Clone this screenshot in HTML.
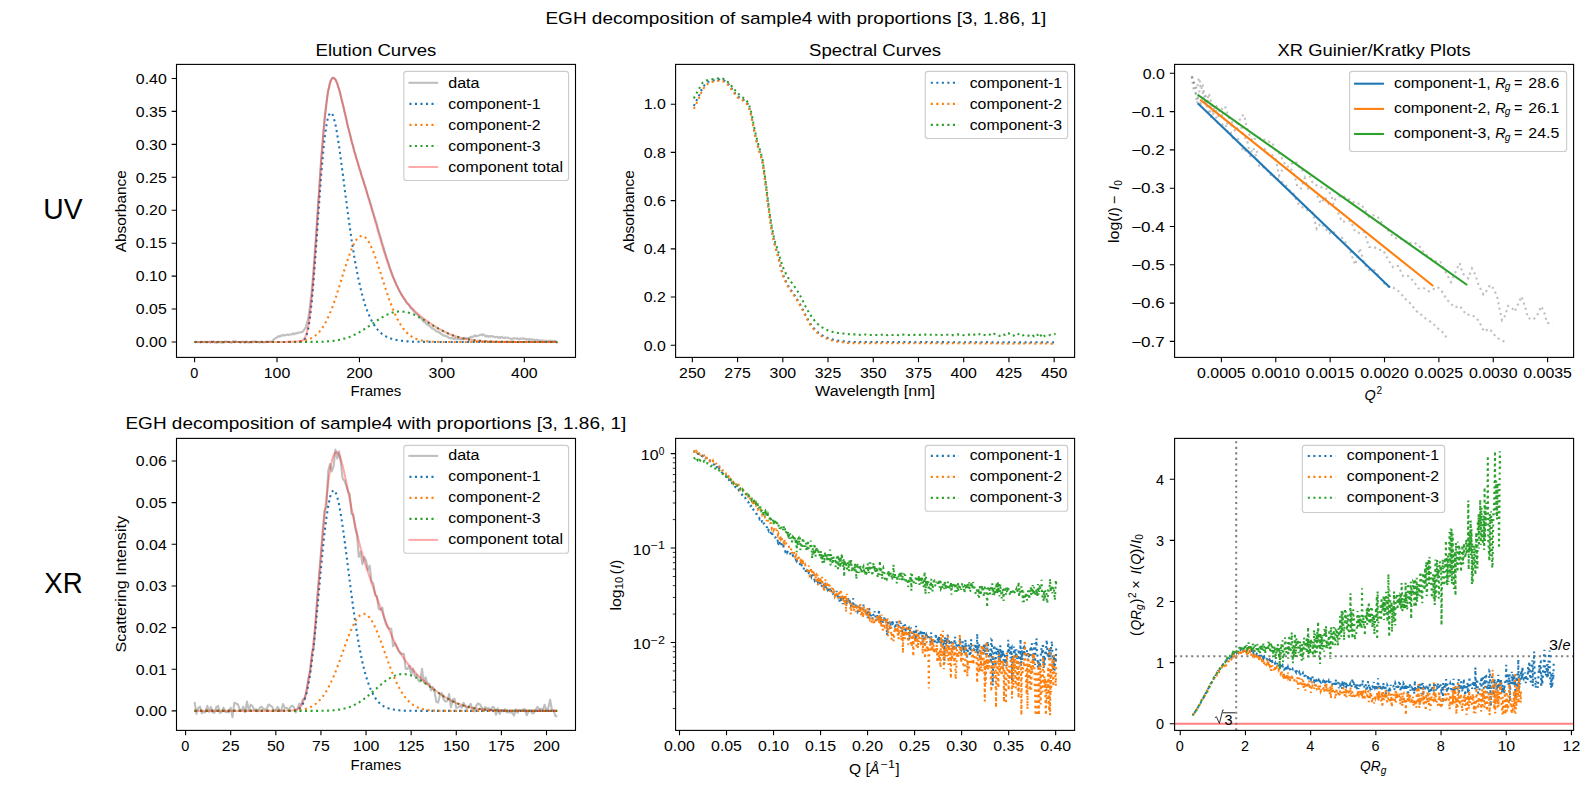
<!DOCTYPE html>
<html><head><meta charset="utf-8"><title>EGH decomposition</title>
<style>
html,body{margin:0;padding:0;background:#fff;}
body{width:1589px;height:789px;overflow:hidden;}
svg{display:block;font-family:"Liberation Sans",sans-serif;}
text{white-space:pre;}
</style></head><body>
<svg width="1589" height="789" viewBox="0 0 1589 789">
<rect width="1589" height="789" fill="#fff"/>
<text x="545.48" y="24.00" font-size="17.33" textLength="500.85" lengthAdjust="spacingAndGlyphs">EGH decomposition of sample4 with proportions [3, 1.86, 1]</text>
<text x="43.33" y="219.00" font-size="28.89" textLength="39.33" lengthAdjust="spacingAndGlyphs">UV</text>
<text x="44.33" y="592.50" font-size="28.89" textLength="38.33" lengthAdjust="spacingAndGlyphs">XR</text>
<clipPath id="c1"><rect x="176.50" y="64.40" width="399.00" height="293.00"/></clipPath>
<g clip-path="url(#c1)">
<path d="M194.6 341.3L195.4 342.2L196.2 342.0L197.1 341.8L197.9 342.3L198.7 342.0L199.5 342.0L200.4 342.7L201.2 341.6L202.0 341.8L202.8 342.2L203.7 342.1L204.5 341.8L205.3 342.1L206.1 342.1L207.0 342.6L207.8 341.8L208.6 342.0L209.4 341.9L210.3 342.6L211.1 341.3L211.9 341.9L212.7 342.2L213.6 341.2L214.4 342.0L215.2 342.6L216.0 342.2L216.9 342.9L217.7 341.6L218.5 342.2L219.3 342.3L220.2 341.6L221.0 342.7L221.8 341.8L222.6 342.8L223.5 342.3L224.3 342.5L225.1 341.4L225.9 341.3L226.7 342.1L227.6 341.7L228.4 342.1L229.2 341.8L230.0 342.3L230.9 342.7L231.7 342.7L232.5 341.8L233.3 341.1L234.2 341.9L235.0 342.2L235.8 341.2L236.6 341.9L237.5 342.0L238.3 341.9L239.1 342.1L239.9 342.1L240.8 342.6L241.6 341.8L242.4 342.0L243.2 341.5L244.1 342.1L244.9 342.8L245.7 342.0L246.5 341.3L247.4 342.2L248.2 342.4L249.0 342.5L249.8 342.4L250.7 342.1L251.5 342.5L252.3 341.4L253.1 342.1L253.9 342.0L254.8 341.4L255.6 341.4L256.4 342.1L257.2 341.9L258.1 341.7L258.9 342.1L259.7 342.7L260.5 341.7L261.4 341.6L262.2 341.8L263.0 342.4L263.8 342.1L264.7 342.2L265.5 342.1L266.3 341.5L267.1 341.4L268.0 341.7L268.8 341.7L269.6 341.6L270.4 341.8L271.3 341.7L272.1 341.6L272.9 340.9L273.7 339.2L274.6 338.9L275.4 338.4L276.2 337.7L277.0 337.4L277.9 336.5L278.7 336.2L279.5 336.7L280.3 335.8L281.2 336.1L282.0 335.2L282.8 335.5L283.6 334.8L284.4 335.5L285.3 335.3L286.1 335.0L286.9 334.6L287.7 334.6L288.6 335.2L289.4 334.5L290.2 334.5L291.0 334.5L291.9 334.5L292.7 333.4L293.5 334.1L294.3 334.1L295.2 333.4L296.0 333.4L296.8 333.4L297.6 332.8L298.5 332.8L299.3 332.6L300.1 332.2L300.9 332.2L301.8 332.2L302.6 331.6L303.4 330.9L304.2 329.6L305.1 328.7L305.9 327.0L306.7 323.8L307.5 321.1L308.4 317.2L309.2 311.3L310.0 305.7L310.8 298.3L311.7 290.7L312.5 282.1L313.3 272.4L314.1 261.5L314.9 250.3L315.8 238.9L316.6 226.6L317.4 214.9L318.2 202.0L319.1 190.5L319.9 177.8L320.7 165.8L321.5 154.5L322.4 143.6L323.2 134.9L324.0 124.8L324.8 116.1L325.7 108.6L326.5 102.5L327.3 96.1L328.1 90.4L329.0 87.6L329.8 83.4L330.6 80.6L331.4 79.5L332.3 77.8L333.1 78.1L333.9 78.1L334.7 78.9L335.6 79.7L336.4 81.5L337.2 83.1L338.0 86.3L338.9 88.7L339.7 91.2L340.5 94.5L341.3 98.5L342.1 101.1L343.0 105.1L343.8 108.3L344.6 111.9L345.4 115.1L346.3 119.1L347.1 123.4L347.9 126.7L348.7 129.3L349.6 133.0L350.4 135.8L351.2 139.4L352.0 142.9L352.9 145.3L353.7 149.0L354.5 152.5L355.3 153.8L356.2 158.2L357.0 160.0L357.8 162.6L358.6 165.6L359.5 169.0L360.3 170.6L361.1 174.2L361.9 176.8L362.8 179.0L363.6 181.2L364.4 184.0L365.2 186.4L366.1 189.5L366.9 192.0L367.7 195.0L368.5 197.3L369.4 199.6L370.2 202.6L371.0 205.0L371.8 208.1L372.6 210.8L373.5 213.2L374.3 216.1L375.1 218.5L375.9 221.4L376.8 223.6L377.6 227.2L378.4 230.0L379.2 233.1L380.1 235.5L380.9 238.1L381.7 241.5L382.5 244.0L383.4 246.5L384.2 249.7L385.0 252.6L385.8 254.7L386.7 257.7L387.5 260.2L388.3 262.5L389.1 265.0L390.0 268.1L390.8 270.5L391.6 272.5L392.4 274.9L393.3 277.8L394.1 278.6L394.9 281.1L395.7 282.8L396.6 285.4L397.4 286.2L398.2 288.6L399.0 290.1L399.9 292.2L400.7 293.2L401.5 294.7L402.3 296.1L403.1 297.2L404.0 298.6L404.8 299.5L405.6 301.3L406.4 302.7L407.3 303.4L408.1 304.2L408.9 305.0L409.7 306.2L410.6 308.3L411.4 308.4L412.2 308.9L413.0 310.4L413.9 311.5L414.7 312.1L415.5 313.2L416.3 313.6L417.2 314.7L418.0 315.0L418.8 316.2L419.6 317.5L420.5 317.7L421.3 318.4L422.1 319.7L422.9 320.4L423.8 321.9L424.6 321.4L425.4 322.7L426.2 324.0L427.1 324.6L427.9 324.7L428.7 325.0L429.5 326.0L430.3 326.4L431.2 327.7L432.0 328.4L432.8 328.2L433.6 328.9L434.5 329.7L435.3 329.8L436.1 331.2L436.9 331.6L437.8 331.5L438.6 331.7L439.4 332.9L440.2 332.8L441.1 334.1L441.9 334.2L442.7 334.8L443.5 335.8L444.4 335.5L445.2 335.6L446.0 336.3L446.8 336.6L447.7 336.4L448.5 337.7L449.3 338.1L450.1 338.0L451.0 338.4L451.8 337.6L452.6 338.3L453.4 338.9L454.3 338.9L455.1 337.7L455.9 339.2L456.7 339.3L457.6 339.0L458.4 338.9L459.2 339.1L460.0 339.5L460.8 339.6L461.7 338.8L462.5 339.0L463.3 339.5L464.1 338.3L465.0 338.3L465.8 338.5L466.6 338.4L467.4 338.0L468.3 338.1L469.1 338.1L469.9 337.2L470.7 337.7L471.6 336.7L472.4 337.2L473.2 336.4L474.0 336.2L474.9 335.2L475.7 336.2L476.5 336.1L477.3 335.7L478.2 335.7L479.0 335.4L479.8 335.0L480.6 334.8L481.5 334.5L482.3 335.5L483.1 334.3L483.9 334.7L484.8 335.6L485.6 336.6L486.4 335.8L487.2 335.9L488.1 336.9L488.9 336.1L489.7 336.3L490.5 336.6L491.3 336.1L492.2 336.1L493.0 336.8L493.8 336.6L494.6 337.0L495.5 337.1L496.3 336.9L497.1 336.8L497.9 337.3L498.8 338.0L499.6 337.0L500.4 337.9L501.2 337.3L502.1 336.8L502.9 337.5L503.7 338.1L504.5 338.3L505.4 337.3L506.2 337.8L507.0 337.7L507.8 337.6L508.7 338.0L509.5 338.2L510.3 338.5L511.1 339.4L512.0 338.8L512.8 338.3L513.6 338.4L514.4 338.3L515.3 338.5L516.1 338.5L516.9 338.3L517.7 339.0L518.5 338.8L519.4 339.4L520.2 338.4L521.0 338.8L521.8 338.7L522.7 338.3L523.5 338.5L524.3 339.0L525.1 338.8L526.0 339.7L526.8 339.1L527.6 339.3L528.4 340.0L529.3 338.9L530.1 339.8L530.9 339.3L531.7 339.8L532.6 339.3L533.4 339.3L534.2 340.2L535.0 340.5L535.9 340.0L536.7 339.7L537.5 340.2L538.3 340.4L539.2 340.0L540.0 341.4L540.8 340.6L541.6 340.9L542.5 340.3L543.3 340.8L544.1 341.0L544.9 340.7L545.8 341.2L546.6 340.7L547.4 341.0L548.2 340.9L549.0 341.1L549.9 340.5L550.7 340.9L551.5 340.7L552.3 340.8L553.2 341.3L554.0 340.8L554.8 340.9L555.6 341.3L556.5 342.3L557.3 343.3" fill="none" stroke="#808080" stroke-width="2.083" stroke-linejoin="round" stroke-opacity="0.50"/>
<path d="M194.6 342.0L195.4 342.0L196.2 342.0L197.1 342.0L197.9 342.0L198.7 342.0L199.5 342.0L200.4 342.0L201.2 342.0L202.0 342.0L202.8 342.0L203.7 342.0L204.5 342.0L205.3 342.0L206.1 342.0L207.0 342.0L207.8 342.0L208.6 342.0L209.4 342.0L210.3 342.0L211.1 342.0L211.9 342.0L212.7 342.0L213.6 342.0L214.4 342.0L215.2 342.0L216.0 342.0L216.9 342.0L217.7 342.0L218.5 342.0L219.3 342.0L220.2 342.0L221.0 342.0L221.8 342.0L222.6 342.0L223.5 342.0L224.3 342.0L225.1 342.0L225.9 342.0L226.7 342.0L227.6 342.0L228.4 342.0L229.2 342.0L230.0 342.0L230.9 342.0L231.7 342.0L232.5 342.0L233.3 342.0L234.2 342.0L235.0 342.0L235.8 342.0L236.6 342.0L237.5 342.0L238.3 342.0L239.1 342.0L239.9 342.0L240.8 342.0L241.6 342.0L242.4 342.0L243.2 342.0L244.1 342.0L244.9 342.0L245.7 342.0L246.5 342.0L247.4 342.0L248.2 342.0L249.0 342.0L249.8 342.0L250.7 342.0L251.5 342.0L252.3 342.0L253.1 342.0L253.9 342.0L254.8 342.0L255.6 342.0L256.4 342.0L257.2 342.0L258.1 342.0L258.9 342.0L259.7 342.0L260.5 342.0L261.4 342.0L262.2 342.0L263.0 342.0L263.8 342.0L264.7 342.0L265.5 342.0L266.3 342.0L267.1 342.0L268.0 342.0L268.8 342.0L269.6 342.0L270.4 342.0L271.3 342.0L272.1 342.0L272.9 342.0L273.7 342.0L274.6 342.0L275.4 342.0L276.2 342.0L277.0 342.0L277.9 342.0L278.7 342.0L279.5 342.0L280.3 342.0L281.2 342.0L282.0 342.0L282.8 342.0L283.6 342.0L284.4 342.0L285.3 342.0L286.1 342.0L286.9 342.0L287.7 342.0L288.6 342.0L289.4 342.0L290.2 342.0L291.0 342.0L291.9 342.0L292.7 342.0L293.5 342.0L294.3 342.0L295.2 342.0L296.0 342.0L296.8 342.0L297.6 342.0L298.5 342.0L299.3 342.0L300.1 341.9L300.9 341.9L301.8 341.7L302.6 341.4L303.4 340.9L304.2 340.1L305.1 338.9L305.9 337.2L306.7 334.8L307.5 331.7L308.4 327.8L309.2 323.0L310.0 317.1L310.8 310.3L311.7 302.5L312.5 293.8L313.3 284.3L314.1 274.0L314.9 263.0L315.8 251.6L316.6 239.9L317.4 227.9L318.2 216.0L319.1 204.2L319.9 192.8L320.7 181.7L321.5 171.2L322.4 161.4L323.2 152.4L324.0 144.2L324.8 136.9L325.7 130.5L326.5 125.1L327.3 120.7L328.1 117.3L329.0 114.9L329.8 113.4L330.6 112.8L331.4 113.0L332.3 114.1L333.1 115.9L333.9 118.4L334.7 121.6L335.6 125.3L336.4 129.6L337.2 134.3L338.0 139.4L338.9 144.9L339.7 150.6L340.5 156.6L341.3 162.7L342.1 169.0L343.0 175.4L343.8 181.8L344.6 188.3L345.4 194.7L346.3 201.1L347.1 207.4L347.9 213.6L348.7 219.7L349.6 225.7L350.4 231.5L351.2 237.2L352.0 242.7L352.9 248.0L353.7 253.1L354.5 258.0L355.3 262.8L356.2 267.3L357.0 271.7L357.8 275.8L358.6 279.8L359.5 283.6L360.3 287.2L361.1 290.6L361.9 293.8L362.8 296.9L363.6 299.8L364.4 302.5L365.2 305.1L366.1 307.6L366.9 309.9L367.7 312.1L368.5 314.1L369.4 316.0L370.2 317.8L371.0 319.5L371.8 321.1L372.6 322.6L373.5 323.9L374.3 325.2L375.1 326.4L375.9 327.6L376.8 328.6L377.6 329.6L378.4 330.5L379.2 331.4L380.1 332.2L380.9 332.9L381.7 333.6L382.5 334.2L383.4 334.8L384.2 335.4L385.0 335.9L385.8 336.3L386.7 336.8L387.5 337.2L388.3 337.6L389.1 337.9L390.0 338.2L390.8 338.5L391.6 338.8L392.4 339.0L393.3 339.3L394.1 339.5L394.9 339.7L395.7 339.9L396.6 340.0L397.4 340.2L398.2 340.4L399.0 340.5L399.9 340.6L400.7 340.7L401.5 340.8L402.3 340.9L403.1 341.0L404.0 341.1L404.8 341.2L405.6 341.2L406.4 341.3L407.3 341.4L408.1 341.4L408.9 341.5L409.7 341.5L410.6 341.5L411.4 341.6L412.2 341.6L413.0 341.7L413.9 341.7L414.7 341.7L415.5 341.7L416.3 341.8L417.2 341.8L418.0 341.8L418.8 341.8L419.6 341.8L420.5 341.8L421.3 341.9L422.1 341.9L422.9 341.9L423.8 341.9L424.6 341.9L425.4 341.9L426.2 341.9L427.1 341.9L427.9 341.9L428.7 341.9L429.5 341.9L430.3 341.9L431.2 342.0L432.0 342.0L432.8 342.0L433.6 342.0L434.5 342.0L435.3 342.0L436.1 342.0L436.9 342.0L437.8 342.0L438.6 342.0L439.4 342.0L440.2 342.0L441.1 342.0L441.9 342.0L442.7 342.0L443.5 342.0L444.4 342.0L445.2 342.0L446.0 342.0L446.8 342.0L447.7 342.0L448.5 342.0L449.3 342.0L450.1 342.0L451.0 342.0L451.8 342.0L452.6 342.0L453.4 342.0L454.3 342.0L455.1 342.0L455.9 342.0L456.7 342.0L457.6 342.0L458.4 342.0L459.2 342.0L460.0 342.0L460.8 342.0L461.7 342.0L462.5 342.0L463.3 342.0L464.1 342.0L465.0 342.0L465.8 342.0L466.6 342.0L467.4 342.0L468.3 342.0L469.1 342.0L469.9 342.0L470.7 342.0L471.6 342.0L472.4 342.0L473.2 342.0L474.0 342.0L474.9 342.0L475.7 342.0L476.5 342.0L477.3 342.0L478.2 342.0L479.0 342.0L479.8 342.0L480.6 342.0L481.5 342.0L482.3 342.0L483.1 342.0L483.9 342.0L484.8 342.0L485.6 342.0L486.4 342.0L487.2 342.0L488.1 342.0L488.9 342.0L489.7 342.0L490.5 342.0L491.3 342.0L492.2 342.0L493.0 342.0L493.8 342.0L494.6 342.0L495.5 342.0L496.3 342.0L497.1 342.0L497.9 342.0L498.8 342.0L499.6 342.0L500.4 342.0L501.2 342.0L502.1 342.0L502.9 342.0L503.7 342.0L504.5 342.0L505.4 342.0L506.2 342.0L507.0 342.0L507.8 342.0L508.7 342.0L509.5 342.0L510.3 342.0L511.1 342.0L512.0 342.0L512.8 342.0L513.6 342.0L514.4 342.0L515.3 342.0L516.1 342.0L516.9 342.0L517.7 342.0L518.5 342.0L519.4 342.0L520.2 342.0L521.0 342.0L521.8 342.0L522.7 342.0L523.5 342.0L524.3 342.0L525.1 342.0L526.0 342.0L526.8 342.0L527.6 342.0L528.4 342.0L529.3 342.0L530.1 342.0L530.9 342.0L531.7 342.0L532.6 342.0L533.4 342.0L534.2 342.0L535.0 342.0L535.9 342.0L536.7 342.0L537.5 342.0L538.3 342.0L539.2 342.0L540.0 342.0L540.8 342.0L541.6 342.0L542.5 342.0L543.3 342.0L544.1 342.0L544.9 342.0L545.8 342.0L546.6 342.0L547.4 342.0L548.2 342.0L549.0 342.0L549.9 342.0L550.7 342.0L551.5 342.0L552.3 342.0L553.2 342.0L554.0 342.0L554.8 342.0L555.6 342.0L556.5 342.0L557.3 342.0" fill="none" stroke="#1f77b4" stroke-width="2.083" stroke-dasharray="2.083 3.437"/>
<path d="M194.6 342.0L195.4 342.0L196.2 342.0L197.1 342.0L197.9 342.0L198.7 342.0L199.5 342.0L200.4 342.0L201.2 342.0L202.0 342.0L202.8 342.0L203.7 342.0L204.5 342.0L205.3 342.0L206.1 342.0L207.0 342.0L207.8 342.0L208.6 342.0L209.4 342.0L210.3 342.0L211.1 342.0L211.9 342.0L212.7 342.0L213.6 342.0L214.4 342.0L215.2 342.0L216.0 342.0L216.9 342.0L217.7 342.0L218.5 342.0L219.3 342.0L220.2 342.0L221.0 342.0L221.8 342.0L222.6 342.0L223.5 342.0L224.3 342.0L225.1 342.0L225.9 342.0L226.7 342.0L227.6 342.0L228.4 342.0L229.2 342.0L230.0 342.0L230.9 342.0L231.7 342.0L232.5 342.0L233.3 342.0L234.2 342.0L235.0 342.0L235.8 342.0L236.6 342.0L237.5 342.0L238.3 342.0L239.1 342.0L239.9 342.0L240.8 342.0L241.6 342.0L242.4 342.0L243.2 342.0L244.1 342.0L244.9 342.0L245.7 342.0L246.5 342.0L247.4 342.0L248.2 342.0L249.0 342.0L249.8 342.0L250.7 342.0L251.5 342.0L252.3 342.0L253.1 342.0L253.9 342.0L254.8 342.0L255.6 342.0L256.4 342.0L257.2 342.0L258.1 342.0L258.9 342.0L259.7 342.0L260.5 342.0L261.4 342.0L262.2 342.0L263.0 342.0L263.8 342.0L264.7 342.0L265.5 342.0L266.3 342.0L267.1 342.0L268.0 342.0L268.8 342.0L269.6 342.0L270.4 342.0L271.3 342.0L272.1 342.0L272.9 342.0L273.7 342.0L274.6 342.0L275.4 342.0L276.2 342.0L277.0 342.0L277.9 342.0L278.7 342.0L279.5 342.0L280.3 342.0L281.2 342.0L282.0 342.0L282.8 342.0L283.6 342.0L284.4 342.0L285.3 342.0L286.1 341.9L286.9 341.9L287.7 341.9L288.6 341.9L289.4 341.9L290.2 341.9L291.0 341.9L291.9 341.8L292.7 341.8L293.5 341.8L294.3 341.7L295.2 341.7L296.0 341.7L296.8 341.6L297.6 341.5L298.5 341.5L299.3 341.4L300.1 341.3L300.9 341.2L301.8 341.1L302.6 340.9L303.4 340.8L304.2 340.6L305.1 340.4L305.9 340.2L306.7 340.0L307.5 339.7L308.4 339.5L309.2 339.1L310.0 338.8L310.8 338.4L311.7 338.0L312.5 337.5L313.3 337.0L314.1 336.5L314.9 335.9L315.8 335.2L316.6 334.5L317.4 333.7L318.2 332.9L319.1 332.0L319.9 331.1L320.7 330.0L321.5 328.9L322.4 327.8L323.2 326.5L324.0 325.2L324.8 323.8L325.7 322.3L326.5 320.7L327.3 319.0L328.1 317.3L329.0 315.5L329.8 313.6L330.6 311.6L331.4 309.5L332.3 307.3L333.1 305.1L333.9 302.8L334.7 300.5L335.6 298.0L336.4 295.6L337.2 293.0L338.0 290.4L338.9 287.8L339.7 285.2L340.5 282.5L341.3 279.8L342.1 277.1L343.0 274.4L343.8 271.8L344.6 269.1L345.4 266.5L346.3 263.9L347.1 261.4L347.9 259.0L348.7 256.6L349.6 254.3L350.4 252.1L351.2 250.0L352.0 248.0L352.9 246.2L353.7 244.4L354.5 242.9L355.3 241.4L356.2 240.1L357.0 239.0L357.8 238.1L358.6 237.3L359.5 236.7L360.3 236.3L361.1 236.0L361.9 235.9L362.8 236.0L363.6 236.3L364.4 236.8L365.2 237.4L366.1 238.2L366.9 239.2L367.7 240.3L368.5 241.6L369.4 243.1L370.2 244.7L371.0 246.4L371.8 248.2L372.6 250.2L373.5 252.2L374.3 254.4L375.1 256.6L375.9 259.0L376.8 261.4L377.6 263.8L378.4 266.3L379.2 268.9L380.1 271.4L380.9 274.0L381.7 276.6L382.5 279.2L383.4 281.8L384.2 284.4L385.0 287.0L385.8 289.5L386.7 292.0L387.5 294.4L388.3 296.8L389.1 299.2L390.0 301.5L390.8 303.7L391.6 305.9L392.4 308.0L393.3 310.0L394.1 311.9L394.9 313.8L395.7 315.6L396.6 317.3L397.4 319.0L398.2 320.6L399.0 322.1L399.9 323.5L400.7 324.8L401.5 326.1L402.3 327.3L403.1 328.4L404.0 329.5L404.8 330.5L405.6 331.4L406.4 332.3L407.3 333.1L408.1 333.9L408.9 334.6L409.7 335.2L410.6 335.8L411.4 336.4L412.2 336.9L413.0 337.4L413.9 337.8L414.7 338.2L415.5 338.6L416.3 338.9L417.2 339.2L418.0 339.5L418.8 339.8L419.6 340.0L420.5 340.2L421.3 340.4L422.1 340.6L422.9 340.7L423.8 340.9L424.6 341.0L425.4 341.1L426.2 341.2L427.1 341.3L427.9 341.4L428.7 341.5L429.5 341.5L430.3 341.6L431.2 341.6L432.0 341.7L432.8 341.7L433.6 341.8L434.5 341.8L435.3 341.8L436.1 341.8L436.9 341.9L437.8 341.9L438.6 341.9L439.4 341.9L440.2 341.9L441.1 341.9L441.9 341.9L442.7 341.9L443.5 342.0L444.4 342.0L445.2 342.0L446.0 342.0L446.8 342.0L447.7 342.0L448.5 342.0L449.3 342.0L450.1 342.0L451.0 342.0L451.8 342.0L452.6 342.0L453.4 342.0L454.3 342.0L455.1 342.0L455.9 342.0L456.7 342.0L457.6 342.0L458.4 342.0L459.2 342.0L460.0 342.0L460.8 342.0L461.7 342.0L462.5 342.0L463.3 342.0L464.1 342.0L465.0 342.0L465.8 342.0L466.6 342.0L467.4 342.0L468.3 342.0L469.1 342.0L469.9 342.0L470.7 342.0L471.6 342.0L472.4 342.0L473.2 342.0L474.0 342.0L474.9 342.0L475.7 342.0L476.5 342.0L477.3 342.0L478.2 342.0L479.0 342.0L479.8 342.0L480.6 342.0L481.5 342.0L482.3 342.0L483.1 342.0L483.9 342.0L484.8 342.0L485.6 342.0L486.4 342.0L487.2 342.0L488.1 342.0L488.9 342.0L489.7 342.0L490.5 342.0L491.3 342.0L492.2 342.0L493.0 342.0L493.8 342.0L494.6 342.0L495.5 342.0L496.3 342.0L497.1 342.0L497.9 342.0L498.8 342.0L499.6 342.0L500.4 342.0L501.2 342.0L502.1 342.0L502.9 342.0L503.7 342.0L504.5 342.0L505.4 342.0L506.2 342.0L507.0 342.0L507.8 342.0L508.7 342.0L509.5 342.0L510.3 342.0L511.1 342.0L512.0 342.0L512.8 342.0L513.6 342.0L514.4 342.0L515.3 342.0L516.1 342.0L516.9 342.0L517.7 342.0L518.5 342.0L519.4 342.0L520.2 342.0L521.0 342.0L521.8 342.0L522.7 342.0L523.5 342.0L524.3 342.0L525.1 342.0L526.0 342.0L526.8 342.0L527.6 342.0L528.4 342.0L529.3 342.0L530.1 342.0L530.9 342.0L531.7 342.0L532.6 342.0L533.4 342.0L534.2 342.0L535.0 342.0L535.9 342.0L536.7 342.0L537.5 342.0L538.3 342.0L539.2 342.0L540.0 342.0L540.8 342.0L541.6 342.0L542.5 342.0L543.3 342.0L544.1 342.0L544.9 342.0L545.8 342.0L546.6 342.0L547.4 342.0L548.2 342.0L549.0 342.0L549.9 342.0L550.7 342.0L551.5 342.0L552.3 342.0L553.2 342.0L554.0 342.0L554.8 342.0L555.6 342.0L556.5 342.0L557.3 342.0" fill="none" stroke="#ff7f0e" stroke-width="2.083" stroke-dasharray="2.083 3.437"/>
<path d="M194.6 342.0L195.4 342.0L196.2 342.0L197.1 342.0L197.9 342.0L198.7 342.0L199.5 342.0L200.4 342.0L201.2 342.0L202.0 342.0L202.8 342.0L203.7 342.0L204.5 342.0L205.3 342.0L206.1 342.0L207.0 342.0L207.8 342.0L208.6 342.0L209.4 342.0L210.3 342.0L211.1 342.0L211.9 342.0L212.7 342.0L213.6 342.0L214.4 342.0L215.2 342.0L216.0 342.0L216.9 342.0L217.7 342.0L218.5 342.0L219.3 342.0L220.2 342.0L221.0 342.0L221.8 342.0L222.6 342.0L223.5 342.0L224.3 342.0L225.1 342.0L225.9 342.0L226.7 342.0L227.6 342.0L228.4 342.0L229.2 342.0L230.0 342.0L230.9 342.0L231.7 342.0L232.5 342.0L233.3 342.0L234.2 342.0L235.0 342.0L235.8 342.0L236.6 342.0L237.5 342.0L238.3 342.0L239.1 342.0L239.9 342.0L240.8 342.0L241.6 342.0L242.4 342.0L243.2 342.0L244.1 342.0L244.9 342.0L245.7 342.0L246.5 342.0L247.4 342.0L248.2 342.0L249.0 342.0L249.8 342.0L250.7 342.0L251.5 342.0L252.3 342.0L253.1 342.0L253.9 342.0L254.8 342.0L255.6 342.0L256.4 342.0L257.2 342.0L258.1 342.0L258.9 342.0L259.7 342.0L260.5 342.0L261.4 342.0L262.2 342.0L263.0 342.0L263.8 342.0L264.7 342.0L265.5 342.0L266.3 342.0L267.1 342.0L268.0 342.0L268.8 342.0L269.6 342.0L270.4 342.0L271.3 342.0L272.1 342.0L272.9 342.0L273.7 342.0L274.6 342.0L275.4 342.0L276.2 342.0L277.0 342.0L277.9 342.0L278.7 342.0L279.5 342.0L280.3 342.0L281.2 342.0L282.0 342.0L282.8 342.0L283.6 342.0L284.4 342.0L285.3 342.0L286.1 342.0L286.9 342.0L287.7 342.0L288.6 342.0L289.4 342.0L290.2 342.0L291.0 342.0L291.9 342.0L292.7 342.0L293.5 342.0L294.3 342.0L295.2 342.0L296.0 342.0L296.8 342.0L297.6 342.0L298.5 342.0L299.3 342.0L300.1 342.0L300.9 342.0L301.8 342.0L302.6 342.0L303.4 342.0L304.2 342.0L305.1 342.0L305.9 342.0L306.7 342.0L307.5 342.0L308.4 342.0L309.2 342.0L310.0 341.9L310.8 341.9L311.7 341.9L312.5 341.9L313.3 341.9L314.1 341.9L314.9 341.9L315.8 341.9L316.6 341.9L317.4 341.8L318.2 341.8L319.1 341.8L319.9 341.8L320.7 341.7L321.5 341.7L322.4 341.7L323.2 341.7L324.0 341.6L324.8 341.6L325.7 341.5L326.5 341.5L327.3 341.4L328.1 341.4L329.0 341.3L329.8 341.2L330.6 341.1L331.4 341.1L332.3 341.0L333.1 340.9L333.9 340.8L334.7 340.7L335.6 340.5L336.4 340.4L337.2 340.3L338.0 340.1L338.9 340.0L339.7 339.8L340.5 339.7L341.3 339.5L342.1 339.3L343.0 339.1L343.8 338.8L344.6 338.6L345.4 338.4L346.3 338.1L347.1 337.9L347.9 337.6L348.7 337.3L349.6 337.0L350.4 336.6L351.2 336.3L352.0 336.0L352.9 335.6L353.7 335.2L354.5 334.8L355.3 334.4L356.2 334.0L357.0 333.6L357.8 333.1L358.6 332.7L359.5 332.2L360.3 331.7L361.1 331.3L361.9 330.8L362.8 330.2L363.6 329.7L364.4 329.2L365.2 328.7L366.1 328.1L366.9 327.6L367.7 327.0L368.5 326.4L369.4 325.9L370.2 325.3L371.0 324.7L371.8 324.2L372.6 323.6L373.5 323.0L374.3 322.4L375.1 321.9L375.9 321.3L376.8 320.7L377.6 320.2L378.4 319.6L379.2 319.1L380.1 318.6L380.9 318.1L381.7 317.6L382.5 317.1L383.4 316.6L384.2 316.1L385.0 315.7L385.8 315.3L386.7 314.9L387.5 314.5L388.3 314.1L389.1 313.8L390.0 313.5L390.8 313.1L391.6 312.9L392.4 312.6L393.3 312.4L394.1 312.2L394.9 312.0L395.7 311.8L396.6 311.7L397.4 311.6L398.2 311.5L399.0 311.5L399.9 311.4L400.7 311.4L401.5 311.5L402.3 311.5L403.1 311.6L404.0 311.7L404.8 311.8L405.6 311.9L406.4 312.1L407.3 312.3L408.1 312.5L408.9 312.8L409.7 313.0L410.6 313.3L411.4 313.6L412.2 313.9L413.0 314.3L413.9 314.6L414.7 315.0L415.5 315.4L416.3 315.8L417.2 316.2L418.0 316.6L418.8 317.0L419.6 317.5L420.5 317.9L421.3 318.4L422.1 318.9L422.9 319.4L423.8 319.8L424.6 320.3L425.4 320.8L426.2 321.3L427.1 321.8L427.9 322.3L428.7 322.8L429.5 323.3L430.3 323.8L431.2 324.3L432.0 324.8L432.8 325.3L433.6 325.8L434.5 326.3L435.3 326.8L436.1 327.3L436.9 327.8L437.8 328.2L438.6 328.7L439.4 329.1L440.2 329.6L441.1 330.0L441.9 330.5L442.7 330.9L443.5 331.3L444.4 331.7L445.2 332.1L446.0 332.5L446.8 332.9L447.7 333.2L448.5 333.6L449.3 333.9L450.1 334.3L451.0 334.6L451.8 334.9L452.6 335.2L453.4 335.5L454.3 335.8L455.1 336.1L455.9 336.4L456.7 336.6L457.6 336.9L458.4 337.1L459.2 337.4L460.0 337.6L460.8 337.8L461.7 338.0L462.5 338.2L463.3 338.4L464.1 338.6L465.0 338.8L465.8 338.9L466.6 339.1L467.4 339.3L468.3 339.4L469.1 339.6L469.9 339.7L470.7 339.8L471.6 339.9L472.4 340.1L473.2 340.2L474.0 340.3L474.9 340.4L475.7 340.5L476.5 340.6L477.3 340.6L478.2 340.7L479.0 340.8L479.8 340.9L480.6 340.9L481.5 341.0L482.3 341.1L483.1 341.1L483.9 341.2L484.8 341.2L485.6 341.3L486.4 341.3L487.2 341.4L488.1 341.4L488.9 341.5L489.7 341.5L490.5 341.5L491.3 341.6L492.2 341.6L493.0 341.6L493.8 341.6L494.6 341.7L495.5 341.7L496.3 341.7L497.1 341.7L497.9 341.8L498.8 341.8L499.6 341.8L500.4 341.8L501.2 341.8L502.1 341.8L502.9 341.8L503.7 341.9L504.5 341.9L505.4 341.9L506.2 341.9L507.0 341.9L507.8 341.9L508.7 341.9L509.5 341.9L510.3 341.9L511.1 341.9L512.0 341.9L512.8 341.9L513.6 341.9L514.4 341.9L515.3 342.0L516.1 342.0L516.9 342.0L517.7 342.0L518.5 342.0L519.4 342.0L520.2 342.0L521.0 342.0L521.8 342.0L522.7 342.0L523.5 342.0L524.3 342.0L525.1 342.0L526.0 342.0L526.8 342.0L527.6 342.0L528.4 342.0L529.3 342.0L530.1 342.0L530.9 342.0L531.7 342.0L532.6 342.0L533.4 342.0L534.2 342.0L535.0 342.0L535.9 342.0L536.7 342.0L537.5 342.0L538.3 342.0L539.2 342.0L540.0 342.0L540.8 342.0L541.6 342.0L542.5 342.0L543.3 342.0L544.1 342.0L544.9 342.0L545.8 342.0L546.6 342.0L547.4 342.0L548.2 342.0L549.0 342.0L549.9 342.0L550.7 342.0L551.5 342.0L552.3 342.0L553.2 342.0L554.0 342.0L554.8 342.0L555.6 342.0L556.5 342.0L557.3 342.0" fill="none" stroke="#2ca02c" stroke-width="2.083" stroke-dasharray="2.083 3.437"/>
<path d="M194.6 342.0L195.4 342.0L196.2 342.0L197.1 342.0L197.9 342.0L198.7 342.0L199.5 342.0L200.4 342.0L201.2 342.0L202.0 342.0L202.8 342.0L203.7 342.0L204.5 342.0L205.3 342.0L206.1 342.0L207.0 342.0L207.8 342.0L208.6 342.0L209.4 342.0L210.3 342.0L211.1 342.0L211.9 342.0L212.7 342.0L213.6 342.0L214.4 342.0L215.2 342.0L216.0 342.0L216.9 342.0L217.7 342.0L218.5 342.0L219.3 342.0L220.2 342.0L221.0 342.0L221.8 342.0L222.6 342.0L223.5 342.0L224.3 342.0L225.1 342.0L225.9 342.0L226.7 342.0L227.6 342.0L228.4 342.0L229.2 342.0L230.0 342.0L230.9 342.0L231.7 342.0L232.5 342.0L233.3 342.0L234.2 342.0L235.0 342.0L235.8 342.0L236.6 342.0L237.5 342.0L238.3 342.0L239.1 342.0L239.9 342.0L240.8 342.0L241.6 342.0L242.4 342.0L243.2 342.0L244.1 342.0L244.9 342.0L245.7 342.0L246.5 342.0L247.4 342.0L248.2 342.0L249.0 342.0L249.8 342.0L250.7 342.0L251.5 342.0L252.3 342.0L253.1 342.0L253.9 342.0L254.8 342.0L255.6 342.0L256.4 342.0L257.2 342.0L258.1 342.0L258.9 342.0L259.7 342.0L260.5 342.0L261.4 342.0L262.2 342.0L263.0 342.0L263.8 342.0L264.7 342.0L265.5 342.0L266.3 342.0L267.1 342.0L268.0 342.0L268.8 342.0L269.6 342.0L270.4 342.0L271.3 342.0L272.1 342.0L272.9 342.0L273.7 342.0L274.6 342.0L275.4 342.0L276.2 342.0L277.0 342.0L277.9 342.0L278.7 342.0L279.5 342.0L280.3 342.0L281.2 342.0L282.0 342.0L282.8 342.0L283.6 342.0L284.4 342.0L285.3 342.0L286.1 341.9L286.9 341.9L287.7 341.9L288.6 341.9L289.4 341.9L290.2 341.9L291.0 341.9L291.9 341.8L292.7 341.8L293.5 341.8L294.3 341.7L295.2 341.7L296.0 341.6L296.8 341.6L297.6 341.5L298.5 341.4L299.3 341.4L300.1 341.2L300.9 341.0L301.8 340.8L302.6 340.3L303.4 339.7L304.2 338.7L305.1 337.3L305.9 335.4L306.7 332.8L307.5 329.5L308.4 325.2L309.2 320.0L310.0 313.9L310.8 306.7L311.7 298.5L312.5 289.3L313.3 279.2L314.1 268.3L314.9 256.8L315.8 244.7L316.6 232.2L317.4 219.5L318.2 206.7L319.1 194.1L319.9 181.6L320.7 169.5L321.5 157.9L322.4 146.9L323.2 136.5L324.0 127.0L324.8 118.2L325.7 110.3L326.5 103.3L327.3 97.2L328.1 92.0L329.0 87.6L329.8 84.1L330.6 81.5L331.4 79.6L332.3 78.4L333.1 77.9L333.9 78.0L334.7 78.7L335.6 79.9L336.4 81.6L337.2 83.6L338.0 86.0L338.9 88.7L339.7 91.6L340.5 94.7L341.3 98.0L342.1 101.4L343.0 104.9L343.8 108.5L344.6 112.0L345.4 115.6L346.3 119.2L347.1 122.7L347.9 126.2L348.7 129.6L349.6 132.9L350.4 136.2L351.2 139.5L352.0 142.6L352.9 145.7L353.7 148.7L354.5 151.7L355.3 154.6L356.2 157.5L357.0 160.3L357.8 163.0L358.6 165.8L359.5 168.5L360.3 171.2L361.1 173.8L361.9 176.5L362.8 179.2L363.6 181.9L364.4 184.5L365.2 187.2L366.1 189.9L366.9 192.7L367.7 195.4L368.5 198.2L369.4 201.0L370.2 203.8L371.0 206.6L371.8 209.4L372.6 212.3L373.5 215.2L374.3 218.1L375.1 220.9L375.9 223.8L376.8 226.7L377.6 229.6L378.4 232.5L379.2 235.3L380.1 238.2L380.9 241.0L381.7 243.8L382.5 246.5L383.4 249.2L384.2 251.9L385.0 254.5L385.8 257.1L386.7 259.6L387.5 262.1L388.3 264.5L389.1 266.9L390.0 269.2L390.8 271.4L391.6 273.5L392.4 275.6L393.3 277.7L394.1 279.6L394.9 281.5L395.7 283.3L396.6 285.1L397.4 286.8L398.2 288.4L399.0 290.0L399.9 291.5L400.7 293.0L401.5 294.4L402.3 295.7L403.1 297.0L404.0 298.3L404.8 299.4L405.6 300.6L406.4 301.7L407.3 302.8L408.1 303.8L408.9 304.8L409.7 305.7L410.6 306.7L411.4 307.6L412.2 308.4L413.0 309.3L413.9 310.1L414.7 310.9L415.5 311.7L416.3 312.4L417.2 313.2L418.0 313.9L418.8 314.6L419.6 315.3L420.5 316.0L421.3 316.7L422.1 317.3L422.9 318.0L423.8 318.6L424.6 319.2L425.4 319.8L426.2 320.5L427.1 321.1L427.9 321.6L428.7 322.2L429.5 322.8L430.3 323.4L431.2 323.9L432.0 324.5L432.8 325.0L433.6 325.5L434.5 326.1L435.3 326.6L436.1 327.1L436.9 327.6L437.8 328.1L438.6 328.6L439.4 329.0L440.2 329.5L441.1 329.9L441.9 330.4L442.7 330.8L443.5 331.2L444.4 331.7L445.2 332.1L446.0 332.4L446.8 332.8L447.7 333.2L448.5 333.6L449.3 333.9L450.1 334.3L451.0 334.6L451.8 334.9L452.6 335.2L453.4 335.5L454.3 335.8L455.1 336.1L455.9 336.4L456.7 336.6L457.6 336.9L458.4 337.1L459.2 337.4L460.0 337.6L460.8 337.8L461.7 338.0L462.5 338.2L463.3 338.4L464.1 338.6L465.0 338.8L465.8 338.9L466.6 339.1L467.4 339.3L468.3 339.4L469.1 339.5L469.9 339.7L470.7 339.8L471.6 339.9L472.4 340.1L473.2 340.2L474.0 340.3L474.9 340.4L475.7 340.5L476.5 340.6L477.3 340.6L478.2 340.7L479.0 340.8L479.8 340.9L480.6 340.9L481.5 341.0L482.3 341.1L483.1 341.1L483.9 341.2L484.8 341.2L485.6 341.3L486.4 341.3L487.2 341.4L488.1 341.4L488.9 341.5L489.7 341.5L490.5 341.5L491.3 341.6L492.2 341.6L493.0 341.6L493.8 341.6L494.6 341.7L495.5 341.7L496.3 341.7L497.1 341.7L497.9 341.8L498.8 341.8L499.6 341.8L500.4 341.8L501.2 341.8L502.1 341.8L502.9 341.8L503.7 341.9L504.5 341.9L505.4 341.9L506.2 341.9L507.0 341.9L507.8 341.9L508.7 341.9L509.5 341.9L510.3 341.9L511.1 341.9L512.0 341.9L512.8 341.9L513.6 341.9L514.4 341.9L515.3 342.0L516.1 342.0L516.9 342.0L517.7 342.0L518.5 342.0L519.4 342.0L520.2 342.0L521.0 342.0L521.8 342.0L522.7 342.0L523.5 342.0L524.3 342.0L525.1 342.0L526.0 342.0L526.8 342.0L527.6 342.0L528.4 342.0L529.3 342.0L530.1 342.0L530.9 342.0L531.7 342.0L532.6 342.0L533.4 342.0L534.2 342.0L535.0 342.0L535.9 342.0L536.7 342.0L537.5 342.0L538.3 342.0L539.2 342.0L540.0 342.0L540.8 342.0L541.6 342.0L542.5 342.0L543.3 342.0L544.1 342.0L544.9 342.0L545.8 342.0L546.6 342.0L547.4 342.0L548.2 342.0L549.0 342.0L549.9 342.0L550.7 342.0L551.5 342.0L552.3 342.0L553.2 342.0L554.0 342.0L554.8 342.0L555.6 342.0L556.5 342.0L557.3 342.0" fill="none" stroke="#ff0000" stroke-width="2.083" stroke-linejoin="round" stroke-opacity="0.33"/>
</g>
<rect x="176.50" y="64.40" width="399.00" height="293.00" fill="none" stroke="#000" stroke-width="1.11" stroke-linejoin="miter"/>
<path d="M194.60 357.40v4.86M277.03 357.40v4.86M359.46 357.40v4.86M441.89 357.40v4.86M524.32 357.40v4.86" stroke="#000" stroke-width="1.11" fill="none"/>
<text x="190.18" y="377.80" font-size="14.44">0</text>
<text x="263.78" y="377.80" font-size="14.44" textLength="26.51" lengthAdjust="spacingAndGlyphs">100</text>
<text x="346.21" y="377.80" font-size="14.44" textLength="26.51" lengthAdjust="spacingAndGlyphs">200</text>
<text x="428.64" y="377.80" font-size="14.44" textLength="26.51" lengthAdjust="spacingAndGlyphs">300</text>
<text x="511.07" y="377.80" font-size="14.44" textLength="26.51" lengthAdjust="spacingAndGlyphs">400</text>
<path d="M176.50 342.00h-4.86M176.50 309.06h-4.86M176.50 276.12h-4.86M176.50 243.18h-4.86M176.50 210.24h-4.86M176.50 177.30h-4.86M176.50 144.36h-4.86M176.50 111.42h-4.86M176.50 78.48h-4.86" stroke="#000" stroke-width="1.11" fill="none"/>
<text x="135.86" y="347.25" font-size="14.44" textLength="30.92" lengthAdjust="spacingAndGlyphs">0.00</text>
<text x="135.86" y="314.31" font-size="14.44" textLength="30.92" lengthAdjust="spacingAndGlyphs">0.05</text>
<text x="135.86" y="281.37" font-size="14.44" textLength="30.92" lengthAdjust="spacingAndGlyphs">0.10</text>
<text x="135.86" y="248.43" font-size="14.44" textLength="30.92" lengthAdjust="spacingAndGlyphs">0.15</text>
<text x="135.86" y="215.49" font-size="14.44" textLength="30.92" lengthAdjust="spacingAndGlyphs">0.20</text>
<text x="135.86" y="182.55" font-size="14.44" textLength="30.92" lengthAdjust="spacingAndGlyphs">0.25</text>
<text x="135.86" y="149.61" font-size="14.44" textLength="30.92" lengthAdjust="spacingAndGlyphs">0.30</text>
<text x="135.86" y="116.67" font-size="14.44" textLength="30.92" lengthAdjust="spacingAndGlyphs">0.35</text>
<text x="135.86" y="83.73" font-size="14.44" textLength="30.92" lengthAdjust="spacingAndGlyphs">0.40</text>
<text x="315.50" y="56.00" font-size="17.33" textLength="120.80" lengthAdjust="spacingAndGlyphs">Elution Curves</text>
<text x="350.64" y="396.30" font-size="14.44" textLength="50.51" lengthAdjust="spacingAndGlyphs">Frames</text>
<g transform="translate(125.70 211.30) rotate(-90)"><text x="-41.04" y="0.00" font-size="14.44" textLength="82.07" lengthAdjust="spacingAndGlyphs">Absorbance</text></g>
<rect x="403.81" y="71.34" width="164.75" height="109.20" rx="2.8" ry="2.8" fill="#fff" fill-opacity="0.8" stroke="#ccc" stroke-width="1.11"/>
<path d="M409.4 82.8L437.1 82.8" fill="none" stroke="#808080" stroke-width="2.083" stroke-linejoin="round" stroke-linecap="square" stroke-opacity="0.50"/>
<text x="448.26" y="87.79" font-size="14.44" textLength="31.28" lengthAdjust="spacingAndGlyphs">data</text>
<path d="M409.4 103.9L437.1 103.9" fill="none" stroke="#1f77b4" stroke-width="2.083" stroke-dasharray="2.083 3.437"/>
<text x="448.26" y="108.84" font-size="14.44" textLength="92.42" lengthAdjust="spacingAndGlyphs">component-1</text>
<path d="M409.4 124.9L437.1 124.9" fill="none" stroke="#ff7f0e" stroke-width="2.083" stroke-dasharray="2.083 3.437"/>
<text x="448.26" y="129.89" font-size="14.44" textLength="92.42" lengthAdjust="spacingAndGlyphs">component-2</text>
<path d="M409.4 146.0L437.1 146.0" fill="none" stroke="#2ca02c" stroke-width="2.083" stroke-dasharray="2.083 3.437"/>
<text x="448.26" y="150.94" font-size="14.44" textLength="92.42" lengthAdjust="spacingAndGlyphs">component-3</text>
<path d="M409.4 167.0L437.1 167.0" fill="none" stroke="#ff0000" stroke-width="2.083" stroke-linejoin="round" stroke-linecap="square" stroke-opacity="0.33"/>
<text x="448.26" y="171.99" font-size="14.44" textLength="114.75" lengthAdjust="spacingAndGlyphs">component total</text>
<clipPath id="c2"><rect x="675.60" y="64.40" width="399.00" height="293.00"/></clipPath>
<g clip-path="url(#c2)">
<path d="M693.8 106.0L695.6 102.4L697.4 98.8L699.2 95.1L701.0 91.0L702.8 87.3L704.7 84.9L706.5 83.2L708.3 81.8L710.1 81.1L711.9 80.7L713.7 80.4L715.5 80.1L717.3 79.8L719.1 79.5L720.9 79.4L722.7 79.9L724.6 80.9L726.4 82.1L728.2 83.8L730.0 86.2L731.8 88.6L733.6 91.2L735.4 93.8L737.2 96.0L739.0 97.3L740.8 98.2L742.6 99.2L744.4 100.5L746.3 102.1L748.1 104.6L749.9 109.7L751.7 117.1L753.5 126.9L755.3 135.3L757.1 142.9L758.9 149.4L760.7 154.7L762.5 161.6L764.3 174.3L766.2 188.8L768.0 203.7L769.8 217.1L771.6 228.6L773.4 238.0L775.2 245.7L777.0 252.0L778.8 258.6L780.6 266.4L782.4 272.8L784.2 277.7L786.1 281.7L787.9 285.2L789.7 288.3L791.5 290.9L793.3 293.4L795.1 296.0L796.9 298.9L798.7 301.9L800.5 305.1L802.3 308.5L804.1 312.3L806.0 315.9L807.8 319.2L809.6 322.4L811.4 325.2L813.2 327.5L815.0 329.5L816.8 331.3L818.6 332.9L820.4 334.1L822.2 335.3L824.0 336.3L825.9 337.2L827.7 337.9L829.5 338.5L831.3 339.1L833.1 339.6L834.9 340.0L836.7 340.4L838.5 340.7L840.3 340.9L842.1 341.1L843.9 341.3L845.8 341.5L847.6 341.7L849.4 341.8L851.2 341.9L853.0 342.0L854.8 342.0L856.6 342.0L858.4 342.0L860.2 342.0L862.0 342.0L863.8 342.0L865.7 342.0L867.5 342.0L869.3 342.0L871.1 342.0L872.9 342.0L874.7 342.0L876.5 342.0L878.3 341.9L880.1 341.9L881.9 342.0L883.7 342.0L885.6 342.0L887.4 342.0L889.2 342.0L891.0 342.0L892.8 342.0L894.6 342.0L896.4 342.0L898.2 342.0L900.0 342.0L901.8 342.0L903.6 341.9L905.5 342.0L907.3 342.0L909.1 342.1L910.9 342.0L912.7 342.0L914.5 342.0L916.3 342.2L918.1 342.1L919.9 342.1L921.7 342.1L923.5 342.1L925.3 342.1L927.2 342.0L929.0 342.1L930.8 342.1L932.6 342.2L934.4 342.0L936.2 342.1L938.0 342.1L939.8 342.2L941.6 342.1L943.4 342.1L945.2 342.1L947.1 342.1L948.9 342.3L950.7 342.2L952.5 342.2L954.3 342.2L956.1 342.1L957.9 342.3L959.7 342.3L961.5 342.2L963.3 342.2L965.1 342.3L967.0 342.2L968.8 342.3L970.6 342.1L972.4 342.1L974.2 342.3L976.0 342.2L977.8 342.4L979.6 342.2L981.4 342.2L983.2 342.1L985.0 342.1L986.9 342.1L988.7 342.3L990.5 342.1L992.3 342.4L994.1 342.4L995.9 342.2L997.7 342.5L999.5 342.3L1001.3 342.4L1003.1 342.3L1004.9 342.4L1006.8 342.2L1008.6 342.4L1010.4 342.3L1012.2 342.3L1014.0 342.4L1015.8 342.3L1017.6 342.3L1019.4 342.4L1021.2 342.4L1023.0 342.2L1024.8 342.4L1026.7 342.4L1028.5 342.2L1030.3 342.4L1032.1 342.2L1033.9 342.5L1035.7 342.3L1037.5 342.3L1039.3 342.5L1041.1 342.3L1042.9 342.4L1044.7 342.2L1046.6 342.3L1048.4 342.2L1050.2 342.3L1052.0 342.5L1053.8 342.4L1055.6 342.5" fill="none" stroke="#1f77b4" stroke-width="2.083" stroke-dasharray="2.083 3.437"/>
<path d="M693.8 108.8L695.6 105.1L697.4 101.3L699.2 97.5L701.0 93.2L702.8 89.4L704.7 86.9L706.5 85.0L708.3 83.5L710.1 82.6L711.9 82.1L713.7 81.6L715.5 81.3L717.3 81.0L719.1 80.7L720.9 80.6L722.7 81.1L724.6 82.1L726.4 83.3L728.2 85.0L730.0 87.4L731.8 89.8L733.6 92.4L735.4 95.0L737.2 97.2L739.0 98.5L740.8 99.4L742.6 100.4L744.4 101.7L746.3 103.3L748.1 105.8L749.9 110.9L751.7 118.3L753.5 128.1L755.3 136.5L757.1 144.1L758.9 150.6L760.7 155.9L762.5 162.8L764.3 175.5L766.2 190.0L768.0 204.9L769.8 218.3L771.6 229.8L773.4 239.2L775.2 246.9L777.0 253.2L778.8 259.8L780.6 267.6L782.4 274.0L784.2 278.9L786.1 282.9L787.9 286.4L789.7 289.5L791.5 292.1L793.3 294.6L795.1 297.2L796.9 300.1L798.7 303.1L800.5 306.3L802.3 309.7L804.1 313.5L806.0 317.1L807.8 320.4L809.6 323.6L811.4 326.4L813.2 328.7L815.0 330.7L816.8 332.5L818.6 334.1L820.4 335.3L822.2 336.5L824.0 337.5L825.9 338.4L827.7 339.1L829.5 339.7L831.3 340.3L833.1 340.8L834.9 341.2L836.7 341.6L838.5 341.9L840.3 342.1L842.1 342.3L843.9 342.5L845.8 342.7L847.6 342.9L849.4 343.0L851.2 343.1L853.0 343.1L854.8 343.1L856.6 343.2L858.4 343.2L860.2 343.2L862.0 343.2L863.8 343.2L865.7 343.2L867.5 343.2L869.3 343.2L871.1 343.2L872.9 343.1L874.7 343.2L876.5 343.1L878.3 343.1L880.1 343.2L881.9 343.2L883.7 343.3L885.6 343.2L887.4 343.1L889.2 343.3L891.0 343.2L892.8 343.2L894.6 343.1L896.4 343.1L898.2 343.3L900.0 343.2L901.8 343.2L903.6 343.2L905.5 343.3L907.3 343.2L909.1 343.3L910.9 343.2L912.7 343.2L914.5 343.2L916.3 343.3L918.1 343.4L919.9 343.2L921.7 343.2L923.5 343.1L925.3 343.3L927.2 343.2L929.0 343.3L930.8 343.3L932.6 343.1L934.4 343.4L936.2 343.3L938.0 343.3L939.8 343.3L941.6 343.4L943.4 343.3L945.2 343.2L947.1 343.5L948.9 343.3L950.7 343.2L952.5 343.1L954.3 343.3L956.1 343.2L957.9 343.3L959.7 343.4L961.5 343.4L963.3 343.5L965.1 343.4L967.0 343.3L968.8 343.3L970.6 343.3L972.4 343.5L974.2 343.4L976.0 343.3L977.8 343.6L979.6 343.4L981.4 343.4L983.2 343.2L985.0 343.5L986.9 343.5L988.7 343.5L990.5 343.4L992.3 343.3L994.1 343.4L995.9 343.5L997.7 343.5L999.5 343.5L1001.3 343.4L1003.1 343.6L1004.9 343.5L1006.8 343.4L1008.6 343.7L1010.4 343.7L1012.2 343.7L1014.0 343.5L1015.8 343.5L1017.6 343.3L1019.4 343.7L1021.2 343.1L1023.0 343.5L1024.8 343.5L1026.7 343.7L1028.5 343.5L1030.3 343.3L1032.1 343.2L1033.9 343.4L1035.7 343.6L1037.5 343.6L1039.3 343.5L1041.1 343.4L1042.9 343.5L1044.7 343.8L1046.6 343.3L1048.4 343.6L1050.2 344.0L1052.0 343.7L1053.8 343.4L1055.6 343.7" fill="none" stroke="#ff7f0e" stroke-width="2.083" stroke-dasharray="2.083 3.437"/>
<path d="M693.8 98.4L695.6 94.9L697.4 91.7L699.2 88.5L701.0 85.2L702.8 82.5L704.7 81.1L706.5 80.4L708.3 79.9L710.1 79.5L711.9 79.3L713.7 79.1L715.5 78.8L717.3 78.5L719.1 78.3L720.9 78.2L722.7 78.6L724.6 79.6L726.4 80.8L728.2 82.3L730.0 84.2L731.8 86.3L733.6 88.4L735.4 90.7L737.2 92.8L739.0 94.4L740.8 95.8L742.6 97.2L744.4 98.7L746.3 100.4L748.1 102.9L749.9 107.5L751.7 114.4L753.5 123.8L755.3 132.1L757.1 139.7L758.9 146.5L760.7 152.3L762.5 159.6L764.3 171.6L766.2 185.5L768.0 200.6L769.8 214.0L771.6 225.5L773.4 235.0L775.2 242.2L777.0 247.7L778.8 253.5L780.6 260.2L782.4 265.9L784.2 270.3L786.1 274.0L787.9 277.3L789.7 280.1L791.5 282.4L793.3 284.7L795.1 287.5L796.9 290.2L798.7 293.1L800.5 296.3L802.3 299.8L804.1 303.6L806.0 307.3L807.8 310.6L809.6 313.6L811.4 316.3L813.2 318.9L815.0 321.3L816.8 323.3L818.6 324.8L820.4 326.3L822.2 327.4L824.0 328.5L825.9 329.3L827.7 330.2L829.5 330.9L831.3 331.4L833.1 332.1L834.9 332.8L836.7 333.0L838.5 333.0L840.3 333.2L842.1 333.4L843.9 333.5L845.8 333.9L847.6 334.1L849.4 334.2L851.2 334.3L853.0 334.4L854.8 334.4L856.6 334.3L858.4 334.9L860.2 334.8L862.0 334.4L863.8 334.4L865.7 334.5L867.5 334.7L869.3 335.0L871.1 335.0L872.9 335.0L874.7 335.0L876.5 335.0L878.3 334.9L880.1 334.9L881.9 334.7L883.7 334.3L885.6 334.7L887.4 335.2L889.2 334.6L891.0 334.6L892.8 335.0L894.6 334.8L896.4 334.6L898.2 335.2L900.0 334.9L901.8 335.0L903.6 334.6L905.5 334.9L907.3 334.9L909.1 335.0L910.9 335.1L912.7 335.0L914.5 334.8L916.3 334.9L918.1 334.5L919.9 334.9L921.7 334.9L923.5 334.7L925.3 334.6L927.2 334.7L929.0 334.5L930.8 334.8L932.6 334.8L934.4 334.5L936.2 334.8L938.0 335.0L939.8 335.0L941.6 335.0L943.4 334.7L945.2 334.7L947.1 334.7L948.9 334.9L950.7 335.4L952.5 335.1L954.3 335.2L956.1 335.1L957.9 334.4L959.7 334.7L961.5 334.6L963.3 335.2L965.1 335.0L967.0 334.6L968.8 334.6L970.6 334.8L972.4 335.3L974.2 334.7L976.0 334.1L977.8 334.9L979.6 334.1L981.4 335.1L983.2 334.9L985.0 335.0L986.9 335.2L988.7 334.2L990.5 334.9L992.3 335.7L994.1 334.0L995.9 334.5L997.7 334.8L999.5 335.9L1001.3 335.5L1003.1 334.0L1004.9 335.0L1006.8 333.5L1008.6 333.2L1010.4 335.1L1012.2 335.7L1014.0 335.5L1015.8 334.1L1017.6 333.4L1019.4 335.1L1021.2 334.6L1023.0 335.4L1024.8 334.8L1026.7 335.6L1028.5 335.6L1030.3 335.9L1032.1 334.7L1033.9 336.3L1035.7 334.3L1037.5 334.8L1039.3 337.4L1041.1 335.3L1042.9 333.6L1044.7 336.1L1046.6 336.1L1048.4 335.8L1050.2 334.9L1052.0 334.8L1053.8 334.4L1055.6 334.0" fill="none" stroke="#2ca02c" stroke-width="2.083" stroke-dasharray="2.083 3.437"/>
</g>
<rect x="675.60" y="64.40" width="399.00" height="293.00" fill="none" stroke="#000" stroke-width="1.11" stroke-linejoin="miter"/>
<path d="M692.35 357.40v4.86M737.58 357.40v4.86M782.80 357.40v4.86M828.03 357.40v4.86M873.25 357.40v4.86M918.48 357.40v4.86M963.70 357.40v4.86M1008.93 357.40v4.86M1054.15 357.40v4.86" stroke="#000" stroke-width="1.11" fill="none"/>
<text x="679.10" y="377.80" font-size="14.44" textLength="26.51" lengthAdjust="spacingAndGlyphs">250</text>
<text x="724.32" y="377.80" font-size="14.44" textLength="26.51" lengthAdjust="spacingAndGlyphs">275</text>
<text x="769.55" y="377.80" font-size="14.44" textLength="26.51" lengthAdjust="spacingAndGlyphs">300</text>
<text x="814.77" y="377.80" font-size="14.44" textLength="26.51" lengthAdjust="spacingAndGlyphs">325</text>
<text x="860.00" y="377.80" font-size="14.44" textLength="26.51" lengthAdjust="spacingAndGlyphs">350</text>
<text x="905.22" y="377.80" font-size="14.44" textLength="26.51" lengthAdjust="spacingAndGlyphs">375</text>
<text x="950.45" y="377.80" font-size="14.44" textLength="26.51" lengthAdjust="spacingAndGlyphs">400</text>
<text x="995.67" y="377.80" font-size="14.44" textLength="26.51" lengthAdjust="spacingAndGlyphs">425</text>
<text x="1040.90" y="377.80" font-size="14.44" textLength="26.51" lengthAdjust="spacingAndGlyphs">450</text>
<path d="M675.60 345.25h-4.86M675.60 297.04h-4.86M675.60 248.83h-4.86M675.60 200.62h-4.86M675.60 152.41h-4.86M675.60 104.20h-4.86" stroke="#000" stroke-width="1.11" fill="none"/>
<text x="643.79" y="350.50" font-size="14.44" textLength="22.09" lengthAdjust="spacingAndGlyphs">0.0</text>
<text x="643.79" y="302.29" font-size="14.44" textLength="22.09" lengthAdjust="spacingAndGlyphs">0.2</text>
<text x="643.79" y="254.08" font-size="14.44" textLength="22.09" lengthAdjust="spacingAndGlyphs">0.4</text>
<text x="643.79" y="205.87" font-size="14.44" textLength="22.09" lengthAdjust="spacingAndGlyphs">0.6</text>
<text x="643.79" y="157.66" font-size="14.44" textLength="22.09" lengthAdjust="spacingAndGlyphs">0.8</text>
<text x="643.79" y="109.45" font-size="14.44" textLength="22.09" lengthAdjust="spacingAndGlyphs">1.0</text>
<text x="809.12" y="56.00" font-size="17.33" textLength="131.96" lengthAdjust="spacingAndGlyphs">Spectral Curves</text>
<text x="815.11" y="396.30" font-size="14.44" textLength="119.98" lengthAdjust="spacingAndGlyphs">Wavelength [nm]</text>
<g transform="translate(633.80 211.30) rotate(-90)"><text x="-41.04" y="0.00" font-size="14.44" textLength="82.07" lengthAdjust="spacingAndGlyphs">Absorbance</text></g>
<rect x="925.24" y="71.34" width="142.42" height="67.10" rx="2.8" ry="2.8" fill="#fff" fill-opacity="0.8" stroke="#ccc" stroke-width="1.11"/>
<path d="M930.8 82.8L958.6 82.8" fill="none" stroke="#1f77b4" stroke-width="2.083" stroke-dasharray="2.083 3.437"/>
<text x="969.68" y="87.79" font-size="14.44" textLength="92.42" lengthAdjust="spacingAndGlyphs">component-1</text>
<path d="M930.8 103.9L958.6 103.9" fill="none" stroke="#ff7f0e" stroke-width="2.083" stroke-dasharray="2.083 3.437"/>
<text x="969.68" y="108.84" font-size="14.44" textLength="92.42" lengthAdjust="spacingAndGlyphs">component-2</text>
<path d="M930.8 124.9L958.6 124.9" fill="none" stroke="#2ca02c" stroke-width="2.083" stroke-dasharray="2.083 3.437"/>
<text x="969.68" y="129.89" font-size="14.44" textLength="92.42" lengthAdjust="spacingAndGlyphs">component-3</text>
<clipPath id="c3"><rect x="1174.60" y="64.40" width="399.00" height="293.00"/></clipPath>
<g clip-path="url(#c3)">
<path d="M1191.8 76.4L1193.5 88.9L1195.2 91.7L1197.0 97.2L1198.8 100.2L1200.7 103.4L1202.7 97.4L1204.6 100.4L1206.7 106.2L1208.8 112.2L1211.0 112.5L1213.2 113.7L1215.4 114.3L1217.8 123.1L1220.1 122.7L1222.6 124.6L1225.1 123.5L1227.6 131.6L1230.2 130.6L1232.8 138.1L1235.5 139.2L1238.3 139.0L1241.1 146.6L1244.0 152.1L1246.9 148.5L1249.9 156.1L1252.9 156.3L1256.0 155.3L1259.1 166.0L1262.3 165.9L1265.5 169.9L1268.8 171.2L1272.2 177.9L1275.6 176.1L1279.1 181.1L1282.6 182.1L1286.2 185.6L1289.8 190.6L1293.5 193.6L1297.2 202.6L1301.0 206.4L1304.8 208.7L1308.7 211.0L1312.7 212.7L1316.7 228.9L1320.8 223.2L1324.9 227.5L1329.0 233.6L1333.3 231.0L1337.6 237.8L1341.9 237.8L1346.3 243.3L1350.7 252.6L1355.2 264.9L1359.8 248.2L1364.4 264.5L1369.0 270.0L1373.7 269.5L1378.5 275.5L1383.3 282.7L1388.2 286.6L1393.1 287.5L1397.4 290.1L1401.2 293.9L1404.5 298.3L1408.8 301.7L1412.6 306.3L1415.9 310.7L1420.1 313.7L1424.0 317.5L1428.6 320.5L1433.0 323.4L1436.8 327.8L1441.2 330.6L1445.0 334.8L1447.2 339.2" fill="none" stroke="#808080" stroke-width="2.083" stroke-dasharray="2.083 3.437" stroke-opacity="0.50"/>
<path d="M1191.8 76.4L1193.5 80.8L1195.2 89.4L1197.0 103.3L1198.8 94.7L1200.7 84.2L1202.7 92.8L1204.6 92.2L1206.7 100.0L1208.8 102.0L1211.0 116.2L1213.2 113.3L1215.4 108.4L1217.8 115.7L1220.1 117.8L1222.6 114.7L1225.1 121.1L1227.6 123.8L1230.2 123.7L1232.8 126.8L1235.5 131.8L1238.3 128.0L1241.1 126.7L1244.0 137.3L1246.9 138.7L1249.9 154.9L1252.9 147.8L1256.0 152.8L1259.1 149.6L1262.3 146.7L1265.5 150.0L1268.8 155.3L1272.2 155.0L1275.6 158.7L1279.1 175.6L1282.6 169.2L1286.2 168.8L1289.8 168.2L1293.5 171.7L1297.2 185.9L1301.0 188.5L1304.8 178.1L1308.7 190.5L1312.7 188.2L1316.7 194.5L1320.8 203.4L1324.9 197.1L1329.0 204.1L1333.3 203.6L1337.6 211.4L1341.9 221.7L1346.3 221.4L1350.7 220.9L1355.2 231.6L1359.8 233.3L1364.4 232.1L1369.0 246.9L1373.7 247.0L1378.5 249.6L1383.3 250.5L1388.2 259.6L1393.1 267.3L1398.1 266.0L1403.2 276.2L1408.3 276.0L1413.4 281.2L1418.6 288.5L1423.9 288.2L1429.2 291.4L1437.7 286.9L1441.5 290.7L1444.4 295.5L1447.2 299.8L1450.7 303.6L1454.8 307.4L1459.6 305.9L1463.4 310.7L1466.3 314.8L1471.0 314.8L1475.8 317.3L1479.6 322.1L1481.5 326.8L1484.3 331.6L1488.7 328.7L1492.9 332.5L1495.7 336.9L1500.5 339.7L1505.2 342.0" fill="none" stroke="#808080" stroke-width="2.083" stroke-dasharray="2.083 3.437" stroke-opacity="0.50"/>
<path d="M1191.8 76.4L1193.5 81.4L1195.2 85.9L1197.0 89.0L1198.8 77.9L1200.7 83.9L1202.7 85.0L1204.6 98.0L1206.7 104.9L1208.8 93.5L1211.0 101.7L1213.2 112.6L1215.4 104.9L1217.8 107.9L1220.1 112.4L1222.6 107.6L1225.1 106.2L1227.6 114.5L1230.2 120.7L1232.8 122.6L1235.5 122.8L1238.3 123.9L1241.1 116.2L1244.0 114.7L1246.9 127.9L1249.9 135.9L1252.9 141.5L1256.0 137.3L1259.1 137.6L1262.3 139.8L1265.5 139.4L1268.8 141.5L1272.2 142.4L1275.6 150.3L1279.1 153.0L1282.6 159.6L1286.2 166.6L1289.8 166.4L1293.5 161.5L1297.2 163.0L1301.0 170.7L1304.8 170.1L1308.7 173.9L1312.7 182.8L1316.7 185.4L1320.8 187.3L1324.9 187.2L1329.0 191.1L1333.3 200.9L1337.6 197.4L1341.9 195.1L1346.3 198.4L1350.7 199.6L1355.2 203.8L1359.8 203.8L1364.4 208.5L1369.0 216.9L1373.7 215.3L1378.5 217.8L1383.3 225.6L1388.2 230.4L1393.1 237.0L1398.1 239.1L1403.2 239.0L1408.3 243.6L1413.4 242.2L1418.6 245.2L1423.9 252.7L1429.2 257.1L1434.5 261.2L1440.0 261.2L1445.4 271.6L1451.0 282.1L1459.6 263.1L1462.8 273.6L1468.2 278.3L1472.0 268.5L1475.2 274.5L1478.6 285.0L1483.4 294.5L1487.2 290.1L1490.0 285.0L1493.8 288.8L1497.6 298.3L1499.5 308.8L1502.0 320.2L1504.7 316.4L1508.1 305.9L1511.5 307.4L1514.7 311.6L1518.5 303.1L1521.4 296.4L1525.2 306.9L1528.0 317.9L1532.8 319.8L1536.6 316.4L1538.9 311.6L1541.3 306.3L1544.2 312.2L1547.1 323.0L1552.8 323.4" fill="none" stroke="#808080" stroke-width="2.083" stroke-dasharray="2.083 3.437" stroke-opacity="0.50"/>
<path d="M1198.5 103.9L1389.2 286.9" fill="none" stroke="#1f77b4" stroke-width="2.083" stroke-linejoin="round" stroke-linecap="square"/>
<path d="M1201.0 100.4L1432.4 285.4" fill="none" stroke="#ff7f0e" stroke-width="2.083" stroke-linejoin="round" stroke-linecap="square"/>
<path d="M1198.5 95.3L1466.3 284.4" fill="none" stroke="#2ca02c" stroke-width="2.083" stroke-linejoin="round" stroke-linecap="square"/>
</g>
<rect x="1174.60" y="64.40" width="399.00" height="293.00" fill="none" stroke="#000" stroke-width="1.11" stroke-linejoin="miter"/>
<path d="M1221.40 357.40v4.86M1275.77 357.40v4.86M1330.14 357.40v4.86M1384.51 357.40v4.86M1438.88 357.40v4.86M1493.25 357.40v4.86M1547.62 357.40v4.86" stroke="#000" stroke-width="1.11" fill="none"/>
<text x="1197.10" y="377.80" font-size="14.44" textLength="48.60" lengthAdjust="spacingAndGlyphs">0.0005</text>
<text x="1251.47" y="377.80" font-size="14.44" textLength="48.60" lengthAdjust="spacingAndGlyphs">0.0010</text>
<text x="1305.84" y="377.80" font-size="14.44" textLength="48.60" lengthAdjust="spacingAndGlyphs">0.0015</text>
<text x="1360.21" y="377.80" font-size="14.44" textLength="48.60" lengthAdjust="spacingAndGlyphs">0.0020</text>
<text x="1414.58" y="377.80" font-size="14.44" textLength="48.60" lengthAdjust="spacingAndGlyphs">0.0025</text>
<text x="1468.95" y="377.80" font-size="14.44" textLength="48.60" lengthAdjust="spacingAndGlyphs">0.0030</text>
<text x="1523.32" y="377.80" font-size="14.44" textLength="48.60" lengthAdjust="spacingAndGlyphs">0.0035</text>
<path d="M1174.60 73.30h-4.86M1174.60 111.60h-4.86M1174.60 149.90h-4.86M1174.60 188.20h-4.86M1174.60 226.50h-4.86M1174.60 264.80h-4.86M1174.60 303.10h-4.86M1174.60 341.40h-4.86" stroke="#000" stroke-width="1.11" fill="none"/>
<text x="1142.79" y="78.55" font-size="14.44" textLength="22.09" lengthAdjust="spacingAndGlyphs">0.0</text>
<text x="1131.15" y="116.85" font-size="14.44" textLength="33.73" lengthAdjust="spacingAndGlyphs">−0.1</text>
<text x="1131.15" y="155.15" font-size="14.44" textLength="33.73" lengthAdjust="spacingAndGlyphs">−0.2</text>
<text x="1131.15" y="193.45" font-size="14.44" textLength="33.73" lengthAdjust="spacingAndGlyphs">−0.3</text>
<text x="1131.15" y="231.75" font-size="14.44" textLength="33.73" lengthAdjust="spacingAndGlyphs">−0.4</text>
<text x="1131.15" y="270.05" font-size="14.44" textLength="33.73" lengthAdjust="spacingAndGlyphs">−0.5</text>
<text x="1131.15" y="308.35" font-size="14.44" textLength="33.73" lengthAdjust="spacingAndGlyphs">−0.6</text>
<text x="1131.15" y="346.65" font-size="14.44" textLength="33.73" lengthAdjust="spacingAndGlyphs">−0.7</text>
<text x="1277.52" y="56.00" font-size="17.33" textLength="193.17" lengthAdjust="spacingAndGlyphs">XR Guinier/Kratky Plots</text>
<text x="1364.60" y="399.63" font-size="14.44" font-style="italic">Q</text>
<text x="1376.53" y="394.27" font-size="10.11">2</text>
<g transform="translate(1119.60 211.00) rotate(-90)">
<text x="-32.00" y="-0.36" font-size="14.44" textLength="26.57" lengthAdjust="spacingAndGlyphs">log(</text>
<text x="-5.44" y="-0.36" font-size="14.44" font-style="italic">I</text>
<text x="-1.34" y="-0.36" font-size="14.44">)</text>
<text x="6.77" y="-0.36" font-size="14.44">−</text>
<text x="21.10" y="-0.36" font-size="14.44" font-style="italic">I</text>
<text x="25.19" y="1.94" font-size="10.11">0</text>
</g>
<rect x="1349.56" y="71.34" width="217.10" height="80.10" rx="2.8" ry="2.8" fill="#fff" fill-opacity="0.8" stroke="#ccc" stroke-width="1.11"/>
<path d="M1355.1 83.7L1382.9 83.7" fill="none" stroke="#1f77b4" stroke-width="2.083" stroke-linejoin="round" stroke-linecap="square"/>
<text x="1394.00" y="88.03" font-size="14.44" textLength="96.74" lengthAdjust="spacingAndGlyphs">component-1,</text>
<text x="1495.15" y="88.03" font-size="14.44" font-style="italic">R</text>
<text x="1504.79" y="90.33" font-size="10.11" font-style="italic">g</text>
<text x="1514.05" y="88.03" font-size="14.44">=</text>
<text x="1528.37" y="88.03" font-size="14.44" textLength="30.90" lengthAdjust="spacingAndGlyphs">28.6</text>
<path d="M1355.1 108.9L1382.9 108.9" fill="none" stroke="#ff7f0e" stroke-width="2.083" stroke-linejoin="round" stroke-linecap="square"/>
<text x="1394.00" y="113.18" font-size="14.44" textLength="96.74" lengthAdjust="spacingAndGlyphs">component-2,</text>
<text x="1495.15" y="113.18" font-size="14.44" font-style="italic">R</text>
<text x="1504.79" y="115.48" font-size="10.11" font-style="italic">g</text>
<text x="1514.05" y="113.18" font-size="14.44">=</text>
<text x="1528.37" y="113.18" font-size="14.44" textLength="30.90" lengthAdjust="spacingAndGlyphs">26.1</text>
<path d="M1355.1 134.0L1382.9 134.0" fill="none" stroke="#2ca02c" stroke-width="2.083" stroke-linejoin="round" stroke-linecap="square"/>
<text x="1394.00" y="138.33" font-size="14.44" textLength="96.74" lengthAdjust="spacingAndGlyphs">component-3,</text>
<text x="1495.15" y="138.33" font-size="14.44" font-style="italic">R</text>
<text x="1504.79" y="140.63" font-size="10.11" font-style="italic">g</text>
<text x="1514.05" y="138.33" font-size="14.44">=</text>
<text x="1528.37" y="138.33" font-size="14.44" textLength="30.90" lengthAdjust="spacingAndGlyphs">24.5</text>
<clipPath id="c4"><rect x="176.50" y="438.40" width="399.00" height="292.00"/></clipPath>
<g clip-path="url(#c4)">
<path d="M194.6 701.8L196.4 713.8L198.2 708.0L200.0 706.6L201.8 713.2L203.6 712.2L205.4 712.2L207.3 705.7L209.1 712.0L210.9 706.9L212.7 712.4L214.5 712.6L216.3 707.1L218.1 705.8L219.9 712.9L221.7 711.8L223.5 707.7L225.3 711.7L227.1 712.3L228.9 712.1L230.7 707.6L232.5 717.1L234.3 702.8L236.1 703.4L237.9 704.5L239.7 709.3L241.5 710.8L243.3 706.8L245.1 712.2L247.0 701.6L248.8 710.6L250.6 704.7L252.4 705.9L254.2 710.0L256.0 709.3L257.8 711.3L259.6 708.2L261.4 706.6L263.2 708.5L265.0 709.7L266.8 708.5L268.6 704.5L270.4 705.6L272.2 706.9L274.0 710.6L275.8 710.1L277.6 706.9L279.4 709.8L281.2 710.8L283.0 704.0L284.8 708.1L286.7 707.7L288.5 710.3L290.3 707.4L292.1 705.5L293.9 707.1L295.7 712.4L297.5 708.4L299.3 703.7L301.1 705.1L302.9 699.2L304.7 698.9L306.5 691.4L308.3 678.7L310.1 671.0L311.9 653.0L313.7 648.4L315.5 626.3L317.3 596.1L319.1 575.0L320.9 553.1L322.7 530.6L324.5 510.2L326.4 507.1L328.2 471.1L330.0 464.1L331.8 471.4L333.6 466.6L335.4 449.5L337.2 458.5L339.0 451.2L340.8 462.5L342.6 478.5L344.4 480.7L346.2 485.4L348.0 491.4L349.8 494.6L351.6 514.1L353.4 514.8L355.2 527.9L357.0 535.1L358.8 556.8L360.6 551.8L362.4 564.2L364.2 556.9L366.0 560.3L367.9 569.9L369.7 565.7L371.5 581.6L373.3 583.4L375.1 595.2L376.9 596.3L378.7 608.8L380.5 609.7L382.3 607.6L384.1 617.7L385.9 624.0L387.7 627.4L389.5 628.7L391.3 628.8L393.1 646.3L394.9 643.1L396.7 647.2L398.5 651.1L400.3 653.3L402.1 653.9L403.9 653.8L405.7 668.8L407.6 668.9L409.4 665.8L411.2 674.4L413.0 668.6L414.8 675.9L416.6 674.9L418.4 680.8L420.2 681.5L422.0 668.9L423.8 682.5L425.6 677.3L427.4 684.6L429.2 683.5L431.0 690.4L432.8 687.0L434.6 692.2L436.4 702.1L438.2 702.6L440.0 694.7L441.8 693.1L443.6 699.4L445.4 701.6L447.3 700.9L449.1 694.1L450.9 707.3L452.7 699.4L454.5 698.6L456.3 708.0L458.1 707.3L459.9 706.2L461.7 707.7L463.5 702.8L465.3 706.3L467.1 708.8L468.9 706.3L470.7 703.8L472.5 709.5L474.3 711.4L476.1 705.8L477.9 703.4L479.7 704.2L481.5 706.9L483.3 710.4L485.1 707.2L487.0 708.2L488.8 708.1L490.6 710.4L492.4 706.9L494.2 707.5L496.0 714.7L497.8 708.2L499.6 714.0L501.4 710.3L503.2 711.2L505.0 709.2L506.8 712.5L508.6 712.0L510.4 712.6L512.2 712.5L514.0 715.6L515.8 709.2L517.6 712.8L519.4 709.8L521.2 711.0L523.0 709.6L524.8 709.0L526.7 715.2L528.5 711.3L530.3 710.3L532.1 713.3L533.9 713.1L535.7 709.7L537.5 706.8L539.3 709.2L541.1 708.7L542.9 709.9L544.7 704.7L546.5 710.8L548.3 707.9L550.1 699.8L551.9 709.7L553.7 711.0L555.5 716.1L557.3 716.3" fill="none" stroke="#808080" stroke-width="2.083" stroke-linejoin="round" stroke-opacity="0.50"/>
<path d="M194.6 710.9L196.4 710.9L198.2 710.9L200.0 710.9L201.8 710.9L203.6 710.9L205.4 710.9L207.3 710.9L209.1 710.9L210.9 710.9L212.7 710.9L214.5 710.9L216.3 710.9L218.1 710.9L219.9 710.9L221.7 710.9L223.5 710.9L225.3 710.9L227.1 710.9L228.9 710.9L230.7 710.9L232.5 710.9L234.3 710.9L236.1 710.9L237.9 710.9L239.7 710.9L241.5 710.9L243.3 710.9L245.1 710.9L247.0 710.9L248.8 710.9L250.6 710.9L252.4 710.9L254.2 710.9L256.0 710.9L257.8 710.9L259.6 710.9L261.4 710.9L263.2 710.9L265.0 710.9L266.8 710.9L268.6 710.9L270.4 710.9L272.2 710.9L274.0 710.9L275.8 710.9L277.6 710.9L279.4 710.9L281.2 710.9L283.0 710.9L284.8 710.9L286.7 710.9L288.5 710.9L290.3 710.9L292.1 710.8L293.9 710.7L295.7 710.4L297.5 709.8L299.3 708.7L301.1 706.8L302.9 703.9L304.7 699.5L306.5 693.3L308.3 684.9L310.1 674.2L311.9 661.0L313.7 645.6L315.5 628.1L317.3 609.1L319.1 589.4L320.9 569.6L322.7 550.7L324.5 533.3L326.4 518.2L328.2 506.1L330.0 497.2L331.8 491.9L333.6 490.2L335.4 491.8L337.2 496.7L339.0 504.3L340.8 514.3L342.6 526.0L344.4 539.1L346.2 553.0L348.0 567.3L349.8 581.6L351.6 595.6L353.4 609.0L355.2 621.6L357.0 633.2L358.8 643.9L360.6 653.5L362.4 662.1L364.2 669.7L366.0 676.3L367.9 682.1L369.7 687.0L371.5 691.2L373.3 694.7L375.1 697.7L376.9 700.2L378.7 702.2L380.5 703.9L382.3 705.3L384.1 706.5L385.9 707.4L387.7 708.1L389.5 708.7L391.3 709.2L393.1 709.5L394.9 709.8L396.7 710.1L398.5 710.3L400.3 710.4L402.1 710.5L403.9 710.6L405.7 710.7L407.6 710.7L409.4 710.8L411.2 710.8L413.0 710.8L414.8 710.8L416.6 710.9L418.4 710.9L420.2 710.9L422.0 710.9L423.8 710.9L425.6 710.9L427.4 710.9L429.2 710.9L431.0 710.9L432.8 710.9L434.6 710.9L436.4 710.9L438.2 710.9L440.0 710.9L441.8 710.9L443.6 710.9L445.4 710.9L447.3 710.9L449.1 710.9L450.9 710.9L452.7 710.9L454.5 710.9L456.3 710.9L458.1 710.9L459.9 710.9L461.7 710.9L463.5 710.9L465.3 710.9L467.1 710.9L468.9 710.9L470.7 710.9L472.5 710.9L474.3 710.9L476.1 710.9L477.9 710.9L479.7 710.9L481.5 710.9L483.3 710.9L485.1 710.9L487.0 710.9L488.8 710.9L490.6 710.9L492.4 710.9L494.2 710.9L496.0 710.9L497.8 710.9L499.6 710.9L501.4 710.9L503.2 710.9L505.0 710.9L506.8 710.9L508.6 710.9L510.4 710.9L512.2 710.9L514.0 710.9L515.8 710.9L517.6 710.9L519.4 710.9L521.2 710.9L523.0 710.9L524.8 710.9L526.7 710.9L528.5 710.9L530.3 710.9L532.1 710.9L533.9 710.9L535.7 710.9L537.5 710.9L539.3 710.9L541.1 710.9L542.9 710.9L544.7 710.9L546.5 710.9L548.3 710.9L550.1 710.9L551.9 710.9L553.7 710.9L555.5 710.9L557.3 710.9" fill="none" stroke="#1f77b4" stroke-width="2.083" stroke-dasharray="2.083 3.437"/>
<path d="M194.6 710.9L196.4 710.9L198.2 710.9L200.0 710.9L201.8 710.9L203.6 710.9L205.4 710.9L207.3 710.9L209.1 710.9L210.9 710.9L212.7 710.9L214.5 710.9L216.3 710.9L218.1 710.9L219.9 710.9L221.7 710.9L223.5 710.9L225.3 710.9L227.1 710.9L228.9 710.9L230.7 710.9L232.5 710.9L234.3 710.9L236.1 710.9L237.9 710.9L239.7 710.9L241.5 710.9L243.3 710.9L245.1 710.9L247.0 710.9L248.8 710.9L250.6 710.9L252.4 710.9L254.2 710.9L256.0 710.9L257.8 710.9L259.6 710.9L261.4 710.9L263.2 710.9L265.0 710.9L266.8 710.9L268.6 710.9L270.4 710.9L272.2 710.9L274.0 710.9L275.8 710.9L277.6 710.9L279.4 710.9L281.2 710.9L283.0 710.8L284.8 710.8L286.7 710.8L288.5 710.7L290.3 710.7L292.1 710.6L293.9 710.5L295.7 710.4L297.5 710.2L299.3 710.0L301.1 709.8L302.9 709.5L304.7 709.1L306.5 708.6L308.3 708.0L310.1 707.2L311.9 706.4L313.7 705.3L315.5 704.0L317.3 702.6L319.1 700.8L320.9 698.9L322.7 696.6L324.5 694.0L326.4 691.2L328.2 688.0L330.0 684.4L331.8 680.6L333.6 676.5L335.4 672.1L337.2 667.4L339.0 662.6L340.8 657.6L342.6 652.5L344.4 647.5L346.2 642.5L348.0 637.6L349.8 633.0L351.6 628.8L353.4 624.9L355.2 621.5L357.0 618.7L358.8 616.4L360.6 614.9L362.4 614.0L364.2 613.9L366.0 614.5L367.9 615.7L369.7 617.7L371.5 620.3L373.3 623.5L375.1 627.2L376.9 631.3L378.7 635.8L380.5 640.5L382.3 645.5L384.1 650.5L385.9 655.6L387.7 660.6L389.5 665.5L391.3 670.2L393.1 674.7L394.9 679.0L396.7 682.9L398.5 686.6L400.3 689.9L402.1 692.9L403.9 695.6L405.7 698.0L407.6 700.1L409.4 701.9L411.2 703.5L413.0 704.8L414.8 706.0L416.6 706.9L418.4 707.7L420.2 708.4L422.0 708.9L423.8 709.3L425.6 709.7L427.4 710.0L429.2 710.2L431.0 710.3L432.8 710.5L434.6 710.6L436.4 710.7L438.2 710.7L440.0 710.8L441.8 710.8L443.6 710.8L445.4 710.9L447.3 710.9L449.1 710.9L450.9 710.9L452.7 710.9L454.5 710.9L456.3 710.9L458.1 710.9L459.9 710.9L461.7 710.9L463.5 710.9L465.3 710.9L467.1 710.9L468.9 710.9L470.7 710.9L472.5 710.9L474.3 710.9L476.1 710.9L477.9 710.9L479.7 710.9L481.5 710.9L483.3 710.9L485.1 710.9L487.0 710.9L488.8 710.9L490.6 710.9L492.4 710.9L494.2 710.9L496.0 710.9L497.8 710.9L499.6 710.9L501.4 710.9L503.2 710.9L505.0 710.9L506.8 710.9L508.6 710.9L510.4 710.9L512.2 710.9L514.0 710.9L515.8 710.9L517.6 710.9L519.4 710.9L521.2 710.9L523.0 710.9L524.8 710.9L526.7 710.9L528.5 710.9L530.3 710.9L532.1 710.9L533.9 710.9L535.7 710.9L537.5 710.9L539.3 710.9L541.1 710.9L542.9 710.9L544.7 710.9L546.5 710.9L548.3 710.9L550.1 710.9L551.9 710.9L553.7 710.9L555.5 710.9L557.3 710.9" fill="none" stroke="#ff7f0e" stroke-width="2.083" stroke-dasharray="2.083 3.437"/>
<path d="M194.6 710.9L196.4 710.9L198.2 710.9L200.0 710.9L201.8 710.9L203.6 710.9L205.4 710.9L207.3 710.9L209.1 710.9L210.9 710.9L212.7 710.9L214.5 710.9L216.3 710.9L218.1 710.9L219.9 710.9L221.7 710.9L223.5 710.9L225.3 710.9L227.1 710.9L228.9 710.9L230.7 710.9L232.5 710.9L234.3 710.9L236.1 710.9L237.9 710.9L239.7 710.9L241.5 710.9L243.3 710.9L245.1 710.9L247.0 710.9L248.8 710.9L250.6 710.9L252.4 710.9L254.2 710.9L256.0 710.9L257.8 710.9L259.6 710.9L261.4 710.9L263.2 710.9L265.0 710.9L266.8 710.9L268.6 710.9L270.4 710.9L272.2 710.9L274.0 710.9L275.8 710.9L277.6 710.9L279.4 710.9L281.2 710.9L283.0 710.9L284.8 710.9L286.7 710.9L288.5 710.9L290.3 710.9L292.1 710.9L293.9 710.9L295.7 710.9L297.5 710.9L299.3 710.9L301.1 710.9L302.9 710.9L304.7 710.9L306.5 710.9L308.3 710.9L310.1 710.9L311.9 710.9L313.7 710.9L315.5 710.9L317.3 710.9L319.1 710.8L320.9 710.8L322.7 710.8L324.5 710.7L326.4 710.7L328.2 710.6L330.0 710.5L331.8 710.4L333.6 710.3L335.4 710.1L337.2 709.9L339.0 709.6L340.8 709.3L342.6 709.0L344.4 708.6L346.2 708.1L348.0 707.5L349.8 706.9L351.6 706.2L353.4 705.4L355.2 704.5L357.0 703.5L358.8 702.5L360.6 701.3L362.4 700.1L364.2 698.8L366.0 697.4L367.9 695.9L369.7 694.4L371.5 692.9L373.3 691.3L375.1 689.7L376.9 688.1L378.7 686.5L380.5 685.0L382.3 683.5L384.1 682.1L385.9 680.7L387.7 679.5L389.5 678.3L391.3 677.3L393.1 676.4L394.9 675.6L396.7 675.0L398.5 674.5L400.3 674.2L402.1 674.1L403.9 674.1L405.7 674.2L407.6 674.5L409.4 674.9L411.2 675.5L413.0 676.2L414.8 677.0L416.6 677.9L418.4 678.9L420.2 680.0L422.0 681.2L423.8 682.4L425.6 683.6L427.4 684.9L429.2 686.2L431.0 687.5L432.8 688.8L434.6 690.1L436.4 691.4L438.2 692.7L440.0 693.9L441.8 695.1L443.6 696.3L445.4 697.4L447.3 698.4L449.1 699.4L450.9 700.4L452.7 701.3L454.5 702.1L456.3 702.9L458.1 703.7L459.9 704.3L461.7 705.0L463.5 705.6L465.3 706.1L467.1 706.6L468.9 707.0L470.7 707.5L472.5 707.8L474.3 708.2L476.1 708.5L477.9 708.8L479.7 709.0L481.5 709.2L483.3 709.4L485.1 709.6L487.0 709.8L488.8 709.9L490.6 710.0L492.4 710.2L494.2 710.2L496.0 710.3L497.8 710.4L499.6 710.5L501.4 710.5L503.2 710.6L505.0 710.6L506.8 710.7L508.6 710.7L510.4 710.7L512.2 710.8L514.0 710.8L515.8 710.8L517.6 710.8L519.4 710.8L521.2 710.8L523.0 710.8L524.8 710.9L526.7 710.9L528.5 710.9L530.3 710.9L532.1 710.9L533.9 710.9L535.7 710.9L537.5 710.9L539.3 710.9L541.1 710.9L542.9 710.9L544.7 710.9L546.5 710.9L548.3 710.9L550.1 710.9L551.9 710.9L553.7 710.9L555.5 710.9L557.3 710.9" fill="none" stroke="#2ca02c" stroke-width="2.083" stroke-dasharray="2.083 3.437"/>
<path d="M194.6 710.9L196.4 710.9L198.2 710.9L200.0 710.9L201.8 710.9L203.6 710.9L205.4 710.9L207.3 710.9L209.1 710.9L210.9 710.9L212.7 710.9L214.5 710.9L216.3 710.9L218.1 710.9L219.9 710.9L221.7 710.9L223.5 710.9L225.3 710.9L227.1 710.9L228.9 710.9L230.7 710.9L232.5 710.9L234.3 710.9L236.1 710.9L237.9 710.9L239.7 710.9L241.5 710.9L243.3 710.9L245.1 710.9L247.0 710.9L248.8 710.9L250.6 710.9L252.4 710.9L254.2 710.9L256.0 710.9L257.8 710.9L259.6 710.9L261.4 710.9L263.2 710.9L265.0 710.9L266.8 710.9L268.6 710.9L270.4 710.9L272.2 710.9L274.0 710.9L275.8 710.9L277.6 710.9L279.4 710.9L281.2 710.9L283.0 710.8L284.8 710.8L286.7 710.8L288.5 710.7L290.3 710.7L292.1 710.5L293.9 710.3L295.7 709.9L297.5 709.1L299.3 707.8L301.1 705.7L302.9 702.5L304.7 697.7L306.5 691.0L308.3 682.0L310.1 670.5L311.9 656.5L313.7 639.9L315.5 621.2L317.3 600.8L319.1 579.3L320.9 557.5L322.7 536.2L324.5 516.3L326.4 498.3L328.2 482.8L330.0 470.4L331.8 461.1L333.6 455.1L335.4 452.2L337.2 452.2L339.0 454.7L340.8 459.4L342.6 465.7L344.4 473.3L346.2 481.8L348.0 490.7L349.8 499.8L351.6 508.7L353.4 517.4L355.2 525.8L357.0 533.6L358.8 541.0L360.6 547.9L362.4 554.4L364.2 560.5L366.0 566.4L367.9 571.9L369.7 577.3L371.5 582.6L373.3 587.7L375.1 592.8L376.9 597.8L378.7 602.8L380.5 607.7L382.3 612.5L384.1 617.2L385.9 621.9L387.7 626.4L389.5 630.7L391.3 634.9L393.1 638.9L394.9 642.6L396.7 646.2L398.5 649.6L400.3 652.7L402.1 655.7L403.9 658.5L405.7 661.1L407.6 663.5L409.4 665.8L411.2 668.0L413.0 670.1L414.8 672.0L416.6 673.9L418.4 675.7L420.2 677.5L422.0 679.2L423.8 680.8L425.6 682.4L427.4 684.0L429.2 685.5L431.0 687.0L432.8 688.4L434.6 689.8L436.4 691.2L438.2 692.5L440.0 693.8L441.8 695.0L443.6 696.2L445.4 697.3L447.3 698.4L449.1 699.4L450.9 700.4L452.7 701.3L454.5 702.1L456.3 702.9L458.1 703.6L459.9 704.3L461.7 705.0L463.5 705.6L465.3 706.1L467.1 706.6L468.9 707.0L470.7 707.5L472.5 707.8L474.3 708.2L476.1 708.5L477.9 708.8L479.7 709.0L481.5 709.2L483.3 709.4L485.1 709.6L487.0 709.8L488.8 709.9L490.6 710.0L492.4 710.2L494.2 710.2L496.0 710.3L497.8 710.4L499.6 710.5L501.4 710.5L503.2 710.6L505.0 710.6L506.8 710.7L508.6 710.7L510.4 710.7L512.2 710.8L514.0 710.8L515.8 710.8L517.6 710.8L519.4 710.8L521.2 710.8L523.0 710.8L524.8 710.9L526.7 710.9L528.5 710.9L530.3 710.9L532.1 710.9L533.9 710.9L535.7 710.9L537.5 710.9L539.3 710.9L541.1 710.9L542.9 710.9L544.7 710.9L546.5 710.9L548.3 710.9L550.1 710.9L551.9 710.9L553.7 710.9L555.5 710.9L557.3 710.9" fill="none" stroke="#ff0000" stroke-width="2.083" stroke-linejoin="round" stroke-opacity="0.33"/>
</g>
<rect x="176.50" y="438.40" width="399.00" height="292.00" fill="none" stroke="#000" stroke-width="1.11" stroke-linejoin="miter"/>
<path d="M185.60 730.40v4.86M230.71 730.40v4.86M275.82 730.40v4.86M320.94 730.40v4.86M366.05 730.40v4.86M411.16 730.40v4.86M456.27 730.40v4.86M501.39 730.40v4.86M546.50 730.40v4.86" stroke="#000" stroke-width="1.11" fill="none"/>
<text x="181.18" y="750.80" font-size="14.44">0</text>
<text x="221.88" y="750.80" font-size="14.44" textLength="17.67" lengthAdjust="spacingAndGlyphs">25</text>
<text x="266.99" y="750.80" font-size="14.44" textLength="17.67" lengthAdjust="spacingAndGlyphs">50</text>
<text x="312.10" y="750.80" font-size="14.44" textLength="17.67" lengthAdjust="spacingAndGlyphs">75</text>
<text x="352.80" y="750.80" font-size="14.44" textLength="26.51" lengthAdjust="spacingAndGlyphs">100</text>
<text x="397.91" y="750.80" font-size="14.44" textLength="26.51" lengthAdjust="spacingAndGlyphs">125</text>
<text x="443.02" y="750.80" font-size="14.44" textLength="26.51" lengthAdjust="spacingAndGlyphs">150</text>
<text x="488.13" y="750.80" font-size="14.44" textLength="26.51" lengthAdjust="spacingAndGlyphs">175</text>
<text x="533.25" y="750.80" font-size="14.44" textLength="26.51" lengthAdjust="spacingAndGlyphs">200</text>
<path d="M176.50 710.90h-4.86M176.50 669.25h-4.86M176.50 627.60h-4.86M176.50 585.95h-4.86M176.50 544.30h-4.86M176.50 502.65h-4.86M176.50 461.00h-4.86" stroke="#000" stroke-width="1.11" fill="none"/>
<text x="135.86" y="716.15" font-size="14.44" textLength="30.92" lengthAdjust="spacingAndGlyphs">0.00</text>
<text x="135.86" y="674.50" font-size="14.44" textLength="30.92" lengthAdjust="spacingAndGlyphs">0.01</text>
<text x="135.86" y="632.85" font-size="14.44" textLength="30.92" lengthAdjust="spacingAndGlyphs">0.02</text>
<text x="135.86" y="591.20" font-size="14.44" textLength="30.92" lengthAdjust="spacingAndGlyphs">0.03</text>
<text x="135.86" y="549.55" font-size="14.44" textLength="30.92" lengthAdjust="spacingAndGlyphs">0.04</text>
<text x="135.86" y="507.90" font-size="14.44" textLength="30.92" lengthAdjust="spacingAndGlyphs">0.05</text>
<text x="135.86" y="466.25" font-size="14.44" textLength="30.92" lengthAdjust="spacingAndGlyphs">0.06</text>
<text x="125.48" y="428.60" font-size="17.33" textLength="500.85" lengthAdjust="spacingAndGlyphs">EGH decomposition of sample4 with proportions [3, 1.86, 1]</text>
<text x="350.64" y="770.30" font-size="14.44" textLength="50.51" lengthAdjust="spacingAndGlyphs">Frames</text>
<g transform="translate(125.70 584.30) rotate(-90)"><text x="-68.23" y="0.00" font-size="14.44" textLength="136.46" lengthAdjust="spacingAndGlyphs">Scattering Intensity</text></g>
<rect x="403.81" y="445.34" width="164.75" height="107.95" rx="2.8" ry="2.8" fill="#fff" fill-opacity="0.8" stroke="#ccc" stroke-width="1.11"/>
<path d="M409.4 455.9L437.1 455.9" fill="none" stroke="#808080" stroke-width="2.083" stroke-linejoin="round" stroke-linecap="square" stroke-opacity="0.50"/>
<text x="448.26" y="460.29" font-size="14.44" textLength="31.28" lengthAdjust="spacingAndGlyphs">data</text>
<path d="M409.4 476.9L437.1 476.9" fill="none" stroke="#1f77b4" stroke-width="2.083" stroke-dasharray="2.083 3.437"/>
<text x="448.26" y="481.29" font-size="14.44" textLength="92.42" lengthAdjust="spacingAndGlyphs">component-1</text>
<path d="M409.4 497.9L437.1 497.9" fill="none" stroke="#ff7f0e" stroke-width="2.083" stroke-dasharray="2.083 3.437"/>
<text x="448.26" y="502.29" font-size="14.44" textLength="92.42" lengthAdjust="spacingAndGlyphs">component-2</text>
<path d="M409.4 518.9L437.1 518.9" fill="none" stroke="#2ca02c" stroke-width="2.083" stroke-dasharray="2.083 3.437"/>
<text x="448.26" y="523.29" font-size="14.44" textLength="92.42" lengthAdjust="spacingAndGlyphs">component-3</text>
<path d="M409.4 539.9L437.1 539.9" fill="none" stroke="#ff0000" stroke-width="2.083" stroke-linejoin="round" stroke-linecap="square" stroke-opacity="0.33"/>
<text x="448.26" y="544.29" font-size="14.44" textLength="114.75" lengthAdjust="spacingAndGlyphs">component total</text>
<clipPath id="c5"><rect x="675.60" y="438.40" width="399.00" height="292.00"/></clipPath>
<g clip-path="url(#c5)">
<path d="M693.7 450.6L694.2 451.8L694.6 452.0L695.1 452.5L695.6 452.8L696.1 453.1L696.5 452.4L697.0 452.7L697.5 453.2L697.9 453.9L698.4 453.9L698.9 454.0L699.3 454.0L699.8 454.9L700.3 454.9L700.8 455.0L701.2 454.9L701.7 455.8L702.2 455.7L702.6 456.4L703.1 456.5L703.6 456.5L704.0 457.3L704.5 457.9L705.0 457.5L705.5 458.3L705.9 458.3L706.4 458.2L706.9 459.4L707.3 459.4L707.8 459.8L708.3 459.9L708.7 460.6L709.2 460.4L709.7 461.0L710.2 461.1L710.6 461.5L711.1 462.0L711.6 462.3L712.0 463.3L712.5 463.7L713.0 463.9L713.4 464.2L713.9 464.4L714.4 466.1L714.9 465.5L715.3 465.9L715.8 466.6L716.3 466.3L716.7 467.0L717.2 467.0L717.7 467.6L718.2 468.6L718.6 469.9L719.1 468.2L719.6 469.9L720.0 470.5L720.5 470.4L721.0 471.1L721.4 471.9L721.9 472.3L722.4 472.6L722.9 473.1L723.3 473.4L723.8 474.2L724.3 474.8L724.7 475.1L725.2 475.7L725.7 475.9L726.1 476.9L726.6 477.3L727.1 478.3L727.6 478.0L728.0 479.4L728.5 479.4L729.0 480.2L729.4 480.4L729.9 480.8L730.4 482.1L730.8 482.1L731.3 483.2L731.8 482.7L732.3 483.8L732.7 484.6L733.2 484.8L733.7 484.7L734.1 485.2L734.6 485.7L735.1 486.9L735.5 487.2L736.0 487.2L736.5 488.5L737.0 488.9L737.4 489.6L737.9 490.2L738.4 489.9L738.8 490.6L739.3 491.2L739.8 491.7L740.2 492.1L740.7 492.4L741.2 493.5L741.7 494.2L742.1 495.0L742.6 494.8L743.1 496.0L743.5 496.9L744.0 497.0L744.5 497.5L745.0 497.7L745.4 498.3L745.9 499.6L746.4 500.2L746.8 500.8L747.3 501.7L747.8 501.8L748.2 502.2L748.7 503.0L749.2 504.3L749.7 504.8L750.1 504.3L750.6 506.0L751.1 505.8L751.5 506.5L752.0 507.6L752.5 509.1L752.9 508.6L753.4 509.8L753.9 510.1L754.4 510.5L754.8 511.6L755.3 512.0L755.8 512.7L756.2 513.8L756.7 513.9L757.2 514.8L757.6 516.0L758.1 515.9L758.6 516.5L759.1 517.3L759.5 518.7L760.0 517.9L760.5 518.1L760.9 519.2L761.4 520.0L761.9 521.6L762.3 521.4L762.8 522.7L763.3 521.5L763.8 523.7L764.2 523.7L764.7 525.6L765.2 526.0L765.6 526.3L766.1 526.2L766.6 526.9L767.1 527.7L767.5 529.6L768.0 528.3L768.5 530.2L768.9 529.2L769.4 529.7L769.9 530.9L770.3 531.4L770.8 533.4L771.3 531.5L771.8 533.6L772.2 533.7L772.7 535.5L773.2 535.6L773.6 536.9L774.1 536.8L774.6 537.2L775.0 537.6L775.5 537.4L776.0 538.6L776.5 539.3L776.9 540.0L777.4 539.2L777.9 541.6L778.3 540.8L778.8 543.7L779.3 543.4L779.7 543.0L780.2 544.0L780.7 542.2L781.2 543.0L781.6 546.6L782.1 546.8L782.6 546.5L783.0 545.6L783.5 546.5L784.0 547.6L784.4 549.5L784.9 549.6L785.4 551.6L785.9 551.1L786.3 549.9L786.8 550.1L787.3 552.3L787.7 551.6L788.2 550.8L788.7 552.5L789.2 553.3L789.6 553.0L790.1 553.5L790.6 554.4L791.0 555.4L791.5 555.7L792.0 555.7L792.4 556.8L792.9 555.6L793.4 556.4L793.9 556.7L794.3 556.3L794.8 557.2L795.3 557.8L795.7 559.2L796.2 560.3L796.7 558.4L797.1 561.7L797.6 562.1L798.1 562.9L798.6 562.3L799.0 562.6L799.5 562.5L800.0 564.2L800.4 566.3L800.9 564.6L801.4 564.5L801.8 565.9L802.3 566.7L802.8 566.3L803.3 565.9L803.7 568.0L804.2 569.9L804.7 569.5L805.1 569.5L805.6 571.8L806.1 569.4L806.5 571.6L807.0 570.6L807.5 571.4L808.0 572.5L808.4 570.8L808.9 573.7L809.4 574.3L809.8 573.6L810.3 573.4L810.8 574.8L811.3 576.4L811.7 574.8L812.2 575.3L812.7 574.0L813.1 577.1L813.6 577.0L814.1 578.4L814.5 579.9L815.0 578.4L815.5 577.8L816.0 580.5L816.4 580.5L816.9 583.4L817.4 578.8L817.8 581.6L818.3 580.4L818.8 582.7L819.2 581.8L819.7 583.1L820.2 585.9L820.7 583.0L821.1 582.7L821.6 586.7L822.1 584.4L822.5 585.1L823.0 586.4L823.5 585.6L823.9 588.4L824.4 585.6L824.9 584.7L825.4 588.5L825.8 587.1L826.3 585.4L826.8 587.6L827.2 588.8L827.7 589.8L828.2 588.5L828.6 589.3L829.1 588.5L829.6 592.1L830.1 588.6L830.5 591.1L831.0 589.8L831.5 592.2L831.9 593.5L832.4 592.7L832.9 593.6L833.3 593.0L833.8 591.8L834.3 591.4L834.8 593.1L835.2 595.6L835.7 594.8L836.2 593.4L836.6 590.9L837.1 595.5L837.6 595.5L838.1 596.8L838.5 595.6L839.0 594.7L839.5 601.6L839.9 596.4L840.4 598.1L840.9 601.5L841.3 597.2L841.8 598.2L842.3 597.7L842.8 604.1L843.2 595.4L843.7 599.0L844.2 600.1L844.6 597.2L845.1 599.0L845.6 598.9L846.0 598.6L846.5 604.8L847.0 598.3L847.5 602.1L847.9 601.3L848.4 600.4L848.9 603.7L849.3 602.0L849.8 601.5L850.3 603.3L850.7 602.5L851.2 606.8L851.7 606.3L852.2 606.5L852.6 603.8L853.1 598.2L853.6 604.6L854.0 605.6L854.5 605.7L855.0 604.0L855.4 604.7L855.9 608.7L856.4 604.7L856.9 606.9L857.3 605.5L857.8 611.6L858.3 610.9L858.7 606.7L859.2 612.0L859.7 607.6L860.2 608.0L860.6 608.6L861.1 608.4L861.6 608.9L862.0 608.7L862.5 610.8L863.0 610.2L863.4 604.6L863.9 608.3L864.4 609.6L864.9 610.3L865.3 612.9L865.8 611.1L866.3 612.3L866.7 610.0L867.2 614.3L867.7 618.1L868.1 614.0L868.6 611.4L869.1 608.0L869.6 611.1L870.0 615.9L870.5 614.3L871.0 616.3L871.4 614.7L871.9 616.6L872.4 618.7L872.8 613.9L873.3 614.7L873.8 615.8L874.3 614.8L874.7 611.2L875.2 615.7L875.7 617.1L876.1 614.4L876.6 620.8L877.1 615.1L877.5 619.0L878.0 619.3L878.5 617.2L879.0 609.5L879.4 619.8L879.9 615.8L880.4 617.4L880.8 622.2L881.3 616.5L881.8 623.8L882.3 623.1L882.7 621.4L883.2 621.5L883.7 618.3L884.1 621.9L884.6 616.5L885.1 619.8L885.5 622.5L886.0 623.0L886.5 620.4L887.0 635.2L887.4 627.6L887.9 624.0L888.4 620.1L888.8 621.5L889.3 622.1L889.8 623.0L890.2 629.0L890.7 623.7L891.2 628.2L891.7 620.9L892.1 623.4L892.6 623.8L893.1 622.6L893.5 623.0L894.0 623.5L894.5 623.4L894.9 626.2L895.4 628.7L895.9 623.9L896.4 621.1L896.8 622.5L897.3 626.1L897.8 623.9L898.2 627.2L898.7 624.9L899.2 628.1L899.6 626.0L900.1 621.0L900.6 624.6L901.1 622.7L901.5 629.6L902.0 632.2L902.5 627.7L902.9 626.1L903.4 628.6L903.9 625.1L904.3 630.0L904.8 624.4L905.3 625.7L905.8 632.5L906.2 627.2L906.7 629.9L907.2 626.2L907.6 631.3L908.1 628.7L908.6 628.1L909.1 640.0L909.5 636.8L910.0 629.5L910.5 630.9L910.9 627.5L911.4 630.1L911.9 635.5L912.3 630.1L912.8 633.9L913.3 632.3L913.8 633.4L914.2 630.7L914.7 637.1L915.2 636.1L915.6 640.7L916.1 625.8L916.6 636.2L917.0 635.9L917.5 637.1L918.0 635.4L918.5 634.8L918.9 631.3L919.4 633.0L919.9 632.6L920.3 636.0L920.8 634.3L921.3 630.1L921.7 634.4L922.2 633.4L922.7 642.7L923.2 630.9L923.6 634.0L924.1 630.6L924.6 646.7L925.0 635.3L925.5 636.0L926.0 635.0L926.4 638.2L926.9 635.2L927.4 633.6L927.9 636.1L928.3 639.0L928.8 637.4L929.3 638.2L929.7 636.7L930.2 639.8L930.7 645.6L931.2 632.4L931.6 644.9L932.1 638.0L932.6 643.1L933.0 639.0L933.5 642.0L934.0 638.3L934.4 641.8L934.9 643.9L935.4 637.4L935.9 633.7L936.3 637.5L936.8 638.6L937.3 643.6L937.7 639.6L938.2 637.6L938.7 642.3L939.1 636.2L939.6 640.0L940.1 638.5L940.6 642.2L941.0 642.3L941.5 639.4L942.0 638.9L942.4 639.2L942.9 645.3L943.4 644.1L943.8 641.1L944.3 664.1L944.8 637.0L945.3 640.1L945.7 641.4L946.2 644.9L946.7 638.4L947.1 643.1L947.6 634.5L948.1 638.8L948.5 649.4L949.0 639.3L949.5 644.9L950.0 645.0L950.4 643.9L950.9 643.5L951.4 641.9L951.8 639.9L952.3 641.3L952.8 646.8L953.3 650.2L953.7 647.5L954.2 642.2L954.7 640.1L955.1 636.5L955.6 650.9L956.1 643.9L956.5 645.5L957.0 646.4L957.5 644.0L958.0 645.9L958.4 646.1L958.9 648.1L959.4 643.2L959.8 640.5L960.3 638.2L960.8 651.8L961.2 650.9L961.7 646.9L962.2 650.0L962.7 641.2L963.1 650.2L963.6 645.6L964.1 653.4L964.5 648.1L965.0 645.5L965.5 639.6L965.9 650.2L966.4 645.0L966.9 658.8L967.4 653.5L967.8 651.4L968.3 649.8L968.8 645.2L969.2 644.4L969.7 656.7L970.2 645.1L970.6 654.0L971.1 639.4L971.6 646.4L972.1 647.4L972.5 649.2L973.0 648.5L973.5 648.8L973.9 652.4L974.4 644.9L974.9 647.4L975.3 645.1L975.8 649.3L976.3 645.6L976.8 653.5L977.2 633.7L977.7 653.4L978.2 652.0L978.6 644.7L979.1 643.5L979.6 654.4L980.1 660.1L980.5 658.4L981.0 655.9L981.5 654.7L981.9 651.2L982.4 645.0L982.9 644.8L983.3 654.1L983.8 644.8L984.3 646.0L984.8 643.6L985.2 651.8L985.7 655.4L986.2 647.0L986.6 643.3L987.1 654.3L987.6 641.4L988.0 642.5L988.5 652.9L989.0 661.7L989.5 655.1L989.9 656.9L990.4 648.7L990.9 662.9L991.3 639.6L991.8 640.1L992.3 656.5L992.7 685.6L993.2 654.9L993.7 649.8L994.2 645.0L994.6 648.3L995.1 653.7L995.6 666.5L996.0 649.6L996.5 647.9L997.0 654.7L997.4 651.2L997.9 650.7L998.4 654.5L998.9 660.8L999.3 651.0L999.8 663.0L1000.3 645.3L1000.7 659.3L1001.2 650.4L1001.7 658.2L1002.2 651.1L1002.6 654.9L1003.1 650.3L1003.6 658.9L1004.0 665.6L1004.5 655.5L1005.0 656.1L1005.4 664.8L1005.9 658.5L1006.4 666.4L1006.9 653.2L1007.3 656.4L1007.8 653.9L1008.3 639.8L1008.7 653.0L1009.2 651.6L1009.7 646.3L1010.1 655.0L1010.6 658.2L1011.1 648.6L1011.6 647.7L1012.0 680.4L1012.5 655.2L1013.0 656.4L1013.4 658.0L1013.9 646.5L1014.4 657.8L1014.8 648.6L1015.3 657.9L1015.8 656.9L1016.3 649.3L1016.7 659.4L1017.2 655.1L1017.7 676.6L1018.1 660.6L1018.6 649.3L1019.1 650.1L1019.5 662.8L1020.0 663.2L1020.5 639.1L1021.0 666.2L1021.4 660.6L1021.9 650.4L1022.4 659.8L1022.8 656.6L1023.3 648.0L1023.8 647.3L1024.3 655.3L1024.7 645.2L1025.2 654.9L1025.7 655.6L1026.1 653.8L1026.6 656.1L1027.1 650.1L1027.5 651.7L1028.0 659.8L1028.5 652.4L1029.0 657.9L1029.4 658.2L1029.9 656.8L1030.4 646.8L1030.8 651.7L1031.3 645.2L1031.8 643.4L1032.2 653.9L1032.7 658.4L1033.2 660.0L1033.7 649.9L1034.1 647.5L1034.6 643.1L1035.1 665.0L1035.5 647.1L1036.0 646.1L1036.5 638.2L1036.9 652.2L1037.4 653.8L1037.9 667.4L1038.4 660.1L1038.8 663.2L1039.3 662.3L1039.8 661.3L1040.2 667.8L1040.7 655.9L1041.2 650.7L1041.6 648.0L1042.1 654.4L1042.6 646.0L1043.1 645.9L1043.5 667.9L1044.0 655.8L1044.5 665.0L1044.9 662.3L1045.4 652.1L1045.9 654.6L1046.4 643.2L1046.8 639.7L1047.3 650.3L1047.8 657.9L1048.2 657.0L1048.7 653.7L1049.2 649.2L1049.6 660.1L1050.1 649.1L1050.6 659.0L1051.1 645.7L1051.5 643.6L1052.0 641.2L1052.5 657.2L1052.9 666.8L1053.4 670.9L1053.9 656.1L1054.3 667.7L1054.8 670.5L1055.3 656.7L1055.8 662.9L1056.2 648.1" fill="none" stroke="#1f77b4" stroke-width="2.083" stroke-dasharray="2.083 3.437"/>
<path d="M693.7 450.5L694.2 451.3L694.6 452.1L695.1 453.5L695.6 452.6L696.1 451.4L696.5 452.3L697.0 452.1L697.5 452.9L697.9 453.1L698.4 454.6L698.9 454.3L699.3 453.7L699.8 454.5L700.3 454.7L700.8 454.3L701.2 455.0L701.7 455.3L702.2 455.3L702.6 455.6L703.1 456.1L703.6 455.7L704.0 455.5L704.5 456.7L705.0 456.8L705.5 458.5L705.9 457.8L706.4 458.3L706.9 458.0L707.3 457.7L707.8 458.0L708.3 458.6L708.7 458.5L709.2 458.9L709.7 460.7L710.2 460.1L710.6 460.0L711.1 459.9L711.6 460.3L712.0 461.8L712.5 462.1L713.0 461.0L713.4 462.3L713.9 462.1L714.4 462.8L714.9 463.7L715.3 463.0L715.8 463.8L716.3 463.7L716.7 464.6L717.2 465.7L717.7 465.6L718.2 465.6L718.6 466.7L719.1 466.9L719.6 466.8L720.0 468.4L720.5 468.4L721.0 468.7L721.4 468.8L721.9 469.7L722.4 470.6L722.9 470.4L723.3 471.5L723.8 471.5L724.3 472.0L724.7 472.8L725.2 472.8L725.7 473.1L726.1 475.0L726.6 474.4L727.1 475.5L727.6 475.9L728.0 476.3L728.5 476.1L729.0 477.4L729.4 478.0L729.9 479.9L730.4 478.9L730.8 479.2L731.3 480.3L731.8 480.4L732.3 480.3L732.7 479.3L733.2 481.9L733.7 480.7L734.1 481.8L734.6 482.3L735.1 482.9L735.5 483.6L736.0 484.5L736.5 484.6L737.0 485.0L737.4 485.3L737.9 484.9L738.4 483.4L738.8 486.4L739.3 486.5L739.8 488.0L740.2 489.4L740.7 488.5L741.2 488.7L741.7 488.3L742.1 488.1L742.6 490.1L743.1 489.8L743.5 490.4L744.0 491.5L744.5 491.5L745.0 492.3L745.4 491.9L745.9 494.4L746.4 495.9L746.8 494.4L747.3 494.3L747.8 494.7L748.2 496.5L748.7 496.1L749.2 497.5L749.7 496.9L750.1 498.7L750.6 499.5L751.1 498.3L751.5 500.7L752.0 501.5L752.5 500.1L752.9 501.3L753.4 504.1L753.9 500.2L754.4 504.3L754.8 504.2L755.3 504.4L755.8 501.0L756.2 505.6L756.7 505.3L757.2 506.9L757.6 506.9L758.1 509.3L758.6 508.6L759.1 509.7L759.5 510.8L760.0 510.1L760.5 509.9L760.9 511.1L761.4 512.5L761.9 512.0L762.3 514.6L762.8 513.7L763.3 514.1L763.8 515.3L764.2 516.1L764.7 516.3L765.2 517.7L765.6 517.9L766.1 517.5L766.6 521.1L767.1 518.1L767.5 519.6L768.0 520.5L768.5 522.5L768.9 522.5L769.4 523.3L769.9 522.4L770.3 523.1L770.8 523.1L771.3 525.0L771.8 528.3L772.2 527.6L772.7 527.5L773.2 527.2L773.6 530.2L774.1 529.2L774.6 529.5L775.0 531.0L775.5 531.1L776.0 528.6L776.5 532.1L776.9 530.2L777.4 533.0L777.9 534.9L778.3 533.8L778.8 535.8L779.3 535.9L779.7 539.7L780.2 536.6L780.7 538.5L781.2 536.6L781.6 538.4L782.1 540.0L782.6 541.6L783.0 540.5L783.5 541.7L784.0 542.9L784.4 539.6L784.9 543.1L785.4 542.1L785.9 541.8L786.3 544.0L786.8 544.2L787.3 544.9L787.7 544.8L788.2 545.9L788.7 545.6L789.2 547.7L789.6 549.3L790.1 549.7L790.6 550.6L791.0 549.8L791.5 548.5L792.0 552.8L792.4 552.8L792.9 554.0L793.4 552.9L793.9 551.6L794.3 554.4L794.8 553.8L795.3 559.2L795.7 555.7L796.2 555.1L796.7 557.6L797.1 560.0L797.6 556.6L798.1 558.2L798.6 555.2L799.0 560.1L799.5 559.7L800.0 560.7L800.4 560.3L800.9 564.6L801.4 558.9L801.8 560.7L802.3 562.9L802.8 564.5L803.3 562.4L803.7 563.2L804.2 565.2L804.7 565.2L805.1 564.6L805.6 566.7L806.1 567.0L806.5 567.6L807.0 568.0L807.5 570.5L808.0 570.2L808.4 567.0L808.9 565.6L809.4 569.9L809.8 578.7L810.3 574.0L810.8 570.2L811.3 568.1L811.7 569.5L812.2 573.0L812.7 573.8L813.1 574.5L813.6 570.3L814.1 574.0L814.5 577.1L815.0 573.3L815.5 574.1L816.0 581.4L816.4 578.4L816.9 575.0L817.4 575.7L817.8 585.3L818.3 578.7L818.8 577.1L819.2 578.8L819.7 582.7L820.2 581.0L820.7 577.5L821.1 580.2L821.6 584.3L822.1 576.8L822.5 582.2L823.0 587.1L823.5 584.4L823.9 591.7L824.4 586.2L824.9 584.9L825.4 579.3L825.8 585.1L826.3 585.0L826.8 584.4L827.2 586.2L827.7 588.8L828.2 584.0L828.6 586.5L829.1 584.3L829.6 585.9L830.1 591.7L830.5 590.7L831.0 590.9L831.5 591.2L831.9 587.7L832.4 591.9L832.9 593.5L833.3 587.6L833.8 588.2L834.3 592.2L834.8 595.9L835.2 594.9L835.7 595.6L836.2 596.4L836.6 597.1L837.1 593.7L837.6 593.9L838.1 593.8L838.5 598.4L839.0 594.9L839.5 590.4L839.9 595.7L840.4 598.0L840.9 589.4L841.3 596.5L841.8 599.8L842.3 595.4L842.8 600.8L843.2 599.9L843.7 596.0L844.2 601.4L844.6 604.9L845.1 597.8L845.6 594.6L846.0 611.9L846.5 602.2L847.0 593.9L847.5 600.8L847.9 599.2L848.4 602.7L848.9 604.8L849.3 604.8L849.8 604.3L850.3 602.9L850.7 614.4L851.2 611.4L851.7 604.4L852.2 602.4L852.6 607.4L853.1 605.3L853.6 609.6L854.0 611.2L854.5 605.6L855.0 606.7L855.4 608.7L855.9 612.1L856.4 607.1L856.9 607.9L857.3 608.9L857.8 608.7L858.3 611.4L858.7 606.9L859.2 607.7L859.7 603.2L860.2 604.7L860.6 610.2L861.1 615.3L861.6 608.2L862.0 616.1L862.5 605.6L863.0 617.7L863.4 613.4L863.9 606.3L864.4 612.2L864.9 609.7L865.3 610.3L865.8 615.1L866.3 610.1L866.7 617.3L867.2 615.3L867.7 606.3L868.1 615.2L868.6 613.2L869.1 619.7L869.6 610.0L870.0 619.6L870.5 619.0L871.0 618.7L871.4 620.6L871.9 623.2L872.4 619.5L872.8 621.8L873.3 617.8L873.8 622.2L874.3 622.1L874.7 619.6L875.2 618.5L875.7 623.1L876.1 619.2L876.6 620.3L877.1 615.0L877.5 617.0L878.0 617.8L878.5 615.9L879.0 623.6L879.4 615.0L879.9 620.2L880.4 623.7L880.8 617.6L881.3 627.2L881.8 614.5L882.3 621.2L882.7 630.4L883.2 628.6L883.7 625.6L884.1 626.2L884.6 619.0L885.1 619.8L885.5 619.5L886.0 621.8L886.5 629.5L887.0 619.7L887.4 619.5L887.9 636.4L888.4 628.6L888.8 627.7L889.3 630.3L889.8 621.5L890.2 624.4L890.7 626.6L891.2 633.9L891.7 639.6L892.1 632.8L892.6 632.5L893.1 633.2L893.5 641.3L894.0 637.6L894.5 631.3L894.9 627.4L895.4 632.4L895.9 630.9L896.4 630.3L896.8 630.5L897.3 624.4L897.8 635.2L898.2 629.8L898.7 639.1L899.2 619.2L899.6 627.8L900.1 626.7L900.6 631.5L901.1 633.0L901.5 640.5L902.0 631.1L902.5 626.0L902.9 653.1L903.4 624.5L903.9 638.7L904.3 631.3L904.8 639.2L905.3 635.3L905.8 630.1L906.2 636.0L906.7 625.6L907.2 635.1L907.6 631.9L908.1 644.8L908.6 639.1L909.1 638.7L909.5 633.5L910.0 627.7L910.5 636.7L910.9 645.8L911.4 641.3L911.9 647.0L912.3 631.7L912.8 637.8L913.3 656.4L913.8 640.8L914.2 633.2L914.7 636.1L915.2 642.9L915.6 634.8L916.1 637.1L916.6 648.3L917.0 638.8L917.5 629.7L918.0 648.2L918.5 634.5L918.9 641.8L919.4 637.2L919.9 638.8L920.3 639.7L920.8 642.8L921.3 641.9L921.7 637.9L922.2 639.4L922.7 653.8L923.2 639.8L923.6 635.0L924.1 637.6L924.6 642.0L925.0 658.5L925.5 635.8L926.0 635.1L926.4 635.3L926.9 651.7L927.4 646.4L927.9 648.8L928.3 647.1L928.8 688.5L929.3 649.0L929.7 648.9L930.2 648.7L930.7 636.1L931.2 651.2L931.6 649.9L932.1 639.4L932.6 651.3L933.0 639.3L933.5 640.9L934.0 652.5L934.4 653.4L934.9 647.0L935.4 649.7L935.9 647.0L936.3 653.2L936.8 644.7L937.3 662.2L937.7 653.0L938.2 650.9L938.7 660.6L939.1 652.4L939.6 651.7L940.1 663.3L940.6 667.4L941.0 633.8L941.5 653.1L942.0 652.3L942.4 656.6L942.9 630.7L943.4 653.4L943.8 669.3L944.3 648.4L944.8 661.0L945.3 649.2L945.7 653.8L946.2 643.8L946.7 649.4L947.1 656.5L947.6 643.3L948.1 635.9L948.5 665.0L949.0 645.9L949.5 651.2L950.0 650.8L950.4 666.4L950.9 678.4L951.4 644.5L951.8 653.9L952.3 660.0L952.8 642.5L953.3 646.4L953.7 650.0L954.2 665.3L954.7 656.2L955.1 645.3L955.6 679.3L956.1 673.4L956.5 664.4L957.0 649.3L957.5 655.2L958.0 653.4L958.4 655.8L958.9 656.8L959.4 648.3L959.8 634.3L960.3 654.1L960.8 647.9L961.2 662.6L961.7 646.2L962.2 656.8L962.7 657.2L963.1 663.4L963.6 666.8L964.1 664.6L964.5 669.6L965.0 673.7L965.5 645.5L965.9 656.0L966.4 651.8L966.9 655.7L967.4 676.5L967.8 660.2L968.3 670.1L968.8 669.3L969.2 662.1L969.7 659.6L970.2 660.4L970.6 660.2L971.1 664.5L971.6 661.4L972.1 651.2L972.5 644.8L973.0 652.5L973.5 664.5L973.9 658.8L974.4 654.1L974.9 653.8L975.3 652.2L975.8 652.2L976.3 659.3L976.8 666.2L977.2 682.9L977.7 653.9L978.2 657.9L978.6 673.6L979.1 663.8L979.6 668.4L980.1 669.0L980.5 649.4L981.0 668.3L981.5 644.9L981.9 666.1L982.4 673.1L982.9 663.6L983.3 645.3L983.8 666.8L984.3 660.1L984.8 701.4L985.2 659.6L985.7 683.7L986.2 666.9L986.6 641.9L987.1 668.6L987.6 658.8L988.0 668.5L988.5 669.9L989.0 663.2L989.5 655.7L989.9 665.2L990.4 666.5L990.9 678.6L991.3 691.4L991.8 665.1L992.3 668.6L992.7 663.7L993.2 656.4L993.7 658.4L994.2 678.2L994.6 664.1L995.1 660.5L995.6 669.9L996.0 707.5L996.5 677.5L997.0 668.3L997.4 659.3L997.9 676.3L998.4 688.0L998.9 654.0L999.3 667.9L999.8 673.3L1000.3 661.7L1000.7 660.2L1001.2 668.6L1001.7 675.3L1002.2 675.2L1002.6 659.3L1003.1 669.6L1003.6 662.4L1004.0 701.8L1004.5 674.5L1005.0 673.0L1005.4 674.3L1005.9 703.8L1006.4 674.1L1006.9 652.5L1007.3 664.8L1007.8 675.5L1008.3 678.5L1008.7 690.2L1009.2 665.8L1009.7 679.8L1010.1 674.0L1010.6 658.8L1011.1 658.3L1011.6 661.6L1012.0 698.4L1012.5 676.8L1013.0 656.1L1013.4 688.0L1013.9 655.4L1014.4 669.5L1014.8 658.4L1015.3 675.0L1015.8 688.2L1016.3 685.3L1016.7 653.7L1017.2 673.9L1017.7 690.0L1018.1 660.0L1018.6 698.0L1019.1 671.9L1019.5 665.5L1020.0 662.5L1020.5 664.6L1021.0 671.2L1021.4 715.2L1021.9 666.9L1022.4 670.7L1022.8 673.0L1023.3 664.1L1023.8 661.0L1024.3 667.6L1024.7 640.2L1025.2 647.8L1025.7 666.8L1026.1 683.9L1026.6 694.4L1027.1 663.4L1027.5 709.0L1028.0 652.2L1028.5 659.1L1029.0 679.2L1029.4 662.4L1029.9 685.8L1030.4 690.9L1030.8 661.6L1031.3 689.2L1031.8 668.0L1032.2 673.3L1032.7 653.5L1033.2 667.2L1033.7 653.4L1034.1 660.6L1034.6 684.7L1035.1 693.7L1035.5 715.2L1036.0 671.3L1036.5 715.2L1036.9 715.2L1037.4 715.2L1037.9 682.5L1038.4 662.7L1038.8 715.2L1039.3 697.9L1039.8 679.6L1040.2 664.9L1040.7 704.5L1041.2 670.6L1041.6 673.8L1042.1 692.1L1042.6 691.0L1043.1 657.0L1043.5 662.5L1044.0 666.2L1044.5 687.8L1044.9 678.0L1045.4 700.2L1045.9 715.2L1046.4 680.4L1046.8 703.5L1047.3 698.9L1047.8 698.2L1048.2 666.7L1048.7 695.0L1049.2 711.0L1049.6 648.1L1050.1 715.2L1050.6 668.7L1051.1 692.5L1051.5 662.3L1052.0 670.8L1052.5 658.0L1052.9 673.0L1053.4 686.5L1053.9 653.2L1054.3 672.7L1054.8 675.3L1055.3 674.3L1055.8 685.9L1056.2 666.3" fill="none" stroke="#ff7f0e" stroke-width="2.083" stroke-dasharray="2.083 3.437"/>
<path d="M693.7 457.3L694.2 457.9L694.6 458.3L695.1 458.5L695.6 457.3L696.1 457.9L696.5 457.9L697.0 459.3L697.5 460.0L697.9 458.7L698.4 459.6L698.9 460.7L699.3 459.9L699.8 460.2L700.3 460.6L700.8 460.1L701.2 459.9L701.7 460.8L702.2 461.5L702.6 461.6L703.1 461.7L703.6 461.8L704.0 460.9L704.5 460.8L705.0 462.2L705.5 463.0L705.9 463.6L706.4 463.2L706.9 463.2L707.3 463.4L707.8 463.4L708.3 463.6L708.7 463.7L709.2 464.5L709.7 464.8L710.2 465.5L710.6 466.3L711.1 466.3L711.6 465.7L712.0 465.9L712.5 466.7L713.0 466.7L713.4 467.1L713.9 468.0L714.4 468.3L714.9 468.5L715.3 468.5L715.8 468.9L716.3 470.0L716.7 469.6L717.2 469.3L717.7 469.7L718.2 469.8L718.6 470.3L719.1 470.3L719.6 470.8L720.0 471.7L720.5 471.5L721.0 471.8L721.4 472.6L721.9 473.1L722.4 473.8L722.9 474.0L723.3 474.0L723.8 474.5L724.3 474.4L724.7 474.7L725.2 475.5L725.7 476.0L726.1 476.4L726.6 476.4L727.1 477.5L727.6 478.7L728.0 478.7L728.5 478.8L729.0 479.0L729.4 479.5L729.9 479.3L730.4 479.6L730.8 480.4L731.3 481.0L731.8 481.9L732.3 482.5L732.7 482.2L733.2 482.6L733.7 483.6L734.1 482.9L734.6 483.0L735.1 484.2L735.5 484.8L736.0 485.5L736.5 485.7L737.0 485.4L737.4 486.3L737.9 487.1L738.4 486.7L738.8 486.9L739.3 487.8L739.8 487.4L740.2 488.5L740.7 489.3L741.2 489.4L741.7 491.0L742.1 491.2L742.6 489.9L743.1 491.3L743.5 491.3L744.0 492.0L744.5 492.9L745.0 493.5L745.4 493.9L745.9 494.0L746.4 494.3L746.8 494.1L747.3 496.3L747.8 495.8L748.2 496.1L748.7 495.4L749.2 496.6L749.7 498.2L750.1 498.1L750.6 498.1L751.1 498.7L751.5 499.9L752.0 498.9L752.5 499.8L752.9 501.2L753.4 502.1L753.9 501.3L754.4 503.0L754.8 502.7L755.3 503.9L755.8 502.8L756.2 504.8L756.7 503.2L757.2 504.6L757.6 504.3L758.1 507.2L758.6 507.4L759.1 506.1L759.5 507.9L760.0 505.2L760.5 509.0L760.9 508.0L761.4 510.7L761.9 510.1L762.3 509.4L762.8 509.3L763.3 512.6L763.8 513.7L764.2 511.4L764.7 511.7L765.2 511.1L765.6 515.1L766.1 513.6L766.6 515.5L767.1 517.3L767.5 516.1L768.0 514.2L768.5 515.8L768.9 516.9L769.4 517.9L769.9 518.5L770.3 516.1L770.8 518.0L771.3 521.5L771.8 522.1L772.2 521.1L772.7 521.1L773.2 519.8L773.6 524.1L774.1 519.9L774.6 521.0L775.0 523.3L775.5 520.8L776.0 524.6L776.5 524.1L776.9 524.7L777.4 521.8L777.9 522.8L778.3 523.4L778.8 527.4L779.3 526.1L779.7 528.9L780.2 527.0L780.7 526.6L781.2 526.0L781.6 529.2L782.1 527.9L782.6 528.2L783.0 530.1L783.5 525.9L784.0 528.6L784.4 527.0L784.9 528.5L785.4 533.4L785.9 532.9L786.3 530.7L786.8 530.5L787.3 531.4L787.7 533.3L788.2 532.0L788.7 538.6L789.2 534.3L789.6 539.0L790.1 533.6L790.6 535.1L791.0 534.4L791.5 537.1L792.0 542.3L792.4 538.3L792.9 536.7L793.4 537.4L793.9 536.0L794.3 535.3L794.8 539.1L795.3 537.6L795.7 544.2L796.2 538.7L796.7 552.3L797.1 539.3L797.6 546.0L798.1 538.8L798.6 538.1L799.0 542.3L799.5 540.8L800.0 537.4L800.4 550.1L800.9 548.2L801.4 543.7L801.8 546.7L802.3 545.4L802.8 537.9L803.3 539.4L803.7 543.1L804.2 546.8L804.7 544.2L805.1 545.0L805.6 546.8L806.1 542.6L806.5 551.8L807.0 542.8L807.5 548.1L808.0 540.2L808.4 548.2L808.9 549.3L809.4 549.7L809.8 547.6L810.3 547.3L810.8 540.6L811.3 544.6L811.7 549.7L812.2 558.5L812.7 550.0L813.1 548.3L813.6 555.0L814.1 551.1L814.5 543.5L815.0 552.2L815.5 556.6L816.0 549.9L816.4 546.8L816.9 552.3L817.4 552.1L817.8 548.5L818.3 550.6L818.8 556.1L819.2 555.5L819.7 554.6L820.2 553.8L820.7 550.8L821.1 559.1L821.6 554.1L822.1 555.8L822.5 563.0L823.0 553.6L823.5 555.2L823.9 560.1L824.4 563.1L824.9 554.0L825.4 551.7L825.8 557.1L826.3 558.4L826.8 554.6L827.2 559.0L827.7 558.8L828.2 554.0L828.6 561.8L829.1 554.2L829.6 557.8L830.1 549.6L830.5 565.4L831.0 554.3L831.5 559.3L831.9 557.4L832.4 563.1L832.9 564.3L833.3 556.6L833.8 558.7L834.3 558.7L834.8 558.0L835.2 558.4L835.7 567.1L836.2 562.0L836.6 562.4L837.1 554.7L837.6 556.8L838.1 569.1L838.5 567.2L839.0 559.2L839.5 560.1L839.9 557.9L840.4 567.7L840.9 557.4L841.3 561.4L841.8 553.6L842.3 561.6L842.8 565.6L843.2 566.9L843.7 559.2L844.2 576.7L844.6 560.0L845.1 561.6L845.6 566.5L846.0 561.8L846.5 565.3L847.0 569.5L847.5 565.5L847.9 562.3L848.4 564.3L848.9 571.3L849.3 560.3L849.8 563.3L850.3 561.4L850.7 564.5L851.2 560.0L851.7 571.2L852.2 567.4L852.6 571.2L853.1 567.2L853.6 567.1L854.0 566.7L854.5 571.3L855.0 563.3L855.4 573.0L855.9 569.9L856.4 579.1L856.9 563.0L857.3 564.2L857.8 567.8L858.3 566.2L858.7 572.9L859.2 571.6L859.7 570.3L860.2 564.6L860.6 570.9L861.1 567.6L861.6 572.5L862.0 573.9L862.5 566.9L863.0 567.4L863.4 566.6L863.9 571.0L864.4 568.3L864.9 575.4L865.3 573.9L865.8 567.6L866.3 571.3L866.7 573.1L867.2 572.4L867.7 563.5L868.1 570.8L868.6 569.5L869.1 572.9L869.6 562.3L870.0 571.0L870.5 562.7L871.0 566.2L871.4 568.3L871.9 570.0L872.4 575.9L872.8 568.5L873.3 563.1L873.8 568.3L874.3 564.4L874.7 568.1L875.2 567.2L875.7 572.7L876.1 571.2L876.6 568.6L877.1 567.0L877.5 575.4L878.0 577.7L878.5 572.7L879.0 571.8L879.4 570.1L879.9 560.8L880.4 575.3L880.8 567.1L881.3 571.4L881.8 573.0L882.3 579.1L882.7 568.3L883.2 567.5L883.7 570.8L884.1 570.7L884.6 574.8L885.1 581.0L885.5 580.0L886.0 579.8L886.5 580.0L887.0 578.1L887.4 576.8L887.9 572.3L888.4 570.2L888.8 576.5L889.3 572.0L889.8 575.8L890.2 575.4L890.7 572.8L891.2 577.6L891.7 574.3L892.1 576.2L892.6 578.7L893.1 578.6L893.5 564.6L894.0 574.8L894.5 577.7L894.9 574.2L895.4 577.9L895.9 578.7L896.4 577.1L896.8 583.5L897.3 577.6L897.8 575.0L898.2 575.6L898.7 577.3L899.2 573.6L899.6 579.8L900.1 572.9L900.6 574.1L901.1 576.6L901.5 572.1L902.0 580.2L902.5 576.2L902.9 578.0L903.4 580.7L903.9 578.4L904.3 574.6L904.8 575.0L905.3 575.6L905.8 583.2L906.2 578.4L906.7 579.1L907.2 581.6L907.6 578.9L908.1 587.0L908.6 583.3L909.1 580.9L909.5 581.1L910.0 577.1L910.5 581.3L910.9 573.5L911.4 590.7L911.9 572.3L912.3 582.5L912.8 583.9L913.3 583.0L913.8 582.5L914.2 582.1L914.7 581.2L915.2 579.0L915.6 577.7L916.1 584.0L916.6 576.1L917.0 579.2L917.5 580.7L918.0 578.1L918.5 580.9L918.9 575.9L919.4 585.0L919.9 576.6L920.3 582.4L920.8 578.5L921.3 583.6L921.7 575.9L922.2 579.2L922.7 578.4L923.2 585.1L923.6 587.1L924.1 581.4L924.6 571.7L925.0 580.4L925.5 594.2L926.0 576.9L926.4 585.3L926.9 580.3L927.4 584.9L927.9 584.7L928.3 581.3L928.8 593.1L929.3 585.9L929.7 583.4L930.2 584.4L930.7 589.6L931.2 578.9L931.6 583.2L932.1 584.4L932.6 591.5L933.0 583.8L933.5 582.1L934.0 581.2L934.4 580.8L934.9 583.5L935.4 586.3L935.9 583.4L936.3 581.7L936.8 584.8L937.3 584.5L937.7 583.0L938.2 585.6L938.7 582.7L939.1 583.1L939.6 587.6L940.1 579.2L940.6 582.3L941.0 588.6L941.5 587.7L942.0 585.5L942.4 587.2L942.9 588.4L943.4 583.9L943.8 586.5L944.3 589.0L944.8 580.6L945.3 587.2L945.7 584.1L946.2 589.8L946.7 589.4L947.1 588.7L947.6 581.7L948.1 583.0L948.5 587.1L949.0 587.4L949.5 584.3L950.0 588.8L950.4 586.3L950.9 582.1L951.4 594.8L951.8 584.4L952.3 586.1L952.8 585.2L953.3 586.8L953.7 583.0L954.2 583.3L954.7 584.3L955.1 591.6L955.6 585.3L956.1 582.9L956.5 590.8L957.0 592.0L957.5 586.9L958.0 583.2L958.4 590.7L958.9 585.6L959.4 588.7L959.8 588.3L960.3 585.7L960.8 587.7L961.2 589.7L961.7 587.3L962.2 582.8L962.7 583.9L963.1 585.2L963.6 590.6L964.1 589.2L964.5 592.9L965.0 585.0L965.5 584.0L965.9 586.9L966.4 586.3L966.9 589.5L967.4 588.8L967.8 583.3L968.3 588.9L968.8 584.2L969.2 582.2L969.7 592.0L970.2 591.4L970.6 582.9L971.1 585.2L971.6 583.2L972.1 582.3L972.5 589.2L973.0 582.0L973.5 583.7L973.9 585.0L974.4 586.9L974.9 589.4L975.3 591.7L975.8 594.3L976.3 591.3L976.8 591.0L977.2 587.7L977.7 591.5L978.2 595.8L978.6 588.1L979.1 597.6L979.6 590.5L980.1 584.6L980.5 595.4L981.0 592.9L981.5 589.0L981.9 585.1L982.4 589.6L982.9 590.3L983.3 587.9L983.8 596.7L984.3 596.4L984.8 586.8L985.2 586.5L985.7 588.0L986.2 589.3L986.6 588.0L987.1 607.4L987.6 595.1L988.0 592.1L988.5 586.8L989.0 589.4L989.5 589.2L989.9 594.4L990.4 590.1L990.9 588.3L991.3 587.1L991.8 589.9L992.3 583.4L992.7 594.9L993.2 587.5L993.7 595.2L994.2 594.8L994.6 587.5L995.1 592.5L995.6 594.7L996.0 590.9L996.5 582.6L997.0 593.7L997.4 592.4L997.9 582.2L998.4 592.7L998.9 582.5L999.3 596.3L999.8 592.3L1000.3 583.9L1000.7 591.6L1001.2 593.3L1001.7 598.4L1002.2 592.9L1002.6 588.6L1003.1 592.6L1003.6 600.9L1004.0 586.9L1004.5 588.7L1005.0 589.7L1005.4 592.3L1005.9 594.6L1006.4 587.2L1006.9 591.2L1007.3 592.9L1007.8 592.5L1008.3 589.0L1008.7 589.3L1009.2 592.2L1009.7 593.1L1010.1 595.6L1010.6 592.1L1011.1 591.8L1011.6 589.3L1012.0 591.1L1012.5 594.2L1013.0 592.7L1013.4 589.3L1013.9 591.9L1014.4 592.2L1014.8 592.6L1015.3 593.3L1015.8 590.3L1016.3 589.2L1016.7 592.7L1017.2 592.5L1017.7 590.3L1018.1 589.1L1018.6 581.9L1019.1 597.2L1019.5 588.2L1020.0 592.7L1020.5 590.0L1021.0 589.5L1021.4 586.4L1021.9 594.2L1022.4 588.4L1022.8 602.2L1023.3 591.6L1023.8 602.1L1024.3 595.5L1024.7 597.0L1025.2 598.4L1025.7 592.8L1026.1 597.1L1026.6 597.7L1027.1 600.5L1027.5 594.3L1028.0 590.5L1028.5 594.4L1029.0 596.3L1029.4 599.3L1029.9 588.4L1030.4 591.5L1030.8 587.4L1031.3 594.9L1031.8 587.4L1032.2 590.2L1032.7 585.1L1033.2 594.5L1033.7 589.6L1034.1 586.9L1034.6 593.9L1035.1 592.1L1035.5 593.8L1036.0 594.9L1036.5 588.9L1036.9 590.7L1037.4 596.6L1037.9 584.1L1038.4 594.7L1038.8 587.5L1039.3 591.9L1039.8 587.3L1040.2 587.8L1040.7 589.0L1041.2 589.2L1041.6 579.8L1042.1 594.9L1042.6 597.5L1043.1 598.8L1043.5 600.7L1044.0 590.3L1044.5 599.6L1044.9 598.6L1045.4 590.2L1045.9 592.2L1046.4 591.8L1046.8 603.2L1047.3 602.6L1047.8 596.8L1048.2 590.6L1048.7 590.8L1049.2 588.6L1049.6 585.9L1050.1 578.9L1050.6 591.9L1051.1 586.6L1051.5 586.0L1052.0 590.0L1052.5 593.3L1052.9 586.8L1053.4 587.1L1053.9 587.5L1054.3 592.5L1054.8 600.1L1055.3 593.2L1055.8 580.0L1056.2 584.9" fill="none" stroke="#2ca02c" stroke-width="2.083" stroke-dasharray="2.083 3.437"/>
</g>
<rect x="675.60" y="438.40" width="399.00" height="292.00" fill="none" stroke="#000" stroke-width="1.11" stroke-linejoin="miter"/>
<path d="M679.50 730.40v4.86M726.52 730.40v4.86M773.54 730.40v4.86M820.56 730.40v4.86M867.58 730.40v4.86M914.60 730.40v4.86M961.62 730.40v4.86M1008.64 730.40v4.86M1055.66 730.40v4.86" stroke="#000" stroke-width="1.11" fill="none"/>
<text x="664.04" y="750.80" font-size="14.44" textLength="30.92" lengthAdjust="spacingAndGlyphs">0.00</text>
<text x="711.06" y="750.80" font-size="14.44" textLength="30.92" lengthAdjust="spacingAndGlyphs">0.05</text>
<text x="758.08" y="750.80" font-size="14.44" textLength="30.92" lengthAdjust="spacingAndGlyphs">0.10</text>
<text x="805.10" y="750.80" font-size="14.44" textLength="30.92" lengthAdjust="spacingAndGlyphs">0.15</text>
<text x="852.12" y="750.80" font-size="14.44" textLength="30.92" lengthAdjust="spacingAndGlyphs">0.20</text>
<text x="899.14" y="750.80" font-size="14.44" textLength="30.92" lengthAdjust="spacingAndGlyphs">0.25</text>
<text x="946.16" y="750.80" font-size="14.44" textLength="30.92" lengthAdjust="spacingAndGlyphs">0.30</text>
<text x="993.18" y="750.80" font-size="14.44" textLength="30.92" lengthAdjust="spacingAndGlyphs">0.35</text>
<text x="1040.20" y="750.80" font-size="14.44" textLength="30.92" lengthAdjust="spacingAndGlyphs">0.40</text>
<path d="M675.60 453.60h-4.86M675.60 548.06h-4.86M675.60 642.52h-4.86" stroke="#000" stroke-width="1.11" fill="none"/>
<path d="M675.60 708.54h-2.78M675.60 691.91h-2.78M675.60 680.11h-2.78M675.60 670.96h-2.78M675.60 663.48h-2.78M675.60 657.15h-2.78M675.60 651.67h-2.78M675.60 646.84h-2.78M675.60 614.08h-2.78M675.60 597.45h-2.78M675.60 585.65h-2.78M675.60 576.50h-2.78M675.60 569.02h-2.78M675.60 562.69h-2.78M675.60 557.21h-2.78M675.60 552.38h-2.78M675.60 519.62h-2.78M675.60 502.99h-2.78M675.60 491.19h-2.78M675.60 482.04h-2.78M675.60 474.56h-2.78M675.60 468.23h-2.78M675.60 462.75h-2.78M675.60 457.92h-2.78" stroke="#000" stroke-width="0.83" fill="none"/>
<text x="640.88" y="460.43" font-size="14.44" textLength="17.66" lengthAdjust="spacingAndGlyphs">10</text>
<text x="658.67" y="455.07" font-size="10.11">0</text>
<text x="632.88" y="554.76" font-size="14.44" textLength="17.66" lengthAdjust="spacingAndGlyphs">10</text>
<text x="650.67" y="549.40" font-size="10.11" textLength="14.32" lengthAdjust="spacingAndGlyphs">−1</text>
<text x="632.88" y="649.35" font-size="14.44" textLength="17.66" lengthAdjust="spacingAndGlyphs">10</text>
<text x="650.67" y="643.99" font-size="10.11" textLength="14.32" lengthAdjust="spacingAndGlyphs">−2</text>
<text x="849.10" y="773.80" font-size="14.44" textLength="20.75" lengthAdjust="spacingAndGlyphs">Q [</text>
<text x="869.84" y="773.80" font-size="14.44" font-style="italic">Å</text>
<text x="880.71" y="768.44" font-size="10.11" textLength="14.32" lengthAdjust="spacingAndGlyphs">−1</text>
<text x="895.41" y="773.80" font-size="14.44">]</text>
<g transform="translate(621.50 584.50) rotate(-90)">
<text x="-26.00" y="-0.36" font-size="14.44" textLength="21.16" lengthAdjust="spacingAndGlyphs">log</text>
<text x="-4.71" y="1.94" font-size="10.11" textLength="12.37" lengthAdjust="spacingAndGlyphs">10</text>
<text x="10.28" y="-0.36" font-size="14.44">(</text>
<text x="15.69" y="-0.36" font-size="14.44" font-style="italic">I</text>
<text x="19.78" y="-0.36" font-size="14.44">)</text>
</g>
<rect x="925.24" y="445.34" width="142.42" height="65.95" rx="2.8" ry="2.8" fill="#fff" fill-opacity="0.8" stroke="#ccc" stroke-width="1.11"/>
<path d="M930.8 455.9L958.6 455.9" fill="none" stroke="#1f77b4" stroke-width="2.083" stroke-dasharray="2.083 3.437"/>
<text x="969.68" y="460.29" font-size="14.44" textLength="92.42" lengthAdjust="spacingAndGlyphs">component-1</text>
<path d="M930.8 476.9L958.6 476.9" fill="none" stroke="#ff7f0e" stroke-width="2.083" stroke-dasharray="2.083 3.437"/>
<text x="969.68" y="481.29" font-size="14.44" textLength="92.42" lengthAdjust="spacingAndGlyphs">component-2</text>
<path d="M930.8 497.9L958.6 497.9" fill="none" stroke="#2ca02c" stroke-width="2.083" stroke-dasharray="2.083 3.437"/>
<text x="969.68" y="502.29" font-size="14.44" textLength="92.42" lengthAdjust="spacingAndGlyphs">component-3</text>
<clipPath id="c6"><rect x="1174.60" y="438.40" width="399.00" height="292.00"/></clipPath>
<g clip-path="url(#c6)">
<path d="M1174.6 723.8L1573.6 723.8" fill="none" stroke="#ff0000" stroke-width="2.083" stroke-linejoin="round" stroke-opacity="0.50"/>
<path d="M1236.2 730.4L1236.2 438.4" fill="none" stroke="#808080" stroke-width="2.083" stroke-dasharray="2.083 3.437"/>
<path d="M1174.6 656.3L1573.6 656.3" fill="none" stroke="#808080" stroke-width="2.083" stroke-dasharray="2.083 3.437"/>
<path d="M1194.3 712.7L1194.8 712.3L1195.3 711.6L1195.7 711.0L1196.2 710.3L1196.7 709.6L1197.1 708.5L1197.6 707.8L1198.1 707.1L1198.5 706.5L1199.0 705.6L1199.5 704.8L1199.9 703.8L1200.4 703.4L1200.9 702.4L1201.3 701.5L1201.8 700.4L1202.3 699.9L1202.7 698.8L1203.2 698.3L1203.7 697.3L1204.1 696.2L1204.6 695.7L1205.1 695.0L1205.5 693.6L1206.0 693.1L1206.4 692.0L1206.9 690.8L1207.4 690.5L1207.8 689.4L1208.3 688.6L1208.8 687.5L1209.2 687.0L1209.7 685.6L1210.2 684.9L1210.6 683.8L1211.1 682.9L1211.6 682.2L1212.0 681.3L1212.5 681.1L1213.0 680.2L1213.4 679.3L1213.9 678.3L1214.4 677.2L1214.8 677.9L1215.3 676.0L1215.8 675.2L1216.2 674.7L1216.7 673.1L1217.2 672.7L1217.6 671.4L1218.1 670.9L1218.6 670.9L1219.0 671.3L1219.5 667.6L1220.0 668.7L1220.4 668.2L1220.9 666.8L1221.4 666.4L1221.8 666.2L1222.3 665.5L1222.8 664.7L1223.2 664.1L1223.7 663.3L1224.2 663.2L1224.6 662.7L1225.1 661.9L1225.6 661.5L1226.0 660.6L1226.5 660.8L1227.0 660.2L1227.4 660.4L1227.9 658.7L1228.4 659.6L1228.8 658.4L1229.3 658.5L1229.8 657.5L1230.2 656.9L1230.7 657.8L1231.2 656.6L1231.6 657.1L1232.1 655.0L1232.6 655.6L1233.0 655.9L1233.5 654.9L1234.0 653.6L1234.4 653.1L1234.9 652.9L1235.4 653.8L1235.8 653.1L1236.3 651.8L1236.8 652.9L1237.2 652.4L1237.7 652.5L1238.1 652.4L1238.6 650.7L1239.1 650.8L1239.5 650.8L1240.0 650.5L1240.5 650.0L1240.9 649.5L1241.4 650.3L1241.9 650.5L1242.3 650.8L1242.8 649.2L1243.3 650.4L1243.7 651.0L1244.2 650.0L1244.7 649.8L1245.1 649.2L1245.6 649.1L1246.1 650.4L1246.5 650.5L1247.0 650.6L1247.5 651.0L1247.9 650.3L1248.4 649.9L1248.9 650.4L1249.3 651.8L1249.8 651.6L1250.3 649.8L1250.7 651.8L1251.2 650.6L1251.7 650.9L1252.1 651.8L1252.6 653.5L1253.1 651.7L1253.5 652.9L1254.0 652.5L1254.5 652.3L1254.9 653.4L1255.4 653.1L1255.9 653.4L1256.3 654.5L1256.8 653.8L1257.3 654.4L1257.7 655.7L1258.2 654.6L1258.7 654.8L1259.1 655.4L1259.6 656.9L1260.1 654.7L1260.5 654.3L1261.0 655.4L1261.5 655.9L1261.9 657.7L1262.4 656.7L1262.9 657.9L1263.3 655.3L1263.8 658.1L1264.3 657.3L1264.7 659.7L1265.2 659.6L1265.7 659.3L1266.1 658.4L1266.6 658.8L1267.1 659.4L1267.5 661.7L1268.0 659.1L1268.5 661.3L1268.9 659.1L1269.4 659.1L1269.8 660.4L1270.3 660.5L1270.8 662.9L1271.2 659.4L1271.7 662.0L1272.2 661.5L1272.6 663.5L1273.1 663.0L1273.6 664.4L1274.0 663.7L1274.5 663.7L1275.0 663.7L1275.4 662.8L1275.9 663.9L1276.4 664.4L1276.8 664.8L1277.3 663.0L1277.8 665.9L1278.2 664.3L1278.7 667.8L1279.2 666.9L1279.6 665.7L1280.1 666.5L1280.6 663.4L1281.0 664.0L1281.5 668.6L1282.0 668.3L1282.4 667.4L1282.9 665.6L1283.4 666.4L1283.8 667.4L1284.3 669.5L1284.8 669.0L1285.2 671.2L1285.7 670.1L1286.2 668.1L1286.6 667.8L1287.1 670.3L1287.6 668.9L1288.0 667.3L1288.5 669.1L1289.0 669.8L1289.4 668.9L1289.9 669.1L1290.4 669.8L1290.8 670.6L1291.3 670.6L1291.8 670.2L1292.2 671.1L1292.7 669.1L1293.2 669.7L1293.6 669.7L1294.1 668.7L1294.6 669.4L1295.0 669.8L1295.5 671.2L1296.0 672.1L1296.4 669.3L1296.9 673.1L1297.4 673.2L1297.8 673.7L1298.3 672.6L1298.8 672.6L1299.2 672.0L1299.7 673.8L1300.2 675.8L1300.6 673.5L1301.1 672.9L1301.6 674.3L1302.0 674.9L1302.5 674.0L1302.9 673.2L1303.4 675.2L1303.9 677.1L1304.3 676.3L1304.8 676.0L1305.3 678.2L1305.7 675.2L1306.2 677.3L1306.7 675.9L1307.1 676.5L1307.6 677.3L1308.1 675.0L1308.5 678.0L1309.0 678.3L1309.5 677.2L1309.9 676.6L1310.4 677.9L1310.9 679.3L1311.3 677.3L1311.8 677.5L1312.3 675.7L1312.7 678.9L1313.2 678.4L1313.7 679.6L1314.1 680.9L1314.6 679.0L1315.1 678.0L1315.5 680.7L1316.0 680.3L1316.5 683.0L1316.9 677.8L1317.4 680.6L1317.9 679.1L1318.3 681.2L1318.8 680.0L1319.3 681.1L1319.7 683.6L1320.2 680.3L1320.7 679.8L1321.1 683.5L1321.6 681.0L1322.1 681.4L1322.5 682.4L1323.0 681.4L1323.5 683.9L1323.9 680.8L1324.4 679.6L1324.9 683.2L1325.3 681.6L1325.8 679.5L1326.3 681.5L1326.7 682.5L1327.2 683.2L1327.7 681.6L1328.1 682.2L1328.6 681.1L1329.1 684.4L1329.5 680.6L1330.0 682.9L1330.5 681.4L1330.9 683.6L1331.4 684.5L1331.9 683.5L1332.3 684.2L1332.8 683.4L1333.3 681.9L1333.7 681.3L1334.2 682.7L1334.6 684.9L1335.1 683.8L1335.6 682.3L1336.0 679.3L1336.5 683.8L1337.0 683.6L1337.4 684.7L1337.9 683.2L1338.4 682.1L1338.8 688.3L1339.3 683.3L1339.8 684.7L1340.2 687.6L1340.7 683.4L1341.2 684.1L1341.6 683.4L1342.1 689.0L1342.6 680.6L1343.0 684.0L1343.5 684.8L1344.0 681.7L1344.4 683.3L1344.9 683.0L1345.4 682.5L1345.8 688.0L1346.3 681.7L1346.8 685.2L1347.2 684.2L1347.7 683.1L1348.2 686.0L1348.6 684.3L1349.1 683.5L1349.6 685.0L1350.0 684.1L1350.5 687.8L1351.0 687.2L1351.4 687.1L1351.9 684.5L1352.4 678.4L1352.8 684.7L1353.3 685.5L1353.8 685.4L1354.2 683.5L1354.7 684.1L1355.2 687.5L1355.6 683.6L1356.1 685.5L1356.6 684.0L1357.0 689.3L1357.5 688.5L1358.0 684.5L1358.4 689.1L1358.9 684.9L1359.4 685.1L1359.8 685.5L1360.3 685.1L1360.8 685.3L1361.2 685.0L1361.7 686.7L1362.2 686.0L1362.6 680.2L1363.1 683.7L1363.6 684.8L1364.0 685.2L1364.5 687.5L1365.0 685.6L1365.4 686.6L1365.9 684.2L1366.3 688.0L1366.8 691.0L1367.3 687.3L1367.7 684.8L1368.2 681.2L1368.7 684.1L1369.1 688.3L1369.6 686.7L1370.1 688.3L1370.5 686.7L1371.0 688.2L1371.5 689.8L1371.9 685.4L1372.4 686.0L1372.9 686.8L1373.3 685.7L1373.8 682.0L1374.3 686.2L1374.7 687.3L1375.2 684.6L1375.7 690.1L1376.1 684.8L1376.6 688.2L1377.1 688.3L1377.5 686.3L1378.0 678.3L1378.5 688.2L1378.9 684.4L1379.4 685.7L1379.9 689.8L1380.3 684.5L1380.8 690.8L1381.3 690.0L1381.7 688.5L1382.2 688.4L1382.7 685.3L1383.1 688.4L1383.6 683.2L1384.1 686.2L1384.5 688.4L1385.0 688.7L1385.5 686.2L1385.9 697.5L1386.4 692.0L1386.9 688.9L1387.3 685.3L1387.8 686.4L1388.3 686.8L1388.7 687.4L1389.2 692.2L1389.7 687.7L1390.1 691.3L1390.6 684.8L1391.1 686.9L1391.5 687.2L1392.0 686.0L1392.5 686.2L1392.9 686.4L1393.4 686.1L1393.9 688.5L1394.3 690.4L1394.8 686.2L1395.3 683.3L1395.7 684.4L1396.2 687.6L1396.7 685.5L1397.1 688.2L1397.6 686.1L1398.0 688.7L1398.5 686.8L1399.0 681.8L1399.4 685.1L1399.9 683.1L1400.4 689.3L1400.8 691.3L1401.3 687.3L1401.8 685.7L1402.2 687.8L1402.7 684.4L1403.2 688.7L1403.6 683.5L1404.1 684.5L1404.6 690.4L1405.0 685.6L1405.5 687.9L1406.0 684.4L1406.4 688.8L1406.9 686.4L1407.4 685.7L1407.8 695.2L1408.3 692.7L1408.8 686.5L1409.2 687.6L1409.7 684.3L1410.2 686.6L1410.6 691.0L1411.1 686.3L1411.6 689.5L1412.0 688.0L1412.5 688.8L1413.0 686.2L1413.4 691.5L1413.9 690.6L1414.4 694.0L1414.8 680.7L1415.3 690.3L1415.8 689.9L1416.2 690.8L1416.7 689.2L1417.2 688.6L1417.6 685.3L1418.1 686.7L1418.6 686.2L1419.0 689.1L1419.5 687.4L1420.0 683.3L1420.4 687.2L1420.9 686.2L1421.4 693.7L1421.8 683.5L1422.3 686.3L1422.8 683.0L1423.2 696.1L1423.7 687.0L1424.2 687.5L1424.6 686.5L1425.1 689.2L1425.6 686.4L1426.0 684.8L1426.5 686.9L1427.0 689.3L1427.4 687.8L1427.9 688.4L1428.4 686.9L1428.8 689.5L1429.3 693.9L1429.7 682.4L1430.2 693.1L1430.7 687.4L1431.1 691.5L1431.6 688.0L1432.1 690.4L1432.5 687.1L1433.0 689.9L1433.5 691.6L1433.9 685.8L1434.4 682.2L1434.9 685.7L1435.3 686.5L1435.8 690.7L1436.3 687.2L1436.7 685.3L1437.2 689.3L1437.7 683.6L1438.1 687.0L1438.6 685.5L1439.1 688.7L1439.5 688.6L1440.0 686.0L1440.5 685.3L1440.9 685.5L1441.4 690.6L1441.9 689.5L1442.3 686.8L1442.8 702.6L1443.3 682.7L1443.7 685.5L1444.2 686.5L1444.7 689.4L1445.1 683.4L1445.6 687.7L1446.1 679.1L1446.5 683.4L1447.0 692.5L1447.5 683.7L1447.9 688.7L1448.4 688.6L1448.9 687.5L1449.3 687.0L1449.8 685.5L1450.3 683.4L1450.7 684.6L1451.2 689.4L1451.7 692.0L1452.1 689.8L1452.6 684.9L1453.1 682.7L1453.5 678.8L1454.0 692.0L1454.5 686.0L1454.9 687.3L1455.4 688.0L1455.9 685.7L1456.3 687.3L1456.8 687.4L1457.3 689.0L1457.7 684.5L1458.2 681.6L1458.7 679.0L1459.1 691.5L1459.6 690.7L1460.1 687.2L1460.5 689.8L1461.0 681.4L1461.4 689.7L1461.9 685.6L1462.4 692.0L1462.8 687.5L1463.3 685.1L1463.8 678.9L1464.2 689.1L1464.7 684.2L1465.2 695.4L1465.6 691.4L1466.1 689.6L1466.6 688.1L1467.0 683.8L1467.5 682.8L1468.0 693.3L1468.4 683.2L1468.9 691.0L1469.4 676.9L1469.8 684.2L1470.3 684.9L1470.8 686.5L1471.2 685.8L1471.7 685.9L1472.2 688.9L1472.6 681.9L1473.1 684.2L1473.6 681.8L1474.0 685.8L1474.5 682.1L1475.0 689.2L1475.4 667.6L1475.9 688.9L1476.4 687.6L1476.8 680.4L1477.3 679.0L1477.8 689.3L1478.2 693.7L1478.7 692.4L1479.2 690.3L1479.6 689.2L1480.1 685.9L1480.6 679.7L1481.0 679.4L1481.5 688.2L1482.0 679.1L1482.4 680.2L1482.9 677.4L1483.4 685.7L1483.8 688.7L1484.3 680.7L1484.8 676.4L1485.2 687.5L1485.7 673.9L1486.2 675.1L1486.6 685.9L1487.1 693.1L1487.6 687.7L1488.0 689.1L1488.5 681.3L1489.0 693.6L1489.4 670.5L1489.9 670.9L1490.4 688.2L1490.8 706.2L1491.3 686.6L1491.8 681.5L1492.2 676.1L1492.7 679.7L1493.2 685.0L1493.6 695.3L1494.1 680.7L1494.5 678.7L1495.0 685.5L1495.5 682.0L1495.9 681.4L1496.4 685.0L1496.9 690.4L1497.3 681.3L1497.8 692.0L1498.3 674.7L1498.7 688.7L1499.2 680.1L1499.7 687.6L1500.1 680.7L1500.6 684.3L1501.1 679.6L1501.5 687.8L1502.0 693.1L1502.5 684.5L1502.9 684.9L1503.4 692.2L1503.9 686.9L1504.3 693.2L1504.8 681.6L1505.3 684.7L1505.7 682.0L1506.2 664.8L1506.7 680.9L1507.1 679.3L1507.6 673.0L1508.1 682.6L1508.5 685.5L1509.0 675.4L1509.5 674.2L1509.9 701.3L1510.4 682.2L1510.9 683.3L1511.3 684.8L1511.8 671.9L1512.3 684.3L1512.7 674.2L1513.2 684.2L1513.7 683.1L1514.1 674.7L1514.6 685.3L1515.1 681.0L1515.5 698.3L1516.0 686.1L1516.5 674.0L1516.9 674.8L1517.4 687.8L1517.9 688.0L1518.3 659.3L1518.8 690.3L1519.3 685.3L1519.7 674.4L1520.2 684.3L1520.7 681.0L1521.1 670.9L1521.6 669.9L1522.1 679.3L1522.5 666.7L1523.0 678.6L1523.5 679.2L1523.9 677.2L1524.4 679.5L1524.9 672.5L1525.3 674.3L1525.8 683.1L1526.2 674.9L1526.7 680.9L1527.2 681.1L1527.6 679.5L1528.1 667.1L1528.6 673.3L1529.0 664.5L1529.5 661.7L1530.0 675.6L1530.4 680.5L1530.9 682.1L1531.4 670.3L1531.8 666.9L1532.3 660.3L1532.8 686.4L1533.2 665.9L1533.7 664.3L1534.2 651.5L1534.6 672.2L1535.1 674.1L1535.6 688.0L1536.0 680.9L1536.5 683.9L1537.0 683.0L1537.4 681.8L1537.9 687.8L1538.4 675.7L1538.8 669.0L1539.3 665.2L1539.8 673.4L1540.2 661.9L1540.7 661.6L1541.2 687.3L1541.6 674.7L1542.1 684.5L1542.6 681.7L1543.0 669.7L1543.5 672.7L1544.0 656.2L1544.4 649.9L1544.9 666.7L1545.4 676.1L1545.8 675.0L1546.3 670.8L1546.8 664.4L1547.2 678.2L1547.7 664.0L1548.2 676.7L1548.6 658.5L1549.1 655.0L1549.6 650.6L1550.0 674.1L1550.5 684.3L1551.0 688.0L1551.4 672.4L1551.9 684.9L1552.4 687.4L1552.8 672.7L1553.3 679.8L1553.8 660.5" fill="none" stroke="#1f77b4" stroke-width="2.083" stroke-dasharray="2.083 3.437"/>
<path d="M1193.1 714.4L1193.5 714.0L1193.9 713.6L1194.4 713.3L1194.8 712.4L1195.2 711.3L1195.7 710.9L1196.1 710.2L1196.5 709.7L1196.9 709.0L1197.4 708.8L1197.8 707.9L1198.2 706.9L1198.6 706.4L1199.1 705.7L1199.5 704.7L1199.9 704.2L1200.3 703.5L1200.8 702.6L1201.2 701.9L1201.6 701.3L1202.0 700.1L1202.5 699.1L1202.9 698.9L1203.3 698.0L1203.7 698.1L1204.2 696.7L1204.6 696.1L1205.0 694.9L1205.4 693.7L1205.9 692.9L1206.3 692.3L1206.7 691.2L1207.1 690.5L1207.6 690.9L1208.0 689.3L1208.4 688.2L1208.8 687.1L1209.3 686.3L1209.7 686.6L1210.1 685.8L1210.5 683.6L1211.0 683.8L1211.4 682.4L1211.8 682.0L1212.2 681.8L1212.7 680.0L1213.1 679.7L1213.5 678.5L1213.9 678.2L1214.4 678.3L1214.8 677.1L1215.2 675.9L1215.6 676.1L1216.1 675.2L1216.5 673.8L1216.9 674.6L1217.3 673.5L1217.8 672.7L1218.2 671.6L1218.6 671.7L1219.0 671.6L1219.5 670.3L1219.9 670.5L1220.3 669.4L1220.8 668.9L1221.2 668.8L1221.6 667.6L1222.0 667.0L1222.5 668.4L1222.9 666.5L1223.3 666.8L1223.7 666.3L1224.2 665.7L1224.6 664.3L1225.0 665.0L1225.4 664.7L1225.9 666.4L1226.3 663.8L1226.7 663.2L1227.1 663.7L1227.6 662.7L1228.0 661.5L1228.4 658.8L1228.8 661.7L1229.3 658.8L1229.7 659.3L1230.1 659.0L1230.5 658.9L1231.0 659.0L1231.4 659.3L1231.8 658.3L1232.2 657.8L1232.7 657.4L1233.1 655.5L1233.5 651.9L1233.9 655.8L1234.4 655.0L1234.8 656.5L1235.2 657.7L1235.6 655.1L1236.1 654.4L1236.5 652.7L1236.9 651.2L1237.3 653.5L1237.8 652.0L1238.2 652.0L1238.6 652.9L1239.0 651.8L1239.5 652.2L1239.9 650.5L1240.3 653.8L1240.7 655.3L1241.2 651.8L1241.6 650.6L1242.0 650.3L1242.4 652.5L1242.9 650.8L1243.3 652.4L1243.7 650.4L1244.1 652.4L1244.6 653.0L1245.0 649.9L1245.4 653.2L1245.9 653.6L1246.3 650.2L1246.7 651.4L1247.1 655.3L1247.6 647.5L1248.0 653.9L1248.4 652.8L1248.8 652.4L1249.3 645.1L1249.7 652.6L1250.1 651.3L1250.5 653.1L1251.0 652.3L1251.4 655.6L1251.8 653.5L1252.2 654.7L1252.7 655.6L1253.1 653.6L1253.5 652.5L1253.9 653.7L1254.4 655.3L1254.8 653.7L1255.2 657.2L1255.6 654.9L1256.1 654.8L1256.5 656.1L1256.9 656.7L1257.3 656.3L1257.8 657.8L1258.2 657.4L1258.6 656.0L1259.0 661.1L1259.5 655.6L1259.9 657.3L1260.3 658.0L1260.7 660.5L1261.2 659.8L1261.6 660.4L1262.0 658.3L1262.4 658.7L1262.9 658.0L1263.3 660.4L1263.7 664.7L1264.1 663.0L1264.6 662.2L1265.0 661.2L1265.4 665.1L1265.8 662.9L1266.3 662.8L1266.7 664.4L1267.1 663.9L1267.5 659.5L1268.0 664.3L1268.4 660.8L1268.8 664.5L1269.2 666.6L1269.7 664.5L1270.1 666.7L1270.5 666.3L1271.0 670.9L1271.4 666.2L1271.8 668.3L1272.2 665.2L1272.7 667.2L1273.1 668.8L1273.5 670.4L1273.9 668.5L1274.4 669.6L1274.8 670.7L1275.2 665.7L1275.6 670.0L1276.1 668.2L1276.5 667.3L1276.9 669.7L1277.3 669.5L1277.8 670.0L1278.2 669.3L1278.6 670.4L1279.0 669.5L1279.5 671.8L1279.9 673.3L1280.3 673.4L1280.7 674.1L1281.2 672.6L1281.6 670.6L1282.0 675.5L1282.4 675.0L1282.9 676.0L1283.3 674.3L1283.7 672.3L1284.1 675.4L1284.6 674.2L1285.0 680.0L1285.4 675.6L1285.8 674.5L1286.3 677.0L1286.7 679.4L1287.1 675.2L1287.5 676.6L1288.0 672.7L1288.4 678.0L1288.8 677.3L1289.2 678.0L1289.7 677.2L1290.1 681.5L1290.5 674.9L1290.9 676.6L1291.4 678.7L1291.8 680.1L1292.2 677.4L1292.6 678.0L1293.1 679.8L1293.5 679.5L1293.9 678.6L1294.4 680.4L1294.8 680.4L1295.2 680.8L1295.6 680.9L1296.1 683.1L1296.5 682.5L1296.9 678.8L1297.3 677.0L1297.8 681.3L1298.2 689.2L1298.6 684.7L1299.0 680.7L1299.5 678.0L1299.9 679.3L1300.3 682.7L1300.7 683.2L1301.2 683.6L1301.6 678.9L1302.0 682.5L1302.4 685.3L1302.9 681.2L1303.3 681.7L1303.7 688.3L1304.1 685.4L1304.6 681.8L1305.0 682.2L1305.4 690.7L1305.8 684.6L1306.3 682.8L1306.7 684.2L1307.1 687.6L1307.5 685.7L1308.0 682.1L1308.4 684.5L1308.8 688.0L1309.2 680.5L1309.7 685.5L1310.1 689.7L1310.5 687.1L1310.9 692.9L1311.4 688.2L1311.8 686.8L1312.2 681.2L1312.6 686.5L1313.1 686.2L1313.5 685.4L1313.9 686.8L1314.3 688.8L1314.8 684.3L1315.2 686.4L1315.6 684.0L1316.0 685.4L1316.5 690.2L1316.9 689.1L1317.3 689.1L1317.7 689.2L1318.2 685.8L1318.6 689.3L1319.0 690.5L1319.5 685.0L1319.9 685.4L1320.3 688.7L1320.7 691.5L1321.2 690.5L1321.6 690.9L1322.0 691.4L1322.4 691.7L1322.9 688.7L1323.3 688.7L1323.7 688.4L1324.1 691.9L1324.6 688.9L1325.0 684.7L1325.4 689.2L1325.8 690.9L1326.3 683.0L1326.7 689.3L1327.1 691.7L1327.5 687.9L1328.0 692.1L1328.4 691.3L1328.8 687.8L1329.2 692.1L1329.7 694.5L1330.1 688.8L1330.5 685.7L1330.9 698.6L1331.4 691.8L1331.8 684.4L1332.2 690.3L1332.6 688.8L1333.1 691.4L1333.5 692.9L1333.9 692.8L1334.3 692.1L1334.8 690.9L1335.2 698.8L1335.6 696.7L1336.0 691.5L1336.5 689.8L1336.9 693.5L1337.3 691.7L1337.7 694.8L1338.2 695.7L1338.6 691.5L1339.0 692.2L1339.4 693.5L1339.9 695.8L1340.3 691.9L1340.7 692.4L1341.1 693.0L1341.6 692.7L1342.0 694.5L1342.4 690.9L1342.8 691.4L1343.3 687.4L1343.7 688.5L1344.1 692.8L1344.6 696.3L1345.0 690.9L1345.4 696.5L1345.8 688.4L1346.3 697.3L1346.7 694.3L1347.1 688.5L1347.5 693.1L1348.0 691.0L1348.4 691.2L1348.8 694.7L1349.2 690.8L1349.7 696.0L1350.1 694.4L1350.5 687.0L1350.9 694.1L1351.4 692.4L1351.8 696.9L1352.2 689.5L1352.6 696.5L1353.1 696.0L1353.5 695.6L1353.9 696.8L1354.3 698.3L1354.8 695.8L1355.2 697.2L1355.6 694.3L1356.0 697.2L1356.5 697.0L1356.9 695.2L1357.3 694.2L1357.7 697.2L1358.2 694.4L1358.6 695.1L1359.0 691.0L1359.4 692.4L1359.9 692.9L1360.3 691.3L1360.7 696.7L1361.1 690.3L1361.6 694.1L1362.0 696.4L1362.4 691.8L1362.8 698.4L1363.3 689.0L1363.7 694.1L1364.1 699.9L1364.5 698.8L1365.0 696.8L1365.4 697.0L1365.8 691.8L1366.2 692.3L1366.7 691.8L1367.1 693.5L1367.5 698.5L1367.9 691.6L1368.4 691.3L1368.8 702.1L1369.2 697.5L1369.7 696.8L1370.1 698.3L1370.5 692.1L1370.9 694.1L1371.4 695.6L1371.8 700.1L1372.2 703.0L1372.6 699.2L1373.1 698.9L1373.5 699.2L1373.9 703.5L1374.3 701.5L1374.8 697.7L1375.2 695.0L1375.6 698.1L1376.0 697.1L1376.5 696.6L1376.9 696.6L1377.3 692.1L1377.7 699.4L1378.2 695.8L1378.6 701.4L1379.0 687.2L1379.4 694.0L1379.9 693.1L1380.3 696.3L1380.7 697.2L1381.1 701.5L1381.6 695.7L1382.0 691.8L1382.4 707.2L1382.8 690.4L1383.3 700.1L1383.7 695.2L1384.1 700.1L1384.5 697.7L1385.0 694.1L1385.4 697.9L1385.8 690.4L1386.2 697.1L1386.7 694.8L1387.1 702.5L1387.5 699.3L1387.9 698.9L1388.4 695.5L1388.8 691.0L1389.2 697.4L1389.6 702.6L1390.1 700.0L1390.5 703.0L1390.9 693.5L1391.3 697.6L1391.8 707.0L1392.2 699.2L1392.6 694.1L1393.1 696.0L1393.5 700.1L1393.9 694.9L1394.3 696.4L1394.8 702.8L1395.2 697.3L1395.6 690.5L1396.0 702.5L1396.5 694.0L1396.9 698.7L1397.3 695.6L1397.7 696.6L1398.2 697.1L1398.6 698.9L1399.0 698.3L1399.4 695.6L1399.9 696.5L1400.3 704.5L1400.7 696.6L1401.1 693.1L1401.6 694.8L1402.0 697.7L1402.4 706.2L1402.8 693.2L1403.3 692.5L1403.7 692.5L1404.1 702.8L1404.5 699.8L1405.0 701.0L1405.4 700.0L1405.8 715.1L1406.2 700.9L1406.7 700.8L1407.1 700.6L1407.5 692.1L1407.9 701.8L1408.4 701.0L1408.8 694.2L1409.2 701.6L1409.6 693.9L1410.1 694.9L1410.5 702.0L1410.9 702.4L1411.3 698.7L1411.8 700.2L1412.2 698.5L1412.6 702.0L1413.0 696.8L1413.5 706.1L1413.9 701.6L1414.3 700.4L1414.7 705.2L1415.2 701.0L1415.6 700.6L1416.0 706.2L1416.4 707.8L1416.9 687.5L1417.3 701.0L1417.7 700.5L1418.2 702.7L1418.6 684.1L1419.0 700.9L1419.4 708.1L1419.9 697.7L1420.3 704.5L1420.7 698.0L1421.1 700.7L1421.6 694.2L1422.0 697.9L1422.4 701.9L1422.8 693.5L1423.3 687.4L1423.7 705.8L1424.1 695.1L1424.5 698.5L1425.0 698.1L1425.4 706.2L1425.8 710.6L1426.2 693.6L1426.7 699.6L1427.1 702.9L1427.5 691.7L1427.9 694.5L1428.4 696.9L1428.8 705.2L1429.2 700.5L1429.6 693.3L1430.1 710.4L1430.5 708.3L1430.9 704.5L1431.3 695.8L1431.8 699.4L1432.2 698.2L1432.6 699.6L1433.0 700.1L1433.5 694.6L1433.9 682.5L1434.3 698.3L1434.7 694.0L1435.2 702.9L1435.6 692.5L1436.0 699.5L1436.4 699.7L1436.9 703.0L1437.3 704.6L1437.7 703.5L1438.1 705.7L1438.6 707.4L1439.0 691.1L1439.4 698.4L1439.8 695.6L1440.3 698.1L1440.7 708.2L1441.1 700.6L1441.5 705.5L1442.0 705.1L1442.4 701.4L1442.8 699.9L1443.3 700.3L1443.7 700.1L1444.1 702.4L1444.5 700.7L1445.0 694.1L1445.4 689.0L1445.8 694.8L1446.2 702.1L1446.7 698.7L1447.1 695.6L1447.5 695.3L1447.9 694.1L1448.4 694.0L1448.8 698.6L1449.2 702.5L1449.6 709.5L1450.1 694.9L1450.5 697.4L1450.9 705.8L1451.3 700.8L1451.8 703.2L1452.2 703.4L1452.6 690.9L1453.0 703.0L1453.5 686.9L1453.9 701.7L1454.3 705.1L1454.7 700.1L1455.2 686.7L1455.6 701.8L1456.0 697.8L1456.4 714.2L1456.9 697.3L1457.3 709.0L1457.7 701.5L1458.1 682.7L1458.6 702.3L1459.0 696.4L1459.4 702.1L1459.8 702.7L1460.3 698.9L1460.7 693.9L1461.1 700.0L1461.5 700.7L1462.0 706.5L1462.4 711.1L1462.8 699.6L1463.2 701.6L1463.7 698.7L1464.1 693.7L1464.5 695.0L1464.9 705.9L1465.4 698.6L1465.8 696.2L1466.2 701.8L1466.6 714.9L1467.1 705.4L1467.5 700.7L1467.9 695.0L1468.4 704.7L1468.8 709.3L1469.2 690.7L1469.6 700.1L1470.1 703.0L1470.5 696.1L1470.9 695.0L1471.3 700.3L1471.8 703.8L1472.2 703.6L1472.6 694.0L1473.0 700.5L1473.5 696.0L1473.9 713.1L1474.3 703.0L1474.7 702.2L1475.2 702.8L1475.6 713.5L1476.0 702.5L1476.4 687.7L1476.9 697.0L1477.3 703.1L1477.7 704.5L1478.1 709.2L1478.6 697.3L1479.0 704.9L1479.4 702.0L1479.8 692.1L1480.3 691.7L1480.7 694.1L1481.1 711.6L1481.5 703.1L1482.0 689.5L1482.4 708.0L1482.8 688.8L1483.2 698.8L1483.7 691.0L1484.1 701.8L1484.5 707.8L1484.9 706.6L1485.4 686.6L1485.8 701.0L1486.2 708.3L1486.6 691.6L1487.1 711.0L1487.5 699.6L1487.9 695.4L1488.3 693.2L1488.8 694.6L1489.2 698.9L1489.6 715.2L1490.0 696.0L1490.5 698.4L1490.9 699.7L1491.3 693.8L1491.7 691.3L1492.2 696.1L1492.6 669.7L1493.0 678.7L1493.5 695.3L1493.9 705.0L1494.3 709.2L1494.7 692.6L1495.2 713.5L1495.6 682.6L1496.0 688.9L1496.4 702.3L1496.9 691.4L1497.3 705.4L1497.7 707.5L1498.1 690.5L1498.6 706.8L1499.0 695.1L1499.4 698.6L1499.8 682.8L1500.3 694.4L1500.7 682.5L1501.1 689.1L1501.5 704.4L1502.0 708.2L1502.4 714.5L1502.8 696.7L1503.2 714.5L1503.7 714.4L1504.1 714.4L1504.5 702.9L1504.9 690.0L1505.4 714.3L1505.8 709.4L1506.2 701.2L1506.6 691.4L1507.1 711.4L1507.5 695.5L1507.9 697.5L1508.3 706.9L1508.8 706.4L1509.2 683.9L1509.6 688.8L1510.0 691.8L1510.5 704.8L1510.9 699.7L1511.3 709.7L1511.7 714.0L1512.2 700.8L1512.6 710.7L1513.0 709.1L1513.4 708.8L1513.9 691.4L1514.3 707.5L1514.7 712.7L1515.1 672.5L1515.6 713.7L1516.0 692.6L1516.4 706.3L1516.9 687.1L1517.3 693.9L1517.7 682.9L1518.1 695.3L1518.6 703.2L1519.0 677.4L1519.4 694.9L1519.8 696.6L1520.3 695.9L1520.7 702.7L1521.1 689.6" fill="none" stroke="#ff7f0e" stroke-width="2.083" stroke-dasharray="2.083 3.437"/>
<path d="M1192.3 715.6L1192.7 715.2L1193.1 714.7L1193.5 714.2L1193.9 713.3L1194.3 712.8L1194.7 712.2L1195.1 711.9L1195.5 711.5L1195.9 710.5L1196.3 710.1L1196.7 709.8L1197.1 708.8L1197.5 708.2L1197.9 707.6L1198.3 706.7L1198.7 705.8L1199.1 705.4L1199.5 705.0L1199.9 704.3L1200.3 703.5L1200.7 702.7L1201.1 701.4L1201.5 700.5L1201.9 700.4L1202.3 700.0L1202.7 699.5L1203.1 698.4L1203.5 697.5L1203.9 696.7L1204.3 695.8L1204.7 695.0L1205.1 694.1L1205.5 693.8L1205.9 693.1L1206.3 692.6L1206.7 692.3L1207.1 691.3L1207.5 689.9L1207.9 689.0L1208.3 688.7L1208.7 687.6L1209.1 687.0L1209.5 686.8L1209.9 686.1L1210.3 685.2L1210.7 684.2L1211.1 683.6L1211.5 683.6L1211.9 682.1L1212.3 680.8L1212.7 680.1L1213.1 679.2L1213.5 678.6L1213.9 677.5L1214.3 677.0L1214.7 676.9L1215.1 675.6L1215.5 674.8L1215.9 674.7L1216.3 674.2L1216.7 674.0L1217.1 673.2L1217.5 672.1L1217.9 671.6L1218.3 670.3L1218.7 669.6L1219.1 669.5L1219.5 669.0L1219.9 668.5L1220.3 667.4L1220.7 667.8L1221.1 668.2L1221.5 667.1L1221.9 666.3L1222.3 665.4L1222.7 665.1L1223.1 663.6L1223.5 662.9L1223.9 662.9L1224.3 662.7L1224.7 663.0L1225.1 662.8L1225.5 661.3L1225.9 660.8L1226.3 661.2L1226.7 659.1L1227.1 658.1L1227.5 658.8L1227.9 658.7L1228.3 658.8L1228.7 658.0L1229.1 656.4L1229.4 656.8L1229.8 657.0L1230.2 655.2L1230.6 654.6L1231.0 654.9L1231.4 653.2L1231.8 653.9L1232.2 654.2L1232.6 653.3L1233.0 654.9L1233.4 654.2L1233.8 651.0L1234.2 652.3L1234.6 651.4L1235.0 651.4L1235.4 652.1L1235.8 652.0L1236.2 651.6L1236.6 650.8L1237.0 650.4L1237.4 649.0L1237.8 651.8L1238.2 649.9L1238.6 649.5L1239.0 647.1L1239.4 648.4L1239.8 650.2L1240.2 649.1L1240.6 648.1L1241.0 648.2L1241.4 649.3L1241.8 646.7L1242.2 647.2L1242.6 648.8L1243.0 649.6L1243.4 647.1L1243.8 649.3L1244.2 647.8L1244.6 649.1L1245.0 646.1L1245.4 649.0L1245.8 645.1L1246.2 646.7L1246.6 645.1L1247.0 649.7L1247.4 649.0L1247.8 645.7L1248.2 648.2L1248.6 642.3L1249.0 648.5L1249.4 645.8L1249.8 649.9L1250.2 648.0L1250.6 645.8L1251.0 644.6L1251.4 649.9L1251.8 651.2L1252.2 646.0L1252.6 645.8L1253.0 643.7L1253.4 650.3L1253.8 646.7L1254.2 649.5L1254.6 651.8L1255.0 649.0L1255.4 644.6L1255.8 646.7L1256.2 648.1L1256.6 649.1L1257.0 649.3L1257.4 644.0L1257.8 647.0L1258.2 652.4L1258.6 652.8L1259.0 650.3L1259.4 649.5L1259.8 646.4L1260.2 653.3L1260.6 644.9L1261.0 646.4L1261.4 649.8L1261.8 644.3L1262.2 650.7L1262.6 649.2L1263.0 649.5L1263.4 643.2L1263.8 644.4L1264.2 644.8L1264.6 651.5L1265.0 648.4L1265.4 652.8L1265.8 648.7L1266.2 647.2L1266.6 645.4L1267.0 650.5L1267.4 647.6L1267.8 647.3L1268.2 650.1L1268.6 641.5L1269.0 646.1L1269.4 642.3L1269.8 644.5L1270.2 652.8L1270.6 651.3L1271.0 646.5L1271.4 645.6L1271.8 646.5L1272.2 649.4L1272.6 646.4L1273.0 657.3L1273.4 649.3L1273.8 656.8L1274.2 646.7L1274.6 648.8L1275.0 646.9L1275.4 651.2L1275.8 659.2L1276.2 652.1L1276.6 648.6L1277.0 649.4L1277.4 646.1L1277.8 644.1L1278.2 650.6L1278.6 647.2L1279.0 658.0L1279.4 647.9L1279.8 668.9L1280.2 647.9L1280.6 658.8L1281.0 645.8L1281.4 643.8L1281.8 650.9L1282.2 647.7L1282.6 640.3L1283.0 662.1L1283.4 658.7L1283.8 650.5L1284.2 655.2L1284.6 652.6L1285.0 637.5L1285.4 640.1L1285.8 646.5L1286.2 652.8L1286.6 647.4L1287.0 648.4L1287.4 651.1L1287.8 642.6L1288.2 658.6L1288.6 642.0L1289.0 651.2L1289.4 635.2L1289.8 650.4L1290.2 651.7L1290.6 652.0L1290.9 647.7L1291.3 646.5L1291.7 632.3L1292.1 640.1L1292.5 649.4L1292.9 663.3L1293.3 648.9L1293.7 645.1L1294.1 656.6L1294.5 649.2L1294.9 633.4L1295.3 650.2L1295.7 657.3L1296.1 644.9L1296.5 638.2L1296.9 648.3L1297.3 647.5L1297.7 639.8L1298.1 643.5L1298.5 653.1L1298.9 651.6L1299.3 649.5L1299.7 647.6L1300.1 641.3L1300.5 655.9L1300.9 646.5L1301.3 649.3L1301.7 660.7L1302.1 644.1L1302.5 646.6L1302.9 654.8L1303.3 659.3L1303.7 642.8L1304.1 637.5L1304.5 647.7L1304.9 649.6L1305.3 641.8L1305.7 649.8L1306.1 648.9L1306.5 639.1L1306.9 653.3L1307.3 638.4L1307.7 645.1L1308.1 627.0L1308.5 657.6L1308.9 636.5L1309.3 646.1L1309.7 641.8L1310.1 652.0L1310.5 653.6L1310.9 638.7L1311.3 642.3L1311.7 641.8L1312.1 639.9L1312.5 640.4L1312.9 655.8L1313.3 646.3L1313.7 646.7L1314.1 630.1L1314.5 634.3L1314.9 657.0L1315.3 653.6L1315.7 638.0L1316.1 639.3L1316.5 634.1L1316.9 652.6L1317.3 632.0L1317.7 640.0L1318.1 621.7L1318.5 639.4L1318.9 646.7L1319.3 648.7L1319.7 632.7L1320.1 664.0L1320.5 633.4L1320.9 636.3L1321.3 645.9L1321.7 636.0L1322.1 642.5L1322.5 650.1L1322.9 642.1L1323.3 635.0L1323.7 638.7L1324.1 651.6L1324.5 629.0L1324.9 635.3L1325.3 630.4L1325.7 636.8L1326.1 626.2L1326.5 649.0L1326.9 641.4L1327.3 648.2L1327.7 640.1L1328.1 639.3L1328.5 638.1L1328.9 646.8L1329.3 629.8L1329.7 649.1L1330.1 642.8L1330.5 658.7L1330.9 627.0L1331.3 629.2L1331.7 636.7L1332.1 632.8L1332.5 646.1L1332.9 643.1L1333.3 640.2L1333.7 627.1L1334.1 640.6L1334.5 633.0L1334.9 642.8L1335.3 645.2L1335.7 630.1L1336.1 630.6L1336.5 628.4L1336.9 637.6L1337.3 631.4L1337.7 645.6L1338.1 642.3L1338.5 628.3L1338.9 636.2L1339.3 639.3L1339.7 637.6L1340.1 616.0L1340.5 633.2L1340.9 629.9L1341.3 636.8L1341.7 610.8L1342.1 631.7L1342.5 610.6L1342.9 619.3L1343.3 624.2L1343.7 627.8L1344.1 640.1L1344.5 623.2L1344.9 608.4L1345.3 621.7L1345.7 611.0L1346.1 620.2L1346.5 617.5L1346.9 630.3L1347.3 626.3L1347.7 619.4L1348.1 614.7L1348.5 634.6L1348.9 639.0L1349.3 627.6L1349.7 624.9L1350.1 620.4L1350.5 593.3L1350.9 631.7L1351.3 610.8L1351.7 621.5L1352.1 625.0L1352.4 638.4L1352.8 612.2L1353.2 609.4L1353.6 617.8L1354.0 617.0L1354.4 626.7L1354.8 639.8L1355.2 637.5L1355.6 636.7L1356.0 636.7L1356.4 632.2L1356.8 628.8L1357.2 617.1L1357.6 611.1L1358.0 626.7L1358.4 615.0L1358.8 624.2L1359.2 622.7L1359.6 615.5L1360.0 627.2L1360.4 618.7L1360.8 623.0L1361.2 628.6L1361.6 627.7L1362.0 588.3L1362.4 617.5L1362.8 624.5L1363.2 615.0L1363.6 624.0L1364.0 625.5L1364.4 621.2L1364.8 635.5L1365.2 621.4L1365.6 614.3L1366.0 615.4L1366.4 619.5L1366.8 609.0L1367.2 624.7L1367.6 606.1L1368.0 608.9L1368.4 615.4L1368.8 602.2L1369.2 623.6L1369.6 612.8L1370.0 617.2L1370.4 623.6L1370.8 617.4L1371.2 606.6L1371.6 607.3L1372.0 608.3L1372.4 627.6L1372.8 615.1L1373.2 616.6L1373.6 622.4L1374.0 614.9L1374.4 634.3L1374.8 625.2L1375.2 619.0L1375.6 618.9L1376.0 607.9L1376.4 618.6L1376.8 596.1L1377.2 639.5L1377.6 591.3L1378.0 620.0L1378.4 623.0L1378.8 620.4L1379.2 618.8L1379.6 617.2L1380.0 614.6L1380.4 608.0L1380.8 603.9L1381.2 620.5L1381.6 597.9L1382.0 606.8L1382.4 610.6L1382.8 602.5L1383.2 610.1L1383.6 594.9L1384.0 620.1L1384.4 596.3L1384.8 612.6L1385.2 601.0L1385.6 614.8L1386.0 591.8L1386.4 601.8L1386.8 598.7L1387.2 617.3L1387.6 621.8L1388.0 606.2L1388.4 574.2L1388.8 602.5L1389.2 636.8L1389.6 590.4L1390.0 614.7L1390.4 600.2L1390.8 612.8L1391.2 611.8L1391.6 601.9L1392.0 631.9L1392.4 613.9L1392.8 606.6L1393.2 608.9L1393.6 622.4L1394.0 591.5L1394.4 604.3L1394.8 607.3L1395.2 625.3L1395.6 604.6L1396.0 599.1L1396.4 595.8L1396.8 594.0L1397.2 601.9L1397.6 609.5L1398.0 600.8L1398.4 595.1L1398.8 604.1L1399.2 602.7L1399.6 597.7L1400.0 605.1L1400.4 595.9L1400.8 596.7L1401.2 609.5L1401.6 583.1L1402.0 592.6L1402.4 611.0L1402.8 608.1L1403.2 601.3L1403.6 605.8L1404.0 608.8L1404.4 595.0L1404.8 602.6L1405.2 609.2L1405.6 582.7L1406.0 603.3L1406.4 593.4L1406.8 609.9L1407.2 608.4L1407.6 605.9L1408.0 583.5L1408.4 587.3L1408.8 599.9L1409.2 600.5L1409.6 590.4L1410.0 603.7L1410.4 595.7L1410.8 581.5L1411.2 618.9L1411.6 588.4L1412.0 593.3L1412.4 590.1L1412.8 594.6L1413.2 581.7L1413.6 582.3L1413.9 585.3L1414.3 607.2L1414.7 587.6L1415.1 579.0L1415.5 604.0L1415.9 606.8L1416.3 591.0L1416.7 577.8L1417.1 601.9L1417.5 585.3L1417.9 594.8L1418.3 593.1L1418.7 584.1L1419.1 590.5L1419.5 596.3L1419.9 588.2L1420.3 572.0L1420.7 575.4L1421.1 579.8L1421.5 597.1L1421.9 592.2L1422.3 603.1L1422.7 577.0L1423.1 573.0L1423.5 582.9L1423.9 580.2L1424.3 590.5L1424.7 587.9L1425.1 567.9L1425.5 587.1L1425.9 570.0L1426.3 561.8L1426.7 596.0L1427.1 593.6L1427.5 563.2L1427.9 571.5L1428.3 563.2L1428.7 559.1L1429.1 584.1L1429.5 556.9L1429.9 563.3L1430.3 567.6L1430.7 574.2L1431.1 582.5L1431.5 589.8L1431.9 597.8L1432.3 587.7L1432.7 586.3L1433.1 574.2L1433.5 587.3L1433.9 600.3L1434.3 574.3L1434.7 605.0L1435.1 582.0L1435.5 559.4L1435.9 597.2L1436.3 589.0L1436.7 574.8L1437.1 559.6L1437.5 576.3L1437.9 578.2L1438.3 569.0L1438.7 598.4L1439.1 597.3L1439.5 563.2L1439.9 561.4L1440.3 566.8L1440.7 571.4L1441.1 566.1L1441.5 625.2L1441.9 590.2L1442.3 579.7L1442.7 559.2L1443.1 568.9L1443.5 567.7L1443.9 585.8L1444.3 570.0L1444.7 562.6L1445.1 557.6L1445.5 567.8L1445.9 540.6L1446.3 585.1L1446.7 556.9L1447.1 585.4L1447.5 583.3L1447.9 555.5L1448.3 574.5L1448.7 581.9L1449.1 567.7L1449.5 531.9L1449.9 577.0L1450.3 571.7L1450.7 528.4L1451.1 572.0L1451.5 528.8L1451.9 584.1L1452.3 569.0L1452.7 533.7L1453.1 565.8L1453.5 571.4L1453.9 589.0L1454.3 569.4L1454.7 551.6L1455.1 567.2L1455.5 595.6L1455.9 542.7L1456.3 549.9L1456.7 553.5L1457.1 563.8L1457.5 571.9L1457.9 541.7L1458.3 557.8L1458.7 564.3L1459.1 562.2L1459.5 547.5L1459.9 548.0L1460.3 559.5L1460.7 562.8L1461.1 571.8L1461.5 557.8L1461.9 555.9L1462.3 545.3L1462.7 552.4L1463.1 564.1L1463.5 557.9L1463.9 543.1L1464.3 553.7L1464.7 554.4L1465.1 555.6L1465.5 557.9L1465.9 545.0L1466.3 539.4L1466.7 554.2L1467.1 552.8L1467.5 542.8L1467.9 537.0L1468.3 500.4L1468.7 569.7L1469.1 531.1L1469.5 551.0L1469.9 538.4L1470.3 535.9L1470.7 520.5L1471.1 555.2L1471.5 529.2L1471.9 584.2L1472.3 542.8L1472.7 583.0L1473.1 558.0L1473.5 563.7L1473.9 568.6L1474.3 545.2L1474.7 562.8L1475.1 564.5L1475.4 574.8L1475.8 550.0L1476.2 532.4L1476.6 549.4L1477.0 557.1L1477.4 568.4L1477.8 520.6L1478.2 534.7L1478.6 514.3L1479.0 548.6L1479.4 512.9L1479.8 526.4L1480.2 499.8L1480.6 545.1L1481.0 521.8L1481.4 507.4L1481.8 541.3L1482.2 532.6L1482.6 539.6L1483.0 544.1L1483.4 515.3L1483.8 523.8L1484.2 550.0L1484.6 487.4L1485.0 541.0L1485.4 504.9L1485.8 526.9L1486.2 502.9L1486.6 504.8L1487.0 511.0L1487.4 511.1L1487.8 455.8L1488.2 538.0L1488.6 548.6L1489.0 553.9L1489.4 561.1L1489.8 513.6L1490.2 555.9L1490.6 551.1L1491.0 511.4L1491.4 521.2L1491.8 518.3L1492.2 568.0L1492.6 565.1L1493.0 540.5L1493.4 510.4L1493.8 510.6L1494.2 498.3L1494.6 482.4L1495.0 451.2L1495.4 514.5L1495.8 484.7L1496.2 480.7L1496.6 502.6L1497.0 519.4L1497.4 483.4L1497.8 484.5L1498.2 486.4L1498.6 513.3L1499.0 548.2L1499.4 515.7L1499.8 451.2L1500.2 467.7" fill="none" stroke="#2ca02c" stroke-width="2.083" stroke-dasharray="2.083 3.437"/>
</g>
<rect x="1174.60" y="438.40" width="399.00" height="292.00" fill="none" stroke="#000" stroke-width="1.11" stroke-linejoin="miter"/>
<path d="M1180.25 730.40v4.86M1245.45 730.40v4.86M1310.65 730.40v4.86M1375.85 730.40v4.86M1441.05 730.40v4.86M1506.25 730.40v4.86M1571.45 730.40v4.86" stroke="#000" stroke-width="1.11" fill="none"/>
<text x="1175.83" y="750.80" font-size="14.44">0</text>
<text x="1241.03" y="750.80" font-size="14.44">2</text>
<text x="1306.23" y="750.80" font-size="14.44">4</text>
<text x="1371.43" y="750.80" font-size="14.44">6</text>
<text x="1436.63" y="750.80" font-size="14.44">8</text>
<text x="1497.41" y="750.80" font-size="14.44" textLength="17.67" lengthAdjust="spacingAndGlyphs">10</text>
<text x="1562.61" y="750.80" font-size="14.44" textLength="17.67" lengthAdjust="spacingAndGlyphs">12</text>
<path d="M1174.60 723.75h-4.86M1174.60 662.64h-4.86M1174.60 601.52h-4.86M1174.60 540.41h-4.86M1174.60 479.30h-4.86" stroke="#000" stroke-width="1.11" fill="none"/>
<text x="1156.04" y="729.00" font-size="14.44">0</text>
<text x="1156.04" y="667.89" font-size="14.44">1</text>
<text x="1156.04" y="606.77" font-size="14.44">2</text>
<text x="1156.04" y="545.66" font-size="14.44">3</text>
<text x="1156.04" y="484.55" font-size="14.44">4</text>
<text x="1360.10" y="771.39" font-size="14.44" textLength="20.57" lengthAdjust="spacingAndGlyphs" font-style="italic">QR</text>
<text x="1380.66" y="773.69" font-size="10.11" font-style="italic">g</text>
<g transform="translate(1141.30 584.50) rotate(-90)">
<text x="-51.50" y="-0.37" font-size="14.44">(</text>
<text x="-46.09" y="-0.37" font-size="14.44" textLength="20.57" lengthAdjust="spacingAndGlyphs" font-style="italic">QR</text>
<text x="-25.53" y="1.93" font-size="10.11" font-style="italic">g</text>
<text x="-18.98" y="-0.37" font-size="14.44">)</text>
<text x="-13.43" y="-5.73" font-size="10.11">2</text>
<text x="-4.16" y="-0.37" font-size="14.44">×</text>
<text x="10.16" y="-0.37" font-size="14.44" font-style="italic">I</text>
<text x="14.26" y="-0.37" font-size="14.44">(</text>
<text x="19.67" y="-0.37" font-size="14.44" font-style="italic">Q</text>
<text x="30.59" y="-0.37" font-size="14.44" textLength="10.09" lengthAdjust="spacingAndGlyphs">)/</text>
<text x="40.68" y="-0.37" font-size="14.44" font-style="italic">I</text>
<text x="44.77" y="1.93" font-size="10.11">0</text>
</g>
<text x="1549.00" y="650.39" font-size="14.44" textLength="13.51" lengthAdjust="spacingAndGlyphs">3/</text>
<text x="1562.50" y="650.39" font-size="14.44" font-style="italic">e</text>
<path d="M1214.90 717.66l1.6 -0.9l2.9 6.6l3.4 -13.4h0.9" fill="none" stroke="#000" stroke-width="0.8"/>
<text x="1224.49" y="724.86" font-size="14.44">3</text>
<rect x="1222.76" y="712.37" width="12.30" height="0.87" fill="#000"/>
<rect x="1302.29" y="445.34" width="142.42" height="67.10" rx="2.8" ry="2.8" fill="#fff" fill-opacity="0.8" stroke="#ccc" stroke-width="1.11"/>
<path d="M1307.8 456.0L1335.6 456.0" fill="none" stroke="#1f77b4" stroke-width="2.083" stroke-dasharray="2.083 3.437"/>
<text x="1346.73" y="460.44" font-size="14.44" textLength="92.42" lengthAdjust="spacingAndGlyphs">component-1</text>
<path d="M1307.8 476.9L1335.6 476.9" fill="none" stroke="#ff7f0e" stroke-width="2.083" stroke-dasharray="2.083 3.437"/>
<text x="1346.73" y="481.34" font-size="14.44" textLength="92.42" lengthAdjust="spacingAndGlyphs">component-2</text>
<path d="M1307.8 497.8L1335.6 497.8" fill="none" stroke="#2ca02c" stroke-width="2.083" stroke-dasharray="2.083 3.437"/>
<text x="1346.73" y="502.24" font-size="14.44" textLength="92.42" lengthAdjust="spacingAndGlyphs">component-3</text>
</svg>
</body></html>
